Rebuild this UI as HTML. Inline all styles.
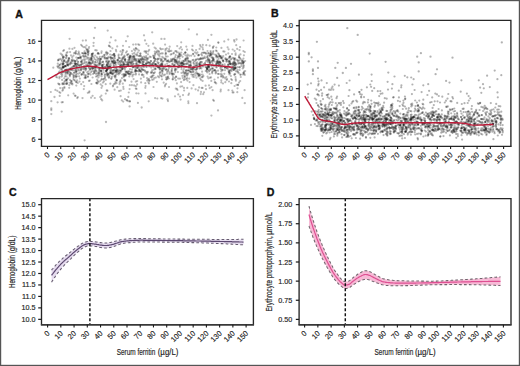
<!DOCTYPE html><html><head><meta charset="utf-8"><style>html,body{margin:0;padding:0;background:#fff}svg{display:block}text{stroke:#2a2a2a;stroke-width:0.16px}text.b{stroke:#111;stroke-width:0.35px}</style></head><body>
<svg width="520" height="366" viewBox="0 0 520 366" font-family='"Liberation Sans", sans-serif'>
<rect x="0" y="0" width="520" height="366" fill="#fff"/>
<g fill="#000" fill-opacity="0.27"><circle cx="201.4" cy="59.1" r="1.1"/><circle cx="108.3" cy="66.9" r="1.1"/><circle cx="205.6" cy="85.7" r="1.1"/><circle cx="108.8" cy="66.8" r="1.1"/><circle cx="99.4" cy="63.8" r="1.1"/><circle cx="148.3" cy="58.2" r="1.1"/><circle cx="91.7" cy="59.8" r="1.1"/><circle cx="169.5" cy="65.5" r="1.1"/><circle cx="172.7" cy="64.0" r="1.1"/><circle cx="146.8" cy="59.3" r="1.1"/><circle cx="185.0" cy="76.6" r="1.1"/><circle cx="121.9" cy="69.6" r="1.1"/><circle cx="212.1" cy="68.3" r="1.1"/><circle cx="101.9" cy="66.4" r="1.1"/><circle cx="174.8" cy="65.4" r="1.1"/><circle cx="67.4" cy="52.2" r="1.1"/><circle cx="120.2" cy="70.5" r="1.1"/><circle cx="61.1" cy="63.6" r="1.1"/><circle cx="112.8" cy="61.9" r="1.1"/><circle cx="209.4" cy="60.1" r="1.1"/><circle cx="241.2" cy="63.9" r="1.1"/><circle cx="168.0" cy="101.1" r="1.1"/><circle cx="182.0" cy="49.6" r="1.1"/><circle cx="135.7" cy="66.3" r="1.1"/><circle cx="128.3" cy="66.2" r="1.1"/><circle cx="239.0" cy="63.3" r="1.1"/><circle cx="181.1" cy="82.1" r="1.1"/><circle cx="220.7" cy="63.2" r="1.1"/><circle cx="75.3" cy="52.4" r="1.1"/><circle cx="161.1" cy="61.1" r="1.1"/><circle cx="87.2" cy="72.4" r="1.1"/><circle cx="157.7" cy="53.7" r="1.1"/><circle cx="222.6" cy="64.6" r="1.1"/><circle cx="161.1" cy="49.3" r="1.1"/><circle cx="130.0" cy="57.4" r="1.1"/><circle cx="112.6" cy="71.0" r="1.1"/><circle cx="238.9" cy="57.4" r="1.1"/><circle cx="133.4" cy="59.5" r="1.1"/><circle cx="220.4" cy="67.0" r="1.1"/><circle cx="165.1" cy="44.6" r="1.1"/><circle cx="119.1" cy="90.9" r="1.1"/><circle cx="79.1" cy="66.0" r="1.1"/><circle cx="208.2" cy="65.6" r="1.1"/><circle cx="131.5" cy="81.7" r="1.1"/><circle cx="204.8" cy="52.5" r="1.1"/><circle cx="191.6" cy="88.4" r="1.1"/><circle cx="88.4" cy="53.2" r="1.1"/><circle cx="84.6" cy="51.4" r="1.1"/><circle cx="235.2" cy="73.9" r="1.1"/><circle cx="116.1" cy="67.6" r="1.1"/><circle cx="235.9" cy="80.7" r="1.1"/><circle cx="241.5" cy="63.2" r="1.1"/><circle cx="195.0" cy="52.3" r="1.1"/><circle cx="62.9" cy="63.0" r="1.1"/><circle cx="98.6" cy="82.1" r="1.1"/><circle cx="182.0" cy="65.6" r="1.1"/><circle cx="114.6" cy="55.6" r="1.1"/><circle cx="89.2" cy="92.4" r="1.1"/><circle cx="91.2" cy="63.8" r="1.1"/><circle cx="214.0" cy="59.5" r="1.1"/><circle cx="167.7" cy="77.6" r="1.1"/><circle cx="166.0" cy="56.7" r="1.1"/><circle cx="140.7" cy="59.7" r="1.1"/><circle cx="173.9" cy="58.5" r="1.1"/><circle cx="61.6" cy="76.6" r="1.1"/><circle cx="192.5" cy="70.0" r="1.1"/><circle cx="221.4" cy="47.9" r="1.1"/><circle cx="228.8" cy="61.5" r="1.1"/><circle cx="55.4" cy="89.9" r="1.1"/><circle cx="99.0" cy="63.1" r="1.1"/><circle cx="86.2" cy="48.6" r="1.1"/><circle cx="82.0" cy="53.1" r="1.1"/><circle cx="233.3" cy="69.8" r="1.1"/><circle cx="208.4" cy="66.7" r="1.1"/><circle cx="169.1" cy="49.2" r="1.1"/><circle cx="162.0" cy="65.5" r="1.1"/><circle cx="216.7" cy="51.2" r="1.1"/><circle cx="115.8" cy="62.5" r="1.1"/><circle cx="71.6" cy="70.0" r="1.1"/><circle cx="74.8" cy="64.3" r="1.1"/><circle cx="222.3" cy="69.8" r="1.1"/><circle cx="161.8" cy="70.8" r="1.1"/><circle cx="168.8" cy="66.2" r="1.1"/><circle cx="179.0" cy="56.3" r="1.1"/><circle cx="113.6" cy="66.0" r="1.1"/><circle cx="81.1" cy="65.4" r="1.1"/><circle cx="176.9" cy="52.3" r="1.1"/><circle cx="123.8" cy="74.2" r="1.1"/><circle cx="138.9" cy="50.6" r="1.1"/><circle cx="69.3" cy="85.1" r="1.1"/><circle cx="75.7" cy="70.0" r="1.1"/><circle cx="212.2" cy="57.3" r="1.1"/><circle cx="122.3" cy="74.5" r="1.1"/><circle cx="91.6" cy="58.2" r="1.1"/><circle cx="114.1" cy="53.8" r="1.1"/><circle cx="65.5" cy="74.3" r="1.1"/><circle cx="162.9" cy="61.3" r="1.1"/><circle cx="64.7" cy="81.0" r="1.1"/><circle cx="75.2" cy="61.1" r="1.1"/><circle cx="75.1" cy="80.6" r="1.1"/><circle cx="227.0" cy="61.6" r="1.1"/><circle cx="109.5" cy="72.7" r="1.1"/><circle cx="170.9" cy="59.3" r="1.1"/><circle cx="123.0" cy="45.8" r="1.1"/><circle cx="68.4" cy="61.4" r="1.1"/><circle cx="181.5" cy="72.9" r="1.1"/><circle cx="62.1" cy="79.9" r="1.1"/><circle cx="197.8" cy="73.8" r="1.1"/><circle cx="101.6" cy="76.3" r="1.1"/><circle cx="74.1" cy="80.1" r="1.1"/><circle cx="206.1" cy="60.9" r="1.1"/><circle cx="201.7" cy="87.9" r="1.1"/><circle cx="175.1" cy="70.3" r="1.1"/><circle cx="198.2" cy="55.4" r="1.1"/><circle cx="190.8" cy="61.4" r="1.1"/><circle cx="123.6" cy="65.9" r="1.1"/><circle cx="155.7" cy="64.1" r="1.1"/><circle cx="156.8" cy="81.8" r="1.1"/><circle cx="124.2" cy="79.9" r="1.1"/><circle cx="229.6" cy="72.6" r="1.1"/><circle cx="76.5" cy="82.1" r="1.1"/><circle cx="244.0" cy="71.7" r="1.1"/><circle cx="229.8" cy="70.3" r="1.1"/><circle cx="72.4" cy="61.1" r="1.1"/><circle cx="162.1" cy="70.3" r="1.1"/><circle cx="196.5" cy="69.2" r="1.1"/><circle cx="228.6" cy="71.2" r="1.1"/><circle cx="200.1" cy="45.1" r="1.1"/><circle cx="142.2" cy="58.0" r="1.1"/><circle cx="110.9" cy="71.9" r="1.1"/><circle cx="190.5" cy="64.9" r="1.1"/><circle cx="97.8" cy="58.5" r="1.1"/><circle cx="94.0" cy="70.9" r="1.1"/><circle cx="73.6" cy="60.6" r="1.1"/><circle cx="218.0" cy="57.0" r="1.1"/><circle cx="85.5" cy="75.9" r="1.1"/><circle cx="101.6" cy="73.8" r="1.1"/><circle cx="104.9" cy="74.3" r="1.1"/><circle cx="172.6" cy="75.2" r="1.1"/><circle cx="127.0" cy="100.2" r="1.1"/><circle cx="220.6" cy="91.4" r="1.1"/><circle cx="76.2" cy="76.3" r="1.1"/><circle cx="90.2" cy="62.3" r="1.1"/><circle cx="57.4" cy="66.4" r="1.1"/><circle cx="167.0" cy="73.6" r="1.1"/><circle cx="95.8" cy="67.8" r="1.1"/><circle cx="183.0" cy="63.3" r="1.1"/><circle cx="108.6" cy="74.0" r="1.1"/><circle cx="229.6" cy="57.1" r="1.1"/><circle cx="79.9" cy="78.6" r="1.1"/><circle cx="67.4" cy="82.8" r="1.1"/><circle cx="162.2" cy="64.6" r="1.1"/><circle cx="104.7" cy="75.4" r="1.1"/><circle cx="187.1" cy="49.7" r="1.1"/><circle cx="235.7" cy="67.3" r="1.1"/><circle cx="130.8" cy="63.9" r="1.1"/><circle cx="213.0" cy="52.4" r="1.1"/><circle cx="180.6" cy="99.6" r="1.1"/><circle cx="157.5" cy="59.6" r="1.1"/><circle cx="62.3" cy="68.2" r="1.1"/><circle cx="141.3" cy="71.6" r="1.1"/><circle cx="190.6" cy="65.7" r="1.1"/><circle cx="192.6" cy="76.6" r="1.1"/><circle cx="159.7" cy="73.6" r="1.1"/><circle cx="232.0" cy="80.0" r="1.1"/><circle cx="138.2" cy="44.3" r="1.1"/><circle cx="157.4" cy="50.7" r="1.1"/><circle cx="165.7" cy="53.2" r="1.1"/><circle cx="87.8" cy="92.8" r="1.1"/><circle cx="88.2" cy="55.1" r="1.1"/><circle cx="196.4" cy="53.6" r="1.1"/><circle cx="157.9" cy="76.4" r="1.1"/><circle cx="140.7" cy="56.1" r="1.1"/><circle cx="209.9" cy="56.1" r="1.1"/><circle cx="175.2" cy="59.8" r="1.1"/><circle cx="158.8" cy="67.2" r="1.1"/><circle cx="195.3" cy="73.4" r="1.1"/><circle cx="140.9" cy="71.7" r="1.1"/><circle cx="148.1" cy="79.5" r="1.1"/><circle cx="211.4" cy="53.4" r="1.1"/><circle cx="137.1" cy="67.8" r="1.1"/><circle cx="218.0" cy="77.6" r="1.1"/><circle cx="158.7" cy="51.1" r="1.1"/><circle cx="182.2" cy="66.5" r="1.1"/><circle cx="131.9" cy="85.2" r="1.1"/><circle cx="106.8" cy="65.6" r="1.1"/><circle cx="118.5" cy="55.8" r="1.1"/><circle cx="122.3" cy="66.5" r="1.1"/><circle cx="123.3" cy="86.9" r="1.1"/><circle cx="222.7" cy="60.2" r="1.1"/><circle cx="183.8" cy="80.1" r="1.1"/><circle cx="219.2" cy="61.5" r="1.1"/><circle cx="146.3" cy="53.1" r="1.1"/><circle cx="131.8" cy="60.5" r="1.1"/><circle cx="199.9" cy="59.0" r="1.1"/><circle cx="122.6" cy="57.6" r="1.1"/><circle cx="88.9" cy="62.0" r="1.1"/><circle cx="187.9" cy="70.4" r="1.1"/><circle cx="209.6" cy="63.5" r="1.1"/><circle cx="61.7" cy="69.4" r="1.1"/><circle cx="97.7" cy="53.8" r="1.1"/><circle cx="123.2" cy="50.4" r="1.1"/><circle cx="100.0" cy="61.2" r="1.1"/><circle cx="152.2" cy="79.8" r="1.1"/><circle cx="106.1" cy="70.9" r="1.1"/><circle cx="99.7" cy="61.0" r="1.1"/><circle cx="132.3" cy="65.4" r="1.1"/><circle cx="188.5" cy="61.1" r="1.1"/><circle cx="76.3" cy="85.6" r="1.1"/><circle cx="230.3" cy="56.8" r="1.1"/><circle cx="171.1" cy="60.9" r="1.1"/><circle cx="196.4" cy="77.7" r="1.1"/><circle cx="99.8" cy="63.7" r="1.1"/><circle cx="145.3" cy="83.2" r="1.1"/><circle cx="135.9" cy="64.1" r="1.1"/><circle cx="76.1" cy="51.2" r="1.1"/><circle cx="83.5" cy="53.5" r="1.1"/><circle cx="237.8" cy="60.3" r="1.1"/><circle cx="85.5" cy="56.2" r="1.1"/><circle cx="142.4" cy="63.5" r="1.1"/><circle cx="139.2" cy="69.3" r="1.1"/><circle cx="102.3" cy="67.1" r="1.1"/><circle cx="85.5" cy="70.5" r="1.1"/><circle cx="129.1" cy="59.0" r="1.1"/><circle cx="209.5" cy="61.6" r="1.1"/><circle cx="180.4" cy="86.7" r="1.1"/><circle cx="179.4" cy="56.7" r="1.1"/><circle cx="200.7" cy="94.1" r="1.1"/><circle cx="71.9" cy="63.3" r="1.1"/><circle cx="169.3" cy="66.4" r="1.1"/><circle cx="182.4" cy="75.9" r="1.1"/><circle cx="236.0" cy="71.2" r="1.1"/><circle cx="115.2" cy="63.1" r="1.1"/><circle cx="185.4" cy="52.7" r="1.1"/><circle cx="115.4" cy="77.7" r="1.1"/><circle cx="75.4" cy="63.4" r="1.1"/><circle cx="109.0" cy="61.4" r="1.1"/><circle cx="231.2" cy="79.2" r="1.1"/><circle cx="225.5" cy="58.1" r="1.1"/><circle cx="216.6" cy="62.2" r="1.1"/><circle cx="97.6" cy="68.0" r="1.1"/><circle cx="206.1" cy="67.4" r="1.1"/><circle cx="91.1" cy="97.7" r="1.1"/><circle cx="233.4" cy="67.3" r="1.1"/><circle cx="187.1" cy="78.2" r="1.1"/><circle cx="209.1" cy="67.4" r="1.1"/><circle cx="150.6" cy="65.5" r="1.1"/><circle cx="66.0" cy="70.5" r="1.1"/><circle cx="199.3" cy="63.8" r="1.1"/><circle cx="110.7" cy="72.9" r="1.1"/><circle cx="138.5" cy="93.5" r="1.1"/><circle cx="106.9" cy="68.9" r="1.1"/><circle cx="174.0" cy="74.2" r="1.1"/><circle cx="123.6" cy="76.1" r="1.1"/><circle cx="186.3" cy="66.8" r="1.1"/><circle cx="189.2" cy="78.6" r="1.1"/><circle cx="192.6" cy="60.1" r="1.1"/><circle cx="137.2" cy="65.4" r="1.1"/><circle cx="109.3" cy="64.6" r="1.1"/><circle cx="92.5" cy="61.5" r="1.1"/><circle cx="83.4" cy="47.1" r="1.1"/><circle cx="140.7" cy="67.5" r="1.1"/><circle cx="102.9" cy="82.6" r="1.1"/><circle cx="148.7" cy="101.3" r="1.1"/><circle cx="73.9" cy="72.9" r="1.1"/><circle cx="142.3" cy="61.0" r="1.1"/><circle cx="62.5" cy="67.2" r="1.1"/><circle cx="121.8" cy="67.3" r="1.1"/><circle cx="63.8" cy="63.5" r="1.1"/><circle cx="208.6" cy="53.4" r="1.1"/><circle cx="112.1" cy="55.2" r="1.1"/><circle cx="126.3" cy="64.8" r="1.1"/><circle cx="65.5" cy="66.0" r="1.1"/><circle cx="236.2" cy="45.2" r="1.1"/><circle cx="176.2" cy="76.9" r="1.1"/><circle cx="161.3" cy="75.8" r="1.1"/><circle cx="164.9" cy="86.3" r="1.1"/><circle cx="157.3" cy="61.7" r="1.1"/><circle cx="163.6" cy="57.8" r="1.1"/><circle cx="82.0" cy="62.4" r="1.1"/><circle cx="209.5" cy="55.6" r="1.1"/><circle cx="156.2" cy="52.5" r="1.1"/><circle cx="128.4" cy="64.9" r="1.1"/><circle cx="122.4" cy="61.9" r="1.1"/><circle cx="184.0" cy="64.0" r="1.1"/><circle cx="70.4" cy="69.4" r="1.1"/><circle cx="230.4" cy="64.0" r="1.1"/><circle cx="98.4" cy="73.2" r="1.1"/><circle cx="58.2" cy="83.6" r="1.1"/><circle cx="87.2" cy="49.5" r="1.1"/><circle cx="230.0" cy="64.1" r="1.1"/><circle cx="83.0" cy="53.3" r="1.1"/><circle cx="152.1" cy="70.4" r="1.1"/><circle cx="135.2" cy="50.6" r="1.1"/><circle cx="196.5" cy="69.6" r="1.1"/><circle cx="207.8" cy="62.0" r="1.1"/><circle cx="202.5" cy="47.4" r="1.1"/><circle cx="220.1" cy="56.2" r="1.1"/><circle cx="138.7" cy="55.9" r="1.1"/><circle cx="149.0" cy="83.5" r="1.1"/><circle cx="76.7" cy="73.8" r="1.1"/><circle cx="59.7" cy="95.9" r="1.1"/><circle cx="75.0" cy="61.6" r="1.1"/><circle cx="104.5" cy="56.7" r="1.1"/><circle cx="114.3" cy="54.2" r="1.1"/><circle cx="99.6" cy="75.5" r="1.1"/><circle cx="197.3" cy="67.7" r="1.1"/><circle cx="110.3" cy="67.1" r="1.1"/><circle cx="99.1" cy="73.8" r="1.1"/><circle cx="135.2" cy="71.8" r="1.1"/><circle cx="232.7" cy="63.4" r="1.1"/><circle cx="189.0" cy="65.5" r="1.1"/><circle cx="185.8" cy="71.3" r="1.1"/><circle cx="226.9" cy="67.8" r="1.1"/><circle cx="67.6" cy="62.7" r="1.1"/><circle cx="233.2" cy="68.7" r="1.1"/><circle cx="229.3" cy="71.2" r="1.1"/><circle cx="62.6" cy="55.7" r="1.1"/><circle cx="139.3" cy="44.9" r="1.1"/><circle cx="193.9" cy="77.1" r="1.1"/><circle cx="244.8" cy="75.0" r="1.1"/><circle cx="208.7" cy="58.6" r="1.1"/><circle cx="243.8" cy="65.5" r="1.1"/><circle cx="234.7" cy="66.2" r="1.1"/><circle cx="233.6" cy="67.8" r="1.1"/><circle cx="122.9" cy="58.9" r="1.1"/><circle cx="141.8" cy="69.6" r="1.1"/><circle cx="125.1" cy="81.0" r="1.1"/><circle cx="76.9" cy="59.9" r="1.1"/><circle cx="197.2" cy="62.3" r="1.1"/><circle cx="94.6" cy="64.6" r="1.1"/><circle cx="103.9" cy="78.8" r="1.1"/><circle cx="198.5" cy="59.4" r="1.1"/><circle cx="112.8" cy="58.5" r="1.1"/><circle cx="86.0" cy="65.2" r="1.1"/><circle cx="107.5" cy="61.4" r="1.1"/><circle cx="162.7" cy="53.4" r="1.1"/><circle cx="117.7" cy="62.5" r="1.1"/><circle cx="165.0" cy="58.8" r="1.1"/><circle cx="187.9" cy="64.2" r="1.1"/><circle cx="239.4" cy="67.2" r="1.1"/><circle cx="99.1" cy="71.7" r="1.1"/><circle cx="243.7" cy="62.1" r="1.1"/><circle cx="235.6" cy="63.4" r="1.1"/><circle cx="151.6" cy="64.6" r="1.1"/><circle cx="187.1" cy="56.3" r="1.1"/><circle cx="113.7" cy="60.2" r="1.1"/><circle cx="64.3" cy="60.9" r="1.1"/><circle cx="114.8" cy="76.7" r="1.1"/><circle cx="134.7" cy="58.4" r="1.1"/><circle cx="188.2" cy="73.2" r="1.1"/><circle cx="225.3" cy="82.2" r="1.1"/><circle cx="67.7" cy="73.7" r="1.1"/><circle cx="173.5" cy="53.5" r="1.1"/><circle cx="80.0" cy="57.4" r="1.1"/><circle cx="115.2" cy="83.7" r="1.1"/><circle cx="66.4" cy="76.4" r="1.1"/><circle cx="182.0" cy="63.3" r="1.1"/><circle cx="170.5" cy="66.9" r="1.1"/><circle cx="100.5" cy="63.6" r="1.1"/><circle cx="175.0" cy="96.3" r="1.1"/><circle cx="62.6" cy="83.2" r="1.1"/><circle cx="203.5" cy="64.0" r="1.1"/><circle cx="84.2" cy="86.1" r="1.1"/><circle cx="97.3" cy="73.3" r="1.1"/><circle cx="128.3" cy="57.1" r="1.1"/><circle cx="148.4" cy="45.8" r="1.1"/><circle cx="136.2" cy="59.0" r="1.1"/><circle cx="189.0" cy="93.6" r="1.1"/><circle cx="111.5" cy="78.5" r="1.1"/><circle cx="233.4" cy="62.2" r="1.1"/><circle cx="68.4" cy="59.8" r="1.1"/><circle cx="243.5" cy="73.1" r="1.1"/><circle cx="60.2" cy="88.1" r="1.1"/><circle cx="148.2" cy="62.2" r="1.1"/><circle cx="74.0" cy="53.1" r="1.1"/><circle cx="129.3" cy="60.4" r="1.1"/><circle cx="171.6" cy="71.7" r="1.1"/><circle cx="162.3" cy="68.2" r="1.1"/><circle cx="209.6" cy="74.0" r="1.1"/><circle cx="186.3" cy="79.2" r="1.1"/><circle cx="155.1" cy="98.1" r="1.1"/><circle cx="133.5" cy="55.9" r="1.1"/><circle cx="60.6" cy="53.6" r="1.1"/><circle cx="124.2" cy="64.3" r="1.1"/><circle cx="107.4" cy="66.8" r="1.1"/><circle cx="83.4" cy="73.2" r="1.1"/><circle cx="237.5" cy="88.3" r="1.1"/><circle cx="106.3" cy="61.9" r="1.1"/><circle cx="105.8" cy="93.6" r="1.1"/><circle cx="114.9" cy="58.4" r="1.1"/><circle cx="230.8" cy="59.4" r="1.1"/><circle cx="207.6" cy="76.6" r="1.1"/><circle cx="123.7" cy="57.4" r="1.1"/><circle cx="63.1" cy="67.7" r="1.1"/><circle cx="171.5" cy="66.4" r="1.1"/><circle cx="207.5" cy="56.9" r="1.1"/><circle cx="239.5" cy="50.1" r="1.1"/><circle cx="171.3" cy="50.9" r="1.1"/><circle cx="88.7" cy="48.5" r="1.1"/><circle cx="106.4" cy="74.3" r="1.1"/><circle cx="74.6" cy="70.4" r="1.1"/><circle cx="230.1" cy="73.5" r="1.1"/><circle cx="75.8" cy="74.6" r="1.1"/><circle cx="163.7" cy="68.9" r="1.1"/><circle cx="133.6" cy="79.1" r="1.1"/><circle cx="179.6" cy="48.5" r="1.1"/><circle cx="127.7" cy="54.7" r="1.1"/><circle cx="226.6" cy="59.8" r="1.1"/><circle cx="190.2" cy="62.2" r="1.1"/><circle cx="224.7" cy="66.6" r="1.1"/><circle cx="181.2" cy="66.6" r="1.1"/><circle cx="237.3" cy="92.2" r="1.1"/><circle cx="81.1" cy="69.6" r="1.1"/><circle cx="66.4" cy="57.4" r="1.1"/><circle cx="165.5" cy="67.1" r="1.1"/><circle cx="70.8" cy="73.1" r="1.1"/><circle cx="207.0" cy="67.8" r="1.1"/><circle cx="76.5" cy="65.9" r="1.1"/><circle cx="172.8" cy="58.8" r="1.1"/><circle cx="218.7" cy="66.0" r="1.1"/><circle cx="149.5" cy="80.6" r="1.1"/><circle cx="159.9" cy="58.6" r="1.1"/><circle cx="192.7" cy="74.8" r="1.1"/><circle cx="132.5" cy="75.0" r="1.1"/><circle cx="202.1" cy="71.7" r="1.1"/><circle cx="174.8" cy="78.2" r="1.1"/><circle cx="141.3" cy="60.1" r="1.1"/><circle cx="111.4" cy="61.0" r="1.1"/><circle cx="235.1" cy="63.3" r="1.1"/><circle cx="244.3" cy="73.9" r="1.1"/><circle cx="63.9" cy="60.9" r="1.1"/><circle cx="85.8" cy="75.0" r="1.1"/><circle cx="109.2" cy="67.9" r="1.1"/><circle cx="113.9" cy="70.4" r="1.1"/><circle cx="237.6" cy="67.2" r="1.1"/><circle cx="219.8" cy="55.9" r="1.1"/><circle cx="107.0" cy="70.1" r="1.1"/><circle cx="106.1" cy="71.7" r="1.1"/><circle cx="65.7" cy="61.9" r="1.1"/><circle cx="196.4" cy="72.0" r="1.1"/><circle cx="78.4" cy="73.7" r="1.1"/><circle cx="107.6" cy="68.0" r="1.1"/><circle cx="61.0" cy="73.9" r="1.1"/><circle cx="242.1" cy="61.7" r="1.1"/><circle cx="200.2" cy="78.4" r="1.1"/><circle cx="220.6" cy="57.0" r="1.1"/><circle cx="219.7" cy="56.7" r="1.1"/><circle cx="189.6" cy="65.2" r="1.1"/><circle cx="101.5" cy="87.8" r="1.1"/><circle cx="165.3" cy="64.7" r="1.1"/><circle cx="231.9" cy="68.4" r="1.1"/><circle cx="87.4" cy="58.6" r="1.1"/><circle cx="209.7" cy="88.2" r="1.1"/><circle cx="149.8" cy="56.7" r="1.1"/><circle cx="177.8" cy="66.8" r="1.1"/><circle cx="66.5" cy="55.6" r="1.1"/><circle cx="221.9" cy="74.3" r="1.1"/><circle cx="59.9" cy="64.8" r="1.1"/><circle cx="124.8" cy="59.4" r="1.1"/><circle cx="115.7" cy="76.1" r="1.1"/><circle cx="187.8" cy="57.9" r="1.1"/><circle cx="209.0" cy="71.4" r="1.1"/><circle cx="238.2" cy="63.4" r="1.1"/><circle cx="74.4" cy="72.5" r="1.1"/><circle cx="107.7" cy="68.5" r="1.1"/><circle cx="168.8" cy="61.8" r="1.1"/><circle cx="66.5" cy="83.7" r="1.1"/><circle cx="221.2" cy="65.9" r="1.1"/><circle cx="74.5" cy="47.8" r="1.1"/><circle cx="143.5" cy="62.4" r="1.1"/><circle cx="147.1" cy="73.6" r="1.1"/><circle cx="129.4" cy="74.0" r="1.1"/><circle cx="81.0" cy="57.3" r="1.1"/><circle cx="66.5" cy="79.9" r="1.1"/><circle cx="228.6" cy="49.3" r="1.1"/><circle cx="100.7" cy="84.4" r="1.1"/><circle cx="66.1" cy="83.7" r="1.1"/><circle cx="65.9" cy="58.3" r="1.1"/><circle cx="106.9" cy="65.0" r="1.1"/><circle cx="99.6" cy="65.2" r="1.1"/><circle cx="199.1" cy="87.4" r="1.1"/><circle cx="119.7" cy="82.4" r="1.1"/><circle cx="192.0" cy="49.6" r="1.1"/><circle cx="159.1" cy="77.3" r="1.1"/><circle cx="235.1" cy="68.4" r="1.1"/><circle cx="120.8" cy="90.6" r="1.1"/><circle cx="74.3" cy="60.6" r="1.1"/><circle cx="85.9" cy="68.2" r="1.1"/><circle cx="223.8" cy="77.3" r="1.1"/><circle cx="181.1" cy="63.0" r="1.1"/><circle cx="57.8" cy="63.7" r="1.1"/><circle cx="147.4" cy="62.9" r="1.1"/><circle cx="148.3" cy="62.8" r="1.1"/><circle cx="178.2" cy="78.6" r="1.1"/><circle cx="58.6" cy="59.7" r="1.1"/><circle cx="225.3" cy="59.0" r="1.1"/><circle cx="153.9" cy="73.3" r="1.1"/><circle cx="233.4" cy="65.2" r="1.1"/><circle cx="129.8" cy="85.2" r="1.1"/><circle cx="193.7" cy="66.5" r="1.1"/><circle cx="64.2" cy="82.4" r="1.1"/><circle cx="240.0" cy="62.9" r="1.1"/><circle cx="201.2" cy="64.3" r="1.1"/><circle cx="139.6" cy="70.4" r="1.1"/><circle cx="184.1" cy="61.6" r="1.1"/><circle cx="189.5" cy="66.4" r="1.1"/><circle cx="130.4" cy="65.6" r="1.1"/><circle cx="146.1" cy="63.2" r="1.1"/><circle cx="96.9" cy="66.1" r="1.1"/><circle cx="135.7" cy="60.9" r="1.1"/><circle cx="116.8" cy="74.1" r="1.1"/><circle cx="226.2" cy="61.5" r="1.1"/><circle cx="158.1" cy="59.1" r="1.1"/><circle cx="179.9" cy="78.7" r="1.1"/><circle cx="113.4" cy="54.9" r="1.1"/><circle cx="101.2" cy="58.5" r="1.1"/><circle cx="183.0" cy="95.1" r="1.1"/><circle cx="207.9" cy="59.0" r="1.1"/><circle cx="112.4" cy="48.3" r="1.1"/><circle cx="65.9" cy="54.9" r="1.1"/><circle cx="162.3" cy="63.5" r="1.1"/><circle cx="137.0" cy="55.5" r="1.1"/><circle cx="191.7" cy="72.2" r="1.1"/><circle cx="195.5" cy="75.6" r="1.1"/><circle cx="66.7" cy="62.7" r="1.1"/><circle cx="223.4" cy="61.1" r="1.1"/><circle cx="200.7" cy="58.6" r="1.1"/><circle cx="186.0" cy="63.9" r="1.1"/><circle cx="112.6" cy="61.6" r="1.1"/><circle cx="153.4" cy="66.8" r="1.1"/><circle cx="174.4" cy="59.4" r="1.1"/><circle cx="124.7" cy="56.7" r="1.1"/><circle cx="117.1" cy="70.3" r="1.1"/><circle cx="139.5" cy="56.1" r="1.1"/><circle cx="92.6" cy="77.5" r="1.1"/><circle cx="63.9" cy="67.4" r="1.1"/><circle cx="224.5" cy="51.6" r="1.1"/><circle cx="70.1" cy="52.1" r="1.1"/><circle cx="74.4" cy="63.2" r="1.1"/><circle cx="73.5" cy="66.2" r="1.1"/><circle cx="146.4" cy="72.7" r="1.1"/><circle cx="111.9" cy="61.4" r="1.1"/><circle cx="120.5" cy="51.4" r="1.1"/><circle cx="77.0" cy="76.3" r="1.1"/><circle cx="134.2" cy="58.4" r="1.1"/><circle cx="210.4" cy="62.3" r="1.1"/><circle cx="75.7" cy="61.3" r="1.1"/><circle cx="175.8" cy="88.7" r="1.1"/><circle cx="122.0" cy="59.1" r="1.1"/><circle cx="230.9" cy="76.0" r="1.1"/><circle cx="126.9" cy="51.3" r="1.1"/><circle cx="185.9" cy="61.2" r="1.1"/><circle cx="205.7" cy="71.0" r="1.1"/><circle cx="178.7" cy="52.5" r="1.1"/><circle cx="140.4" cy="53.3" r="1.1"/><circle cx="128.4" cy="64.7" r="1.1"/><circle cx="86.5" cy="45.5" r="1.1"/><circle cx="140.1" cy="70.7" r="1.1"/><circle cx="176.3" cy="60.8" r="1.1"/><circle cx="210.7" cy="52.3" r="1.1"/><circle cx="195.8" cy="59.6" r="1.1"/><circle cx="212.0" cy="65.8" r="1.1"/><circle cx="181.2" cy="63.9" r="1.1"/><circle cx="115.7" cy="70.5" r="1.1"/><circle cx="79.9" cy="72.8" r="1.1"/><circle cx="121.7" cy="60.9" r="1.1"/><circle cx="216.3" cy="71.3" r="1.1"/><circle cx="92.1" cy="71.0" r="1.1"/><circle cx="67.6" cy="61.2" r="1.1"/><circle cx="235.6" cy="54.9" r="1.1"/><circle cx="149.2" cy="49.9" r="1.1"/><circle cx="135.9" cy="73.5" r="1.1"/><circle cx="148.5" cy="82.4" r="1.1"/><circle cx="109.7" cy="67.2" r="1.1"/><circle cx="243.1" cy="64.1" r="1.1"/><circle cx="216.6" cy="56.1" r="1.1"/><circle cx="133.3" cy="67.2" r="1.1"/><circle cx="70.3" cy="68.6" r="1.1"/><circle cx="117.9" cy="66.8" r="1.1"/><circle cx="230.4" cy="63.6" r="1.1"/><circle cx="78.1" cy="57.8" r="1.1"/><circle cx="80.7" cy="58.4" r="1.1"/><circle cx="234.3" cy="68.3" r="1.1"/><circle cx="86.6" cy="62.1" r="1.1"/><circle cx="177.2" cy="46.1" r="1.1"/><circle cx="99.8" cy="56.8" r="1.1"/><circle cx="145.2" cy="71.5" r="1.1"/><circle cx="139.0" cy="59.9" r="1.1"/><circle cx="63.0" cy="89.7" r="1.1"/><circle cx="95.4" cy="71.5" r="1.1"/><circle cx="87.7" cy="65.8" r="1.1"/><circle cx="216.5" cy="64.2" r="1.1"/><circle cx="111.3" cy="69.5" r="1.1"/><circle cx="135.8" cy="88.5" r="1.1"/><circle cx="132.0" cy="69.7" r="1.1"/><circle cx="64.3" cy="78.3" r="1.1"/><circle cx="143.3" cy="67.1" r="1.1"/><circle cx="176.0" cy="63.1" r="1.1"/><circle cx="70.1" cy="82.9" r="1.1"/><circle cx="110.0" cy="66.3" r="1.1"/><circle cx="183.3" cy="64.5" r="1.1"/><circle cx="107.8" cy="74.8" r="1.1"/><circle cx="230.5" cy="70.4" r="1.1"/><circle cx="117.8" cy="60.5" r="1.1"/><circle cx="116.2" cy="68.1" r="1.1"/><circle cx="216.2" cy="83.4" r="1.1"/><circle cx="243.5" cy="67.5" r="1.1"/><circle cx="121.2" cy="71.4" r="1.1"/><circle cx="179.0" cy="66.1" r="1.1"/><circle cx="128.1" cy="61.6" r="1.1"/><circle cx="184.2" cy="64.2" r="1.1"/><circle cx="140.9" cy="78.7" r="1.1"/><circle cx="154.2" cy="78.0" r="1.1"/><circle cx="95.8" cy="67.1" r="1.1"/><circle cx="86.8" cy="66.3" r="1.1"/><circle cx="130.7" cy="56.1" r="1.1"/><circle cx="120.5" cy="81.5" r="1.1"/><circle cx="207.7" cy="55.5" r="1.1"/><circle cx="135.4" cy="54.5" r="1.1"/><circle cx="155.7" cy="59.2" r="1.1"/><circle cx="112.5" cy="58.1" r="1.1"/><circle cx="223.3" cy="56.0" r="1.1"/><circle cx="145.3" cy="87.8" r="1.1"/><circle cx="139.8" cy="62.1" r="1.1"/><circle cx="143.7" cy="61.4" r="1.1"/><circle cx="77.1" cy="67.9" r="1.1"/><circle cx="182.1" cy="65.3" r="1.1"/><circle cx="122.5" cy="52.0" r="1.1"/><circle cx="212.6" cy="90.2" r="1.1"/><circle cx="65.0" cy="70.4" r="1.1"/><circle cx="112.8" cy="73.3" r="1.1"/><circle cx="172.7" cy="79.1" r="1.1"/><circle cx="93.1" cy="60.9" r="1.1"/><circle cx="198.5" cy="76.3" r="1.1"/><circle cx="81.0" cy="61.8" r="1.1"/><circle cx="123.8" cy="62.3" r="1.1"/><circle cx="61.4" cy="59.7" r="1.1"/><circle cx="137.4" cy="49.3" r="1.1"/><circle cx="124.8" cy="60.4" r="1.1"/><circle cx="123.3" cy="67.9" r="1.1"/><circle cx="146.9" cy="71.9" r="1.1"/><circle cx="205.2" cy="62.7" r="1.1"/><circle cx="139.3" cy="62.3" r="1.1"/><circle cx="208.4" cy="78.3" r="1.1"/><circle cx="190.7" cy="63.3" r="1.1"/><circle cx="186.4" cy="63.8" r="1.1"/><circle cx="100.0" cy="59.4" r="1.1"/><circle cx="178.2" cy="62.5" r="1.1"/><circle cx="201.4" cy="68.5" r="1.1"/><circle cx="56.5" cy="75.1" r="1.1"/><circle cx="101.9" cy="79.1" r="1.1"/><circle cx="83.2" cy="82.1" r="1.1"/><circle cx="116.8" cy="80.1" r="1.1"/><circle cx="153.5" cy="87.0" r="1.1"/><circle cx="97.7" cy="61.0" r="1.1"/><circle cx="193.4" cy="85.2" r="1.1"/><circle cx="62.9" cy="56.9" r="1.1"/><circle cx="162.5" cy="69.2" r="1.1"/><circle cx="134.5" cy="56.4" r="1.1"/><circle cx="150.9" cy="72.4" r="1.1"/><circle cx="101.4" cy="72.5" r="1.1"/><circle cx="202.4" cy="66.3" r="1.1"/><circle cx="88.9" cy="63.0" r="1.1"/><circle cx="240.8" cy="74.5" r="1.1"/><circle cx="154.8" cy="64.3" r="1.1"/><circle cx="232.7" cy="64.3" r="1.1"/><circle cx="131.4" cy="72.4" r="1.1"/><circle cx="82.2" cy="60.0" r="1.1"/><circle cx="202.6" cy="87.9" r="1.1"/><circle cx="181.7" cy="62.9" r="1.1"/><circle cx="94.5" cy="68.7" r="1.1"/><circle cx="187.1" cy="75.7" r="1.1"/><circle cx="137.5" cy="68.1" r="1.1"/><circle cx="94.0" cy="67.3" r="1.1"/><circle cx="131.1" cy="62.9" r="1.1"/><circle cx="79.5" cy="54.7" r="1.1"/><circle cx="88.0" cy="76.7" r="1.1"/><circle cx="81.2" cy="84.2" r="1.1"/><circle cx="88.9" cy="80.9" r="1.1"/><circle cx="213.7" cy="70.5" r="1.1"/><circle cx="67.7" cy="64.5" r="1.1"/><circle cx="147.2" cy="80.6" r="1.1"/><circle cx="202.5" cy="77.2" r="1.1"/><circle cx="146.8" cy="61.2" r="1.1"/><circle cx="138.5" cy="62.0" r="1.1"/><circle cx="81.0" cy="64.8" r="1.1"/><circle cx="101.4" cy="71.2" r="1.1"/><circle cx="202.8" cy="44.9" r="1.1"/><circle cx="89.7" cy="64.5" r="1.1"/><circle cx="110.7" cy="71.4" r="1.1"/><circle cx="122.6" cy="50.0" r="1.1"/><circle cx="216.5" cy="57.5" r="1.1"/><circle cx="137.9" cy="65.7" r="1.1"/><circle cx="62.9" cy="58.8" r="1.1"/><circle cx="179.1" cy="62.1" r="1.1"/><circle cx="129.7" cy="57.9" r="1.1"/><circle cx="67.3" cy="65.1" r="1.1"/><circle cx="69.7" cy="74.6" r="1.1"/><circle cx="95.2" cy="55.6" r="1.1"/><circle cx="138.0" cy="61.4" r="1.1"/><circle cx="237.6" cy="72.2" r="1.1"/><circle cx="113.2" cy="70.3" r="1.1"/><circle cx="64.4" cy="88.1" r="1.1"/><circle cx="184.2" cy="66.5" r="1.1"/><circle cx="113.4" cy="63.8" r="1.1"/><circle cx="231.5" cy="58.7" r="1.1"/><circle cx="234.1" cy="63.1" r="1.1"/><circle cx="66.4" cy="79.5" r="1.1"/><circle cx="179.7" cy="53.9" r="1.1"/><circle cx="160.5" cy="69.2" r="1.1"/><circle cx="229.5" cy="56.8" r="1.1"/><circle cx="87.9" cy="50.2" r="1.1"/><circle cx="92.2" cy="67.5" r="1.1"/><circle cx="239.9" cy="57.9" r="1.1"/><circle cx="107.3" cy="75.1" r="1.1"/><circle cx="68.2" cy="69.1" r="1.1"/><circle cx="212.9" cy="48.1" r="1.1"/><circle cx="165.5" cy="49.2" r="1.1"/><circle cx="185.3" cy="52.5" r="1.1"/><circle cx="106.7" cy="58.2" r="1.1"/><circle cx="120.0" cy="70.7" r="1.1"/><circle cx="145.5" cy="93.4" r="1.1"/><circle cx="116.4" cy="79.9" r="1.1"/><circle cx="234.6" cy="60.8" r="1.1"/><circle cx="207.9" cy="64.8" r="1.1"/><circle cx="104.0" cy="81.4" r="1.1"/><circle cx="91.4" cy="58.8" r="1.1"/><circle cx="135.5" cy="68.4" r="1.1"/><circle cx="201.9" cy="77.0" r="1.1"/><circle cx="234.0" cy="58.3" r="1.1"/><circle cx="106.7" cy="70.8" r="1.1"/><circle cx="114.7" cy="67.5" r="1.1"/><circle cx="212.9" cy="60.0" r="1.1"/><circle cx="124.8" cy="68.2" r="1.1"/><circle cx="174.8" cy="60.5" r="1.1"/><circle cx="153.6" cy="79.5" r="1.1"/><circle cx="154.6" cy="47.6" r="1.1"/><circle cx="153.6" cy="56.4" r="1.1"/><circle cx="210.2" cy="53.5" r="1.1"/><circle cx="154.9" cy="53.6" r="1.1"/><circle cx="210.6" cy="51.0" r="1.1"/><circle cx="227.7" cy="66.6" r="1.1"/><circle cx="119.0" cy="58.1" r="1.1"/><circle cx="114.9" cy="61.4" r="1.1"/><circle cx="94.8" cy="64.4" r="1.1"/><circle cx="70.7" cy="69.7" r="1.1"/><circle cx="133.1" cy="67.0" r="1.1"/><circle cx="105.2" cy="67.3" r="1.1"/><circle cx="197.0" cy="73.7" r="1.1"/><circle cx="166.3" cy="69.0" r="1.1"/><circle cx="101.9" cy="65.0" r="1.1"/><circle cx="184.1" cy="90.5" r="1.1"/><circle cx="237.9" cy="61.4" r="1.1"/><circle cx="97.5" cy="83.5" r="1.1"/><circle cx="209.2" cy="66.4" r="1.1"/><circle cx="228.9" cy="64.5" r="1.1"/><circle cx="152.8" cy="64.2" r="1.1"/><circle cx="229.0" cy="81.5" r="1.1"/><circle cx="167.4" cy="78.8" r="1.1"/><circle cx="161.4" cy="53.4" r="1.1"/><circle cx="140.3" cy="58.8" r="1.1"/><circle cx="107.5" cy="53.1" r="1.1"/><circle cx="211.0" cy="65.5" r="1.1"/><circle cx="106.5" cy="51.9" r="1.1"/><circle cx="216.3" cy="47.5" r="1.1"/><circle cx="210.7" cy="54.2" r="1.1"/><circle cx="108.9" cy="45.7" r="1.1"/><circle cx="221.7" cy="57.9" r="1.1"/><circle cx="195.5" cy="69.8" r="1.1"/><circle cx="125.1" cy="59.1" r="1.1"/><circle cx="225.3" cy="66.8" r="1.1"/><circle cx="228.9" cy="72.4" r="1.1"/><circle cx="82.0" cy="74.0" r="1.1"/><circle cx="109.3" cy="46.1" r="1.1"/><circle cx="146.8" cy="66.8" r="1.1"/><circle cx="197.2" cy="63.9" r="1.1"/><circle cx="77.9" cy="69.7" r="1.1"/><circle cx="219.9" cy="61.6" r="1.1"/><circle cx="121.4" cy="65.4" r="1.1"/><circle cx="84.0" cy="66.7" r="1.1"/><circle cx="94.7" cy="73.0" r="1.1"/><circle cx="124.0" cy="74.7" r="1.1"/><circle cx="141.6" cy="68.4" r="1.1"/><circle cx="223.0" cy="60.6" r="1.1"/><circle cx="225.3" cy="78.4" r="1.1"/><circle cx="205.9" cy="53.0" r="1.1"/><circle cx="166.8" cy="48.4" r="1.1"/><circle cx="203.7" cy="57.9" r="1.1"/><circle cx="212.2" cy="62.5" r="1.1"/><circle cx="96.1" cy="74.1" r="1.1"/><circle cx="162.0" cy="79.3" r="1.1"/><circle cx="201.0" cy="79.8" r="1.1"/><circle cx="92.6" cy="95.8" r="1.1"/><circle cx="73.4" cy="79.0" r="1.1"/><circle cx="94.8" cy="98.0" r="1.1"/><circle cx="159.9" cy="53.8" r="1.1"/><circle cx="185.3" cy="66.5" r="1.1"/><circle cx="115.4" cy="82.0" r="1.1"/><circle cx="88.8" cy="66.8" r="1.1"/><circle cx="173.7" cy="66.3" r="1.1"/><circle cx="165.9" cy="53.3" r="1.1"/><circle cx="209.7" cy="45.7" r="1.1"/><circle cx="181.6" cy="69.2" r="1.1"/><circle cx="167.9" cy="65.9" r="1.1"/><circle cx="64.3" cy="60.2" r="1.1"/><circle cx="143.5" cy="65.1" r="1.1"/><circle cx="199.4" cy="68.6" r="1.1"/><circle cx="110.8" cy="63.6" r="1.1"/><circle cx="90.6" cy="60.1" r="1.1"/><circle cx="128.3" cy="59.9" r="1.1"/><circle cx="243.4" cy="66.4" r="1.1"/><circle cx="120.0" cy="64.3" r="1.1"/><circle cx="85.3" cy="77.1" r="1.1"/><circle cx="216.3" cy="54.8" r="1.1"/><circle cx="203.4" cy="66.5" r="1.1"/><circle cx="193.4" cy="71.4" r="1.1"/><circle cx="110.9" cy="67.9" r="1.1"/><circle cx="90.6" cy="67.7" r="1.1"/><circle cx="72.0" cy="74.0" r="1.1"/><circle cx="66.5" cy="81.2" r="1.1"/><circle cx="199.6" cy="48.9" r="1.1"/><circle cx="179.1" cy="61.0" r="1.1"/><circle cx="168.3" cy="60.8" r="1.1"/><circle cx="186.3" cy="46.6" r="1.1"/><circle cx="102.3" cy="65.5" r="1.1"/><circle cx="71.9" cy="61.1" r="1.1"/><circle cx="177.2" cy="62.9" r="1.1"/><circle cx="122.1" cy="53.7" r="1.1"/><circle cx="90.1" cy="63.2" r="1.1"/><circle cx="243.5" cy="61.4" r="1.1"/><circle cx="177.0" cy="88.8" r="1.1"/><circle cx="70.5" cy="63.6" r="1.1"/><circle cx="202.0" cy="52.8" r="1.1"/><circle cx="195.6" cy="89.3" r="1.1"/><circle cx="74.2" cy="66.0" r="1.1"/><circle cx="184.5" cy="79.5" r="1.1"/><circle cx="174.0" cy="65.4" r="1.1"/><circle cx="62.4" cy="84.2" r="1.1"/><circle cx="216.1" cy="56.2" r="1.1"/><circle cx="213.0" cy="68.6" r="1.1"/><circle cx="162.3" cy="64.6" r="1.1"/><circle cx="193.5" cy="67.8" r="1.1"/><circle cx="146.8" cy="63.9" r="1.1"/><circle cx="179.1" cy="66.7" r="1.1"/><circle cx="84.6" cy="77.9" r="1.1"/><circle cx="189.9" cy="71.2" r="1.1"/><circle cx="136.5" cy="65.0" r="1.1"/><circle cx="149.2" cy="62.3" r="1.1"/><circle cx="122.8" cy="83.7" r="1.1"/><circle cx="172.2" cy="64.1" r="1.1"/><circle cx="117.2" cy="46.4" r="1.1"/><circle cx="185.8" cy="59.9" r="1.1"/><circle cx="162.3" cy="72.6" r="1.1"/><circle cx="197.0" cy="68.4" r="1.1"/><circle cx="190.2" cy="68.9" r="1.1"/><circle cx="115.9" cy="65.1" r="1.1"/><circle cx="224.9" cy="67.8" r="1.1"/><circle cx="212.3" cy="68.6" r="1.1"/><circle cx="193.1" cy="50.5" r="1.1"/><circle cx="77.4" cy="63.9" r="1.1"/><circle cx="162.1" cy="65.5" r="1.1"/><circle cx="196.9" cy="65.5" r="1.1"/><circle cx="120.5" cy="80.4" r="1.1"/><circle cx="66.7" cy="55.7" r="1.1"/><circle cx="229.4" cy="60.9" r="1.1"/><circle cx="218.1" cy="53.3" r="1.1"/><circle cx="154.6" cy="56.0" r="1.1"/><circle cx="121.4" cy="60.6" r="1.1"/><circle cx="226.0" cy="54.6" r="1.1"/><circle cx="200.7" cy="46.6" r="1.1"/><circle cx="85.5" cy="62.7" r="1.1"/><circle cx="161.8" cy="76.6" r="1.1"/><circle cx="96.9" cy="82.5" r="1.1"/><circle cx="113.1" cy="85.5" r="1.1"/><circle cx="167.5" cy="77.3" r="1.1"/><circle cx="107.1" cy="69.7" r="1.1"/><circle cx="82.7" cy="68.2" r="1.1"/><circle cx="137.8" cy="71.0" r="1.1"/><circle cx="221.3" cy="82.4" r="1.1"/><circle cx="242.7" cy="68.5" r="1.1"/><circle cx="93.6" cy="42.8" r="1.1"/><circle cx="185.9" cy="72.8" r="1.1"/><circle cx="118.5" cy="64.0" r="1.1"/><circle cx="107.6" cy="76.2" r="1.1"/><circle cx="204.0" cy="92.3" r="1.1"/><circle cx="166.1" cy="59.3" r="1.1"/><circle cx="180.3" cy="55.9" r="1.1"/><circle cx="193.4" cy="63.0" r="1.1"/><circle cx="161.6" cy="63.3" r="1.1"/><circle cx="70.1" cy="64.5" r="1.1"/><circle cx="71.1" cy="80.8" r="1.1"/><circle cx="199.1" cy="73.8" r="1.1"/><circle cx="124.4" cy="55.7" r="1.1"/><circle cx="216.0" cy="65.2" r="1.1"/><circle cx="115.4" cy="63.7" r="1.1"/><circle cx="184.0" cy="60.8" r="1.1"/><circle cx="243.6" cy="40.5" r="1.1"/><circle cx="179.7" cy="58.6" r="1.1"/><circle cx="196.0" cy="63.2" r="1.1"/><circle cx="63.6" cy="71.9" r="1.1"/><circle cx="200.8" cy="74.5" r="1.1"/><circle cx="154.0" cy="61.8" r="1.1"/><circle cx="196.1" cy="65.6" r="1.1"/><circle cx="207.6" cy="60.6" r="1.1"/><circle cx="146.2" cy="56.1" r="1.1"/><circle cx="202.3" cy="58.4" r="1.1"/><circle cx="183.1" cy="60.9" r="1.1"/><circle cx="217.0" cy="61.7" r="1.1"/><circle cx="234.1" cy="40.2" r="1.1"/><circle cx="242.3" cy="97.9" r="1.1"/><circle cx="193.4" cy="59.9" r="1.1"/><circle cx="132.5" cy="76.5" r="1.1"/><circle cx="58.5" cy="59.9" r="1.1"/><circle cx="69.9" cy="76.3" r="1.1"/><circle cx="92.8" cy="56.2" r="1.1"/><circle cx="113.8" cy="63.6" r="1.1"/><circle cx="232.6" cy="92.5" r="1.1"/><circle cx="176.9" cy="83.4" r="1.1"/><circle cx="210.3" cy="69.0" r="1.1"/><circle cx="64.9" cy="70.1" r="1.1"/><circle cx="82.8" cy="40.6" r="1.1"/><circle cx="229.6" cy="62.4" r="1.1"/><circle cx="130.6" cy="73.7" r="1.1"/><circle cx="198.6" cy="54.9" r="1.1"/><circle cx="211.4" cy="54.9" r="1.1"/><circle cx="108.3" cy="62.6" r="1.1"/><circle cx="79.1" cy="76.3" r="1.1"/><circle cx="62.4" cy="71.4" r="1.1"/><circle cx="189.6" cy="82.1" r="1.1"/><circle cx="213.1" cy="58.5" r="1.1"/><circle cx="215.3" cy="70.6" r="1.1"/><circle cx="58.0" cy="60.5" r="1.1"/><circle cx="125.6" cy="71.8" r="1.1"/><circle cx="84.1" cy="63.2" r="1.1"/><circle cx="198.4" cy="75.6" r="1.1"/><circle cx="198.9" cy="74.9" r="1.1"/><circle cx="76.2" cy="82.1" r="1.1"/><circle cx="63.2" cy="64.4" r="1.1"/><circle cx="123.1" cy="65.3" r="1.1"/><circle cx="107.3" cy="73.7" r="1.1"/><circle cx="183.3" cy="65.0" r="1.1"/><circle cx="87.6" cy="51.5" r="1.1"/><circle cx="136.3" cy="93.3" r="1.1"/><circle cx="107.4" cy="66.5" r="1.1"/><circle cx="125.9" cy="74.6" r="1.1"/><circle cx="140.0" cy="70.8" r="1.1"/><circle cx="79.5" cy="81.6" r="1.1"/><circle cx="141.9" cy="65.7" r="1.1"/><circle cx="129.9" cy="101.3" r="1.1"/><circle cx="216.2" cy="64.2" r="1.1"/><circle cx="121.4" cy="54.9" r="1.1"/><circle cx="124.2" cy="64.7" r="1.1"/><circle cx="160.4" cy="67.4" r="1.1"/><circle cx="101.9" cy="68.7" r="1.1"/><circle cx="100.4" cy="59.1" r="1.1"/><circle cx="69.2" cy="58.3" r="1.1"/><circle cx="83.7" cy="55.7" r="1.1"/><circle cx="175.2" cy="57.2" r="1.1"/><circle cx="129.6" cy="89.1" r="1.1"/><circle cx="203.2" cy="94.2" r="1.1"/><circle cx="212.7" cy="64.1" r="1.1"/><circle cx="182.3" cy="62.9" r="1.1"/><circle cx="141.9" cy="75.1" r="1.1"/><circle cx="92.0" cy="67.0" r="1.1"/><circle cx="160.8" cy="60.1" r="1.1"/><circle cx="216.3" cy="66.9" r="1.1"/><circle cx="207.7" cy="59.8" r="1.1"/><circle cx="152.9" cy="65.0" r="1.1"/><circle cx="81.0" cy="69.5" r="1.1"/><circle cx="185.4" cy="59.1" r="1.1"/><circle cx="229.1" cy="66.9" r="1.1"/><circle cx="102.2" cy="100.4" r="1.1"/><circle cx="202.6" cy="80.9" r="1.1"/><circle cx="150.1" cy="63.0" r="1.1"/><circle cx="168.4" cy="71.4" r="1.1"/><circle cx="207.5" cy="51.0" r="1.1"/><circle cx="190.8" cy="72.2" r="1.1"/><circle cx="232.7" cy="49.5" r="1.1"/><circle cx="230.0" cy="56.1" r="1.1"/><circle cx="168.1" cy="70.2" r="1.1"/><circle cx="119.1" cy="62.1" r="1.1"/><circle cx="93.1" cy="53.3" r="1.1"/><circle cx="148.9" cy="78.8" r="1.1"/><circle cx="169.8" cy="61.8" r="1.1"/><circle cx="169.7" cy="46.7" r="1.1"/><circle cx="123.2" cy="101.6" r="1.1"/><circle cx="234.8" cy="59.2" r="1.1"/><circle cx="217.8" cy="61.9" r="1.1"/><circle cx="209.5" cy="62.1" r="1.1"/><circle cx="226.7" cy="80.1" r="1.1"/><circle cx="136.5" cy="88.9" r="1.1"/><circle cx="91.7" cy="54.3" r="1.1"/><circle cx="100.9" cy="59.4" r="1.1"/><circle cx="207.0" cy="69.1" r="1.1"/><circle cx="243.4" cy="51.1" r="1.1"/><circle cx="197.7" cy="73.5" r="1.1"/><circle cx="71.6" cy="60.0" r="1.1"/><circle cx="234.2" cy="62.1" r="1.1"/><circle cx="228.3" cy="53.4" r="1.1"/><circle cx="172.7" cy="59.8" r="1.1"/><circle cx="187.6" cy="54.7" r="1.1"/><circle cx="180.2" cy="63.0" r="1.1"/><circle cx="155.2" cy="54.4" r="1.1"/><circle cx="212.8" cy="58.7" r="1.1"/><circle cx="64.0" cy="50.2" r="1.1"/><circle cx="151.2" cy="67.6" r="1.1"/><circle cx="137.7" cy="52.5" r="1.1"/><circle cx="236.7" cy="59.8" r="1.1"/><circle cx="171.3" cy="61.2" r="1.1"/><circle cx="209.5" cy="70.6" r="1.1"/><circle cx="131.9" cy="58.8" r="1.1"/><circle cx="218.0" cy="73.8" r="1.1"/><circle cx="173.0" cy="73.6" r="1.1"/><circle cx="84.1" cy="57.1" r="1.1"/><circle cx="199.2" cy="75.1" r="1.1"/><circle cx="244.8" cy="52.0" r="1.1"/><circle cx="84.5" cy="66.7" r="1.1"/><circle cx="105.8" cy="79.9" r="1.1"/><circle cx="139.4" cy="61.4" r="1.1"/><circle cx="130.8" cy="71.9" r="1.1"/><circle cx="145.8" cy="64.1" r="1.1"/><circle cx="102.8" cy="67.4" r="1.1"/><circle cx="123.7" cy="63.8" r="1.1"/><circle cx="128.3" cy="54.1" r="1.1"/><circle cx="67.8" cy="73.0" r="1.1"/><circle cx="181.2" cy="52.6" r="1.1"/><circle cx="172.2" cy="59.7" r="1.1"/><circle cx="62.6" cy="88.0" r="1.1"/><circle cx="235.5" cy="77.0" r="1.1"/><circle cx="235.1" cy="58.4" r="1.1"/><circle cx="130.0" cy="55.7" r="1.1"/><circle cx="232.9" cy="66.8" r="1.1"/><circle cx="239.1" cy="57.0" r="1.1"/><circle cx="97.9" cy="53.0" r="1.1"/><circle cx="151.0" cy="61.2" r="1.1"/><circle cx="223.0" cy="83.5" r="1.1"/><circle cx="58.1" cy="67.4" r="1.1"/><circle cx="168.1" cy="76.5" r="1.1"/><circle cx="143.5" cy="65.7" r="1.1"/><circle cx="175.3" cy="51.2" r="1.1"/><circle cx="145.9" cy="57.6" r="1.1"/><circle cx="112.5" cy="70.6" r="1.1"/><circle cx="137.1" cy="84.4" r="1.1"/><circle cx="142.3" cy="69.6" r="1.1"/><circle cx="142.8" cy="62.2" r="1.1"/><circle cx="114.6" cy="62.8" r="1.1"/><circle cx="113.8" cy="60.7" r="1.1"/><circle cx="110.9" cy="57.5" r="1.1"/><circle cx="166.9" cy="61.2" r="1.1"/><circle cx="128.9" cy="73.7" r="1.1"/><circle cx="139.4" cy="61.1" r="1.1"/><circle cx="209.3" cy="60.2" r="1.1"/><circle cx="86.8" cy="50.1" r="1.1"/><circle cx="116.5" cy="83.2" r="1.1"/><circle cx="73.7" cy="66.1" r="1.1"/><circle cx="63.3" cy="62.0" r="1.1"/><circle cx="73.4" cy="55.7" r="1.1"/><circle cx="110.1" cy="72.8" r="1.1"/><circle cx="64.4" cy="87.0" r="1.1"/><circle cx="178.0" cy="55.8" r="1.1"/><circle cx="188.6" cy="66.8" r="1.1"/><circle cx="179.3" cy="54.4" r="1.1"/><circle cx="194.7" cy="66.3" r="1.1"/><circle cx="91.0" cy="72.2" r="1.1"/><circle cx="87.2" cy="57.3" r="1.1"/><circle cx="100.5" cy="70.8" r="1.1"/><circle cx="212.9" cy="47.1" r="1.1"/><circle cx="136.7" cy="61.0" r="1.1"/><circle cx="207.2" cy="67.4" r="1.1"/><circle cx="157.3" cy="66.3" r="1.1"/><circle cx="214.5" cy="70.4" r="1.1"/><circle cx="142.4" cy="58.8" r="1.1"/><circle cx="122.3" cy="68.7" r="1.1"/><circle cx="228.1" cy="64.7" r="1.1"/><circle cx="212.9" cy="54.0" r="1.1"/><circle cx="115.6" cy="71.4" r="1.1"/><circle cx="91.3" cy="60.1" r="1.1"/><circle cx="81.1" cy="44.8" r="1.1"/><circle cx="240.3" cy="74.8" r="1.1"/><circle cx="60.2" cy="58.9" r="1.1"/><circle cx="232.0" cy="54.0" r="1.1"/><circle cx="182.7" cy="78.0" r="1.1"/><circle cx="88.3" cy="74.1" r="1.1"/><circle cx="184.6" cy="77.7" r="1.1"/><circle cx="218.9" cy="54.2" r="1.1"/><circle cx="95.6" cy="66.3" r="1.1"/><circle cx="177.7" cy="64.0" r="1.1"/><circle cx="111.8" cy="58.1" r="1.1"/><circle cx="175.0" cy="61.7" r="1.1"/><circle cx="145.4" cy="60.0" r="1.1"/><circle cx="145.8" cy="64.4" r="1.1"/><circle cx="85.1" cy="53.6" r="1.1"/><circle cx="220.5" cy="68.4" r="1.1"/><circle cx="162.8" cy="49.0" r="1.1"/><circle cx="197.7" cy="65.7" r="1.1"/><circle cx="106.4" cy="70.8" r="1.1"/><circle cx="144.0" cy="56.7" r="1.1"/><circle cx="62.8" cy="64.2" r="1.1"/><circle cx="168.9" cy="78.5" r="1.1"/><circle cx="68.9" cy="64.2" r="1.1"/><circle cx="171.4" cy="73.5" r="1.1"/><circle cx="136.0" cy="70.5" r="1.1"/><circle cx="202.1" cy="55.4" r="1.1"/><circle cx="79.0" cy="70.6" r="1.1"/><circle cx="236.6" cy="84.8" r="1.1"/><circle cx="150.3" cy="65.0" r="1.1"/><circle cx="129.2" cy="47.0" r="1.1"/><circle cx="102.5" cy="65.1" r="1.1"/><circle cx="69.7" cy="75.2" r="1.1"/><circle cx="136.8" cy="71.0" r="1.1"/><circle cx="116.0" cy="70.6" r="1.1"/><circle cx="124.8" cy="75.7" r="1.1"/><circle cx="207.1" cy="68.9" r="1.1"/><circle cx="136.9" cy="54.4" r="1.1"/><circle cx="71.2" cy="82.1" r="1.1"/><circle cx="68.1" cy="65.2" r="1.1"/><circle cx="245.2" cy="61.0" r="1.1"/><circle cx="78.1" cy="64.9" r="1.1"/><circle cx="135.9" cy="59.9" r="1.1"/><circle cx="200.0" cy="65.2" r="1.1"/><circle cx="159.5" cy="56.2" r="1.1"/><circle cx="163.4" cy="66.9" r="1.1"/><circle cx="70.0" cy="79.9" r="1.1"/><circle cx="202.6" cy="74.7" r="1.1"/><circle cx="168.3" cy="60.4" r="1.1"/><circle cx="89.4" cy="91.3" r="1.1"/><circle cx="63.2" cy="84.1" r="1.1"/><circle cx="94.6" cy="59.2" r="1.1"/><circle cx="111.9" cy="76.9" r="1.1"/><circle cx="206.6" cy="70.1" r="1.1"/><circle cx="59.3" cy="92.1" r="1.1"/><circle cx="169.1" cy="51.6" r="1.1"/><circle cx="98.1" cy="59.5" r="1.1"/><circle cx="146.4" cy="51.3" r="1.1"/><circle cx="159.0" cy="52.1" r="1.1"/><circle cx="57.2" cy="77.5" r="1.1"/><circle cx="109.8" cy="42.6" r="1.1"/><circle cx="59.5" cy="76.8" r="1.1"/><circle cx="87.6" cy="64.8" r="1.1"/><circle cx="208.4" cy="70.0" r="1.1"/><circle cx="218.6" cy="63.9" r="1.1"/><circle cx="92.0" cy="54.3" r="1.1"/><circle cx="106.9" cy="64.6" r="1.1"/><circle cx="64.2" cy="84.2" r="1.1"/><circle cx="213.3" cy="59.9" r="1.1"/><circle cx="59.6" cy="71.4" r="1.1"/><circle cx="182.8" cy="62.8" r="1.1"/><circle cx="120.9" cy="70.3" r="1.1"/><circle cx="68.2" cy="95.3" r="1.1"/><circle cx="180.9" cy="65.4" r="1.1"/><circle cx="188.6" cy="61.7" r="1.1"/><circle cx="77.5" cy="63.8" r="1.1"/><circle cx="59.5" cy="68.3" r="1.1"/><circle cx="135.5" cy="69.8" r="1.1"/><circle cx="89.4" cy="73.5" r="1.1"/><circle cx="226.1" cy="67.5" r="1.1"/><circle cx="164.9" cy="59.2" r="1.1"/><circle cx="167.2" cy="63.6" r="1.1"/><circle cx="120.1" cy="72.6" r="1.1"/><circle cx="62.3" cy="73.9" r="1.1"/><circle cx="200.3" cy="68.1" r="1.1"/><circle cx="81.6" cy="63.9" r="1.1"/><circle cx="177.1" cy="61.5" r="1.1"/><circle cx="130.3" cy="62.0" r="1.1"/><circle cx="50.8" cy="92.0" r="1.1"/><circle cx="151.4" cy="72.9" r="1.1"/><circle cx="128.1" cy="73.8" r="1.1"/><circle cx="182.2" cy="86.3" r="1.1"/><circle cx="194.1" cy="64.1" r="1.1"/><circle cx="184.0" cy="87.9" r="1.1"/><circle cx="243.6" cy="72.8" r="1.1"/><circle cx="244.6" cy="90.2" r="1.1"/><circle cx="88.8" cy="57.8" r="1.1"/><circle cx="152.2" cy="72.1" r="1.1"/><circle cx="189.5" cy="61.4" r="1.1"/><circle cx="209.0" cy="65.3" r="1.1"/><circle cx="73.3" cy="75.1" r="1.1"/><circle cx="67.0" cy="79.5" r="1.1"/><circle cx="85.5" cy="59.3" r="1.1"/><circle cx="177.5" cy="90.0" r="1.1"/><circle cx="91.5" cy="57.8" r="1.1"/><circle cx="57.3" cy="90.8" r="1.1"/><circle cx="113.5" cy="61.7" r="1.1"/><circle cx="121.8" cy="100.3" r="1.1"/><circle cx="161.2" cy="63.8" r="1.1"/><circle cx="187.5" cy="62.7" r="1.1"/><circle cx="109.6" cy="67.3" r="1.1"/><circle cx="153.8" cy="69.7" r="1.1"/><circle cx="89.1" cy="47.0" r="1.1"/><circle cx="230.6" cy="63.6" r="1.1"/><circle cx="230.0" cy="61.6" r="1.1"/><circle cx="166.1" cy="83.8" r="1.1"/><circle cx="63.4" cy="66.9" r="1.1"/><circle cx="96.7" cy="71.3" r="1.1"/><circle cx="174.4" cy="64.7" r="1.1"/><circle cx="83.3" cy="72.1" r="1.1"/><circle cx="221.3" cy="71.4" r="1.1"/><circle cx="236.2" cy="64.4" r="1.1"/><circle cx="125.9" cy="75.4" r="1.1"/><circle cx="136.3" cy="63.0" r="1.1"/><circle cx="132.5" cy="57.4" r="1.1"/><circle cx="103.6" cy="72.3" r="1.1"/><circle cx="134.6" cy="59.3" r="1.1"/><circle cx="137.1" cy="67.6" r="1.1"/><circle cx="203.1" cy="58.6" r="1.1"/><circle cx="127.2" cy="62.6" r="1.1"/><circle cx="115.7" cy="71.0" r="1.1"/><circle cx="190.2" cy="71.8" r="1.1"/><circle cx="124.9" cy="69.6" r="1.1"/><circle cx="152.6" cy="75.6" r="1.1"/><circle cx="243.4" cy="62.8" r="1.1"/><circle cx="133.7" cy="56.9" r="1.1"/><circle cx="102.9" cy="56.4" r="1.1"/><circle cx="235.2" cy="68.2" r="1.1"/><circle cx="127.9" cy="62.5" r="1.1"/><circle cx="157.8" cy="67.1" r="1.1"/><circle cx="71.3" cy="83.7" r="1.1"/><circle cx="76.3" cy="71.8" r="1.1"/><circle cx="205.6" cy="67.0" r="1.1"/><circle cx="143.4" cy="75.0" r="1.1"/><circle cx="111.2" cy="78.8" r="1.1"/><circle cx="213.4" cy="57.9" r="1.1"/><circle cx="145.6" cy="86.0" r="1.1"/><circle cx="226.3" cy="77.0" r="1.1"/><circle cx="118.5" cy="73.1" r="1.1"/><circle cx="95.3" cy="62.1" r="1.1"/><circle cx="144.4" cy="65.1" r="1.1"/><circle cx="110.2" cy="57.6" r="1.1"/><circle cx="85.7" cy="69.5" r="1.1"/><circle cx="68.7" cy="60.4" r="1.1"/><circle cx="124.6" cy="75.8" r="1.1"/><circle cx="187.7" cy="74.4" r="1.1"/><circle cx="192.9" cy="69.3" r="1.1"/><circle cx="155.6" cy="69.1" r="1.1"/><circle cx="101.5" cy="74.2" r="1.1"/><circle cx="221.6" cy="75.9" r="1.1"/><circle cx="69.5" cy="72.4" r="1.1"/><circle cx="154.9" cy="61.1" r="1.1"/><circle cx="117.8" cy="59.5" r="1.1"/><circle cx="206.0" cy="53.8" r="1.1"/><circle cx="228.8" cy="61.1" r="1.1"/><circle cx="93.5" cy="45.9" r="1.1"/><circle cx="149.1" cy="66.5" r="1.1"/><circle cx="161.1" cy="98.2" r="1.1"/><circle cx="167.7" cy="56.5" r="1.1"/><circle cx="175.3" cy="72.1" r="1.1"/><circle cx="66.2" cy="69.9" r="1.1"/><circle cx="121.7" cy="67.5" r="1.1"/><circle cx="168.8" cy="68.6" r="1.1"/><circle cx="132.5" cy="72.3" r="1.1"/><circle cx="97.2" cy="79.7" r="1.1"/><circle cx="220.8" cy="89.7" r="1.1"/><circle cx="125.1" cy="60.6" r="1.1"/><circle cx="114.1" cy="65.6" r="1.1"/><circle cx="227.6" cy="47.3" r="1.1"/><circle cx="96.7" cy="50.4" r="1.1"/><circle cx="103.4" cy="67.1" r="1.1"/><circle cx="222.2" cy="65.0" r="1.1"/><circle cx="215.3" cy="82.6" r="1.1"/><circle cx="92.0" cy="53.8" r="1.1"/><circle cx="211.4" cy="87.1" r="1.1"/><circle cx="89.8" cy="59.0" r="1.1"/><circle cx="76.4" cy="70.8" r="1.1"/><circle cx="148.0" cy="54.3" r="1.1"/><circle cx="60.3" cy="92.8" r="1.1"/><circle cx="72.4" cy="84.4" r="1.1"/><circle cx="85.9" cy="77.5" r="1.1"/><circle cx="122.6" cy="69.1" r="1.1"/><circle cx="205.1" cy="58.1" r="1.1"/><circle cx="123.5" cy="88.9" r="1.1"/><circle cx="108.7" cy="68.8" r="1.1"/><circle cx="206.8" cy="71.3" r="1.1"/><circle cx="218.3" cy="42.3" r="1.1"/><circle cx="183.8" cy="54.0" r="1.1"/><circle cx="96.8" cy="83.4" r="1.1"/><circle cx="207.1" cy="57.4" r="1.1"/><circle cx="199.4" cy="59.5" r="1.1"/><circle cx="177.9" cy="72.1" r="1.1"/><circle cx="81.8" cy="74.6" r="1.1"/><circle cx="210.8" cy="55.2" r="1.1"/><circle cx="160.4" cy="72.0" r="1.1"/><circle cx="191.1" cy="69.5" r="1.1"/><circle cx="158.1" cy="58.6" r="1.1"/><circle cx="119.9" cy="66.7" r="1.1"/><circle cx="96.0" cy="60.1" r="1.1"/><circle cx="237.8" cy="71.5" r="1.1"/><circle cx="176.0" cy="61.3" r="1.1"/><circle cx="181.3" cy="55.2" r="1.1"/><circle cx="81.1" cy="61.7" r="1.1"/><circle cx="149.3" cy="80.5" r="1.1"/><circle cx="197.5" cy="58.9" r="1.1"/><circle cx="234.6" cy="86.0" r="1.1"/><circle cx="214.8" cy="69.9" r="1.1"/><circle cx="63.4" cy="57.5" r="1.1"/><circle cx="174.9" cy="60.1" r="1.1"/><circle cx="135.8" cy="48.2" r="1.1"/><circle cx="84.4" cy="68.9" r="1.1"/><circle cx="99.4" cy="68.4" r="1.1"/><circle cx="218.0" cy="63.3" r="1.1"/><circle cx="200.9" cy="62.1" r="1.1"/><circle cx="140.7" cy="62.3" r="1.1"/><circle cx="212.2" cy="73.3" r="1.1"/><circle cx="226.9" cy="59.6" r="1.1"/><circle cx="108.5" cy="56.8" r="1.1"/><circle cx="143.3" cy="70.1" r="1.1"/><circle cx="117.3" cy="60.3" r="1.1"/><circle cx="177.6" cy="57.8" r="1.1"/><circle cx="127.9" cy="65.8" r="1.1"/><circle cx="193.2" cy="72.0" r="1.1"/><circle cx="98.0" cy="64.9" r="1.1"/><circle cx="107.4" cy="59.4" r="1.1"/><circle cx="165.2" cy="85.0" r="1.1"/><circle cx="207.7" cy="68.7" r="1.1"/><circle cx="75.3" cy="76.1" r="1.1"/><circle cx="112.3" cy="73.1" r="1.1"/><circle cx="240.8" cy="77.0" r="1.1"/><circle cx="211.5" cy="61.0" r="1.1"/><circle cx="126.6" cy="100.3" r="1.1"/><circle cx="222.6" cy="77.5" r="1.1"/><circle cx="92.3" cy="62.7" r="1.1"/><circle cx="131.9" cy="65.0" r="1.1"/><circle cx="144.5" cy="51.4" r="1.1"/><circle cx="110.3" cy="46.8" r="1.1"/><circle cx="120.3" cy="65.6" r="1.1"/><circle cx="214.8" cy="54.5" r="1.1"/><circle cx="194.6" cy="56.1" r="1.1"/><circle cx="192.1" cy="68.6" r="1.1"/><circle cx="75.9" cy="53.3" r="1.1"/><circle cx="234.7" cy="74.6" r="1.1"/><circle cx="175.8" cy="80.2" r="1.1"/><circle cx="83.7" cy="66.7" r="1.1"/><circle cx="210.2" cy="54.7" r="1.1"/><circle cx="71.7" cy="67.3" r="1.1"/><circle cx="172.1" cy="68.5" r="1.1"/><circle cx="228.9" cy="58.2" r="1.1"/><circle cx="86.1" cy="53.6" r="1.1"/><circle cx="95.0" cy="66.8" r="1.1"/><circle cx="114.6" cy="89.7" r="1.1"/><circle cx="220.3" cy="62.8" r="1.1"/><circle cx="184.4" cy="75.9" r="1.1"/><circle cx="68.7" cy="58.4" r="1.1"/><circle cx="150.7" cy="76.9" r="1.1"/><circle cx="192.5" cy="45.9" r="1.1"/><circle cx="120.6" cy="96.2" r="1.1"/><circle cx="243.4" cy="58.6" r="1.1"/><circle cx="123.4" cy="57.6" r="1.1"/><circle cx="239.1" cy="82.5" r="1.1"/><circle cx="140.4" cy="55.4" r="1.1"/><circle cx="223.3" cy="51.4" r="1.1"/><circle cx="150.8" cy="57.1" r="1.1"/><circle cx="68.0" cy="78.3" r="1.1"/><circle cx="152.0" cy="76.4" r="1.1"/><circle cx="218.6" cy="58.8" r="1.1"/><circle cx="216.5" cy="63.2" r="1.1"/><circle cx="155.1" cy="68.0" r="1.1"/><circle cx="77.9" cy="61.6" r="1.1"/><circle cx="88.9" cy="68.2" r="1.1"/><circle cx="208.0" cy="66.3" r="1.1"/><circle cx="62.4" cy="90.7" r="1.1"/><circle cx="175.8" cy="68.9" r="1.1"/><circle cx="200.0" cy="63.0" r="1.1"/><circle cx="98.1" cy="75.2" r="1.1"/><circle cx="131.8" cy="61.5" r="1.1"/><circle cx="186.3" cy="70.6" r="1.1"/><circle cx="185.3" cy="52.5" r="1.1"/><circle cx="149.1" cy="65.1" r="1.1"/><circle cx="127.0" cy="55.0" r="1.1"/><circle cx="190.1" cy="67.5" r="1.1"/><circle cx="234.2" cy="69.8" r="1.1"/><circle cx="172.8" cy="79.4" r="1.1"/><circle cx="126.6" cy="72.5" r="1.1"/><circle cx="120.2" cy="58.3" r="1.1"/><circle cx="228.3" cy="39.6" r="1.1"/><circle cx="184.3" cy="74.0" r="1.1"/><circle cx="83.6" cy="72.2" r="1.1"/><circle cx="199.4" cy="64.7" r="1.1"/><circle cx="158.5" cy="54.9" r="1.1"/><circle cx="118.6" cy="69.6" r="1.1"/><circle cx="158.6" cy="62.8" r="1.1"/><circle cx="98.4" cy="77.4" r="1.1"/><circle cx="91.4" cy="84.0" r="1.1"/><circle cx="106.9" cy="58.2" r="1.1"/><circle cx="78.7" cy="51.7" r="1.1"/><circle cx="200.4" cy="61.9" r="1.1"/><circle cx="154.3" cy="58.0" r="1.1"/><circle cx="70.4" cy="63.0" r="1.1"/><circle cx="102.7" cy="65.0" r="1.1"/><circle cx="242.5" cy="60.7" r="1.1"/><circle cx="116.7" cy="70.3" r="1.1"/><circle cx="128.8" cy="92.5" r="1.1"/><circle cx="219.1" cy="55.4" r="1.1"/><circle cx="130.0" cy="69.2" r="1.1"/><circle cx="215.7" cy="73.4" r="1.1"/><circle cx="239.4" cy="60.5" r="1.1"/><circle cx="178.3" cy="94.4" r="1.1"/><circle cx="91.6" cy="55.9" r="1.1"/><circle cx="234.0" cy="63.9" r="1.1"/><circle cx="228.2" cy="69.2" r="1.1"/><circle cx="114.0" cy="84.1" r="1.1"/><circle cx="243.0" cy="74.5" r="1.1"/><circle cx="218.1" cy="70.6" r="1.1"/><circle cx="101.2" cy="70.6" r="1.1"/><circle cx="81.0" cy="68.2" r="1.1"/><circle cx="165.7" cy="69.8" r="1.1"/><circle cx="73.9" cy="75.5" r="1.1"/><circle cx="128.2" cy="64.0" r="1.1"/><circle cx="112.9" cy="86.3" r="1.1"/><circle cx="203.4" cy="76.1" r="1.1"/><circle cx="114.5" cy="76.1" r="1.1"/><circle cx="103.1" cy="68.4" r="1.1"/><circle cx="65.9" cy="80.1" r="1.1"/><circle cx="131.9" cy="62.9" r="1.1"/><circle cx="214.0" cy="66.3" r="1.1"/><circle cx="131.9" cy="51.1" r="1.1"/><circle cx="212.1" cy="72.2" r="1.1"/><circle cx="101.6" cy="51.4" r="1.1"/><circle cx="204.0" cy="53.0" r="1.1"/><circle cx="94.0" cy="57.5" r="1.1"/><circle cx="222.1" cy="67.2" r="1.1"/><circle cx="184.3" cy="72.6" r="1.1"/><circle cx="186.8" cy="58.4" r="1.1"/><circle cx="99.0" cy="69.6" r="1.1"/><circle cx="168.0" cy="51.2" r="1.1"/><circle cx="73.8" cy="77.3" r="1.1"/><circle cx="126.0" cy="71.5" r="1.1"/><circle cx="67.0" cy="83.9" r="1.1"/><circle cx="204.7" cy="56.5" r="1.1"/><circle cx="110.1" cy="54.6" r="1.1"/><circle cx="155.7" cy="64.5" r="1.1"/><circle cx="129.9" cy="59.8" r="1.1"/><circle cx="126.0" cy="52.6" r="1.1"/><circle cx="221.3" cy="80.3" r="1.1"/><circle cx="88.1" cy="66.2" r="1.1"/><circle cx="239.0" cy="55.5" r="1.1"/><circle cx="171.6" cy="54.1" r="1.1"/><circle cx="243.5" cy="62.4" r="1.1"/><circle cx="159.0" cy="67.0" r="1.1"/><circle cx="125.2" cy="74.9" r="1.1"/><circle cx="241.4" cy="65.9" r="1.1"/><circle cx="104.7" cy="57.5" r="1.1"/><circle cx="161.1" cy="65.7" r="1.1"/><circle cx="162.8" cy="71.1" r="1.1"/><circle cx="144.8" cy="57.7" r="1.1"/><circle cx="238.1" cy="84.7" r="1.1"/><circle cx="211.5" cy="57.4" r="1.1"/><circle cx="169.7" cy="72.5" r="1.1"/><circle cx="245.2" cy="71.1" r="1.1"/><circle cx="65.5" cy="65.9" r="1.1"/><circle cx="108.4" cy="65.9" r="1.1"/><circle cx="75.1" cy="67.2" r="1.1"/><circle cx="75.6" cy="63.6" r="1.1"/><circle cx="162.8" cy="61.6" r="1.1"/><circle cx="162.4" cy="74.2" r="1.1"/><circle cx="237.5" cy="69.8" r="1.1"/><circle cx="117.3" cy="87.2" r="1.1"/><circle cx="170.7" cy="54.6" r="1.1"/><circle cx="135.8" cy="81.7" r="1.1"/><circle cx="139.0" cy="69.7" r="1.1"/><circle cx="129.9" cy="101.3" r="1.1"/><circle cx="106.7" cy="90.4" r="1.1"/><circle cx="149.8" cy="63.1" r="1.1"/><circle cx="176.6" cy="59.7" r="1.1"/><circle cx="232.9" cy="57.8" r="1.1"/><circle cx="207.3" cy="72.4" r="1.1"/><circle cx="127.2" cy="71.9" r="1.1"/><circle cx="221.4" cy="58.4" r="1.1"/><circle cx="148.0" cy="71.9" r="1.1"/><circle cx="65.7" cy="72.1" r="1.1"/><circle cx="243.9" cy="55.3" r="1.1"/><circle cx="72.4" cy="59.4" r="1.1"/><circle cx="116.9" cy="72.2" r="1.1"/><circle cx="134.1" cy="85.4" r="1.1"/><circle cx="150.8" cy="61.0" r="1.1"/><circle cx="70.8" cy="62.2" r="1.1"/><circle cx="235.7" cy="79.2" r="1.1"/><circle cx="235.0" cy="65.0" r="1.1"/><circle cx="174.7" cy="62.2" r="1.1"/><circle cx="67.1" cy="64.7" r="1.1"/><circle cx="136.0" cy="48.7" r="1.1"/><circle cx="107.4" cy="90.7" r="1.1"/><circle cx="110.8" cy="67.6" r="1.1"/><circle cx="110.5" cy="51.0" r="1.1"/><circle cx="144.7" cy="66.7" r="1.1"/><circle cx="68.9" cy="71.0" r="1.1"/><circle cx="130.2" cy="74.4" r="1.1"/><circle cx="185.5" cy="55.3" r="1.1"/><circle cx="120.3" cy="61.7" r="1.1"/><circle cx="138.2" cy="59.2" r="1.1"/><circle cx="65.9" cy="66.4" r="1.1"/><circle cx="142.8" cy="63.8" r="1.1"/><circle cx="186.1" cy="70.2" r="1.1"/><circle cx="189.0" cy="70.3" r="1.1"/><circle cx="143.1" cy="59.3" r="1.1"/><circle cx="89.3" cy="62.4" r="1.1"/><circle cx="162.4" cy="98.6" r="1.1"/><circle cx="101.1" cy="71.0" r="1.1"/><circle cx="146.4" cy="66.6" r="1.1"/><circle cx="135.0" cy="71.2" r="1.1"/><circle cx="235.6" cy="53.4" r="1.1"/><circle cx="96.0" cy="76.6" r="1.1"/><circle cx="129.8" cy="57.2" r="1.1"/><circle cx="148.3" cy="51.3" r="1.1"/><circle cx="210.0" cy="63.1" r="1.1"/><circle cx="222.6" cy="57.5" r="1.1"/><circle cx="97.9" cy="81.1" r="1.1"/><circle cx="61.2" cy="72.3" r="1.1"/><circle cx="87.8" cy="76.6" r="1.1"/><circle cx="132.5" cy="61.8" r="1.1"/><circle cx="89.0" cy="63.3" r="1.1"/><circle cx="128.3" cy="96.9" r="1.1"/><circle cx="198.1" cy="90.4" r="1.1"/><circle cx="119.6" cy="61.0" r="1.1"/><circle cx="106.7" cy="69.4" r="1.1"/><circle cx="120.2" cy="67.9" r="1.1"/><circle cx="142.2" cy="74.4" r="1.1"/><circle cx="219.6" cy="64.4" r="1.1"/><circle cx="68.1" cy="65.6" r="1.1"/><circle cx="99.5" cy="70.3" r="1.1"/><circle cx="143.6" cy="59.4" r="1.1"/><circle cx="79.2" cy="68.6" r="1.1"/><circle cx="133.6" cy="56.7" r="1.1"/><circle cx="141.5" cy="59.3" r="1.1"/><circle cx="110.3" cy="83.7" r="1.1"/><circle cx="143.7" cy="76.9" r="1.1"/><circle cx="211.3" cy="80.9" r="1.1"/><circle cx="92.7" cy="53.9" r="1.1"/><circle cx="160.1" cy="65.2" r="1.1"/><circle cx="97.1" cy="76.1" r="1.1"/><circle cx="188.5" cy="67.8" r="1.1"/><circle cx="77.8" cy="97.1" r="1.1"/><circle cx="90.6" cy="68.6" r="1.1"/><circle cx="78.2" cy="62.1" r="1.1"/><circle cx="72.8" cy="70.3" r="1.1"/><circle cx="120.2" cy="66.8" r="1.1"/><circle cx="100.1" cy="62.5" r="1.1"/><circle cx="85.1" cy="68.2" r="1.1"/><circle cx="81.8" cy="61.2" r="1.1"/><circle cx="156.1" cy="64.6" r="1.1"/><circle cx="211.1" cy="77.4" r="1.1"/><circle cx="155.1" cy="64.1" r="1.1"/><circle cx="216.6" cy="67.4" r="1.1"/><circle cx="62.2" cy="75.5" r="1.1"/><circle cx="78.8" cy="53.2" r="1.1"/><circle cx="68.0" cy="70.9" r="1.1"/><circle cx="187.3" cy="87.9" r="1.1"/><circle cx="165.6" cy="54.6" r="1.1"/><circle cx="100.2" cy="97.1" r="1.1"/><circle cx="63.6" cy="67.2" r="1.1"/><circle cx="66.5" cy="73.2" r="1.1"/><circle cx="153.2" cy="55.6" r="1.1"/><circle cx="163.7" cy="82.7" r="1.1"/><circle cx="171.7" cy="69.8" r="1.1"/><circle cx="110.8" cy="65.4" r="1.1"/><circle cx="242.8" cy="63.0" r="1.1"/><circle cx="60.2" cy="67.6" r="1.1"/><circle cx="59.5" cy="64.8" r="1.1"/><circle cx="76.5" cy="71.4" r="1.1"/><circle cx="179.5" cy="65.7" r="1.1"/><circle cx="219.9" cy="64.9" r="1.1"/><circle cx="158.0" cy="63.3" r="1.1"/><circle cx="116.7" cy="80.7" r="1.1"/><circle cx="101.4" cy="95.6" r="1.1"/><circle cx="81.4" cy="74.7" r="1.1"/><circle cx="88.1" cy="52.3" r="1.1"/><circle cx="169.9" cy="51.0" r="1.1"/><circle cx="95.3" cy="50.2" r="1.1"/><circle cx="177.9" cy="57.0" r="1.1"/><circle cx="224.8" cy="67.3" r="1.1"/><circle cx="110.6" cy="57.1" r="1.1"/><circle cx="89.6" cy="65.5" r="1.1"/><circle cx="234.0" cy="59.4" r="1.1"/><circle cx="125.2" cy="80.0" r="1.1"/><circle cx="65.2" cy="72.5" r="1.1"/><circle cx="242.0" cy="60.6" r="1.1"/><circle cx="196.1" cy="50.0" r="1.1"/><circle cx="87.5" cy="63.5" r="1.1"/><circle cx="69.4" cy="48.7" r="1.1"/><circle cx="207.9" cy="39.9" r="1.1"/><circle cx="153.5" cy="73.0" r="1.1"/><circle cx="199.4" cy="63.5" r="1.1"/><circle cx="69.2" cy="87.8" r="1.1"/><circle cx="122.1" cy="64.7" r="1.1"/><circle cx="105.0" cy="78.2" r="1.1"/><circle cx="79.7" cy="64.8" r="1.1"/><circle cx="98.3" cy="53.2" r="1.1"/><circle cx="80.7" cy="56.6" r="1.1"/><circle cx="181.5" cy="61.5" r="1.1"/><circle cx="153.6" cy="62.8" r="1.1"/><circle cx="120.8" cy="62.8" r="1.1"/><circle cx="209.1" cy="67.1" r="1.1"/><circle cx="155.3" cy="69.1" r="1.1"/><circle cx="114.5" cy="56.0" r="1.1"/><circle cx="185.1" cy="59.7" r="1.1"/><circle cx="191.4" cy="74.5" r="1.1"/><circle cx="78.5" cy="58.2" r="1.1"/><circle cx="125.6" cy="64.6" r="1.1"/><circle cx="95.2" cy="62.1" r="1.1"/><circle cx="218.6" cy="74.0" r="1.1"/><circle cx="71.0" cy="55.4" r="1.1"/><circle cx="200.2" cy="65.6" r="1.1"/><circle cx="169.0" cy="87.0" r="1.1"/><circle cx="221.1" cy="58.2" r="1.1"/><circle cx="88.9" cy="60.2" r="1.1"/><circle cx="113.7" cy="54.4" r="1.1"/><circle cx="200.6" cy="58.0" r="1.1"/><circle cx="166.2" cy="79.3" r="1.1"/><circle cx="77.1" cy="80.4" r="1.1"/><circle cx="229.1" cy="72.7" r="1.1"/><circle cx="139.4" cy="61.3" r="1.1"/><circle cx="157.3" cy="98.5" r="1.1"/><circle cx="88.5" cy="71.4" r="1.1"/><circle cx="164.1" cy="68.1" r="1.1"/><circle cx="226.0" cy="59.7" r="1.1"/><circle cx="71.8" cy="81.1" r="1.1"/><circle cx="147.0" cy="78.1" r="1.1"/><circle cx="138.7" cy="64.6" r="1.1"/><circle cx="112.4" cy="62.4" r="1.1"/><circle cx="95.6" cy="67.4" r="1.1"/><circle cx="137.2" cy="81.1" r="1.1"/><circle cx="210.0" cy="77.7" r="1.1"/><circle cx="93.1" cy="73.9" r="1.1"/><circle cx="91.0" cy="58.1" r="1.1"/><circle cx="76.4" cy="65.6" r="1.1"/><circle cx="167.2" cy="61.2" r="1.1"/><circle cx="193.4" cy="67.7" r="1.1"/><circle cx="132.6" cy="67.3" r="1.1"/><circle cx="105.6" cy="58.6" r="1.1"/><circle cx="193.2" cy="54.2" r="1.1"/><circle cx="147.6" cy="59.4" r="1.1"/><circle cx="98.9" cy="53.8" r="1.1"/><circle cx="226.9" cy="68.5" r="1.1"/><circle cx="76.3" cy="57.6" r="1.1"/><circle cx="139.1" cy="60.6" r="1.1"/><circle cx="107.2" cy="72.9" r="1.1"/><circle cx="206.0" cy="89.2" r="1.1"/><circle cx="107.4" cy="69.3" r="1.1"/><circle cx="83.8" cy="89.1" r="1.1"/><circle cx="154.9" cy="72.3" r="1.1"/><circle cx="201.2" cy="54.3" r="1.1"/><circle cx="156.4" cy="65.5" r="1.1"/><circle cx="59.4" cy="84.6" r="1.1"/><circle cx="135.8" cy="74.6" r="1.1"/><circle cx="154.8" cy="51.6" r="1.1"/><circle cx="179.7" cy="54.3" r="1.1"/><circle cx="78.3" cy="58.0" r="1.1"/><circle cx="102.0" cy="56.8" r="1.1"/><circle cx="183.3" cy="70.8" r="1.1"/><circle cx="140.3" cy="53.8" r="1.1"/><circle cx="229.4" cy="74.5" r="1.1"/><circle cx="112.3" cy="74.2" r="1.1"/><circle cx="84.9" cy="53.2" r="1.1"/><circle cx="143.6" cy="69.9" r="1.1"/><circle cx="61.8" cy="54.6" r="1.1"/><circle cx="165.0" cy="74.6" r="1.1"/><circle cx="109.0" cy="61.4" r="1.1"/><circle cx="185.0" cy="73.0" r="1.1"/><circle cx="114.0" cy="62.8" r="1.1"/><circle cx="100.2" cy="81.0" r="1.1"/><circle cx="89.8" cy="80.6" r="1.1"/><circle cx="96.3" cy="64.9" r="1.1"/><circle cx="181.2" cy="67.1" r="1.1"/><circle cx="58.6" cy="66.2" r="1.1"/><circle cx="88.8" cy="51.2" r="1.1"/><circle cx="92.9" cy="68.1" r="1.1"/><circle cx="84.0" cy="74.7" r="1.1"/><circle cx="219.3" cy="62.1" r="1.1"/><circle cx="152.7" cy="63.0" r="1.1"/><circle cx="63.2" cy="50.9" r="1.1"/><circle cx="214.5" cy="79.6" r="1.1"/><circle cx="183.9" cy="69.0" r="1.1"/><circle cx="213.7" cy="46.3" r="1.1"/><circle cx="144.2" cy="65.1" r="1.1"/><circle cx="204.9" cy="63.6" r="1.1"/><circle cx="164.8" cy="60.5" r="1.1"/><circle cx="155.9" cy="48.6" r="1.1"/><circle cx="193.1" cy="53.8" r="1.1"/><circle cx="135.8" cy="86.2" r="1.1"/><circle cx="125.4" cy="59.6" r="1.1"/><circle cx="234.6" cy="50.9" r="1.1"/><circle cx="235.1" cy="62.8" r="1.1"/><circle cx="64.7" cy="66.2" r="1.1"/><circle cx="105.7" cy="84.2" r="1.1"/><circle cx="125.8" cy="61.9" r="1.1"/><circle cx="70.5" cy="72.7" r="1.1"/><circle cx="220.9" cy="76.5" r="1.1"/><circle cx="147.0" cy="58.2" r="1.1"/><circle cx="135.5" cy="70.2" r="1.1"/><circle cx="120.1" cy="66.3" r="1.1"/><circle cx="224.7" cy="64.3" r="1.1"/><circle cx="234.5" cy="65.4" r="1.1"/><circle cx="142.2" cy="57.1" r="1.1"/><circle cx="123.2" cy="62.7" r="1.1"/><circle cx="74.9" cy="95.7" r="1.1"/><circle cx="105.0" cy="76.8" r="1.1"/><circle cx="214.8" cy="82.2" r="1.1"/><circle cx="146.4" cy="43.8" r="1.1"/><circle cx="153.5" cy="75.5" r="1.1"/><circle cx="108.0" cy="62.8" r="1.1"/><circle cx="119.6" cy="84.2" r="1.1"/><circle cx="95.6" cy="70.0" r="1.1"/><circle cx="73.6" cy="93.6" r="1.1"/><circle cx="122.3" cy="69.0" r="1.1"/><circle cx="225.0" cy="70.2" r="1.1"/><circle cx="208.0" cy="67.1" r="1.1"/><circle cx="129.1" cy="62.8" r="1.1"/><circle cx="224.3" cy="41.4" r="1.1"/><circle cx="186.8" cy="73.5" r="1.1"/><circle cx="186.0" cy="58.3" r="1.1"/><circle cx="137.9" cy="102.9" r="1.1"/><circle cx="82.9" cy="56.1" r="1.1"/><circle cx="213.2" cy="99.9" r="1.1"/><circle cx="141.1" cy="82.4" r="1.1"/><circle cx="77.6" cy="54.1" r="1.1"/><circle cx="138.9" cy="71.5" r="1.1"/><circle cx="217.5" cy="56.6" r="1.1"/><circle cx="115.4" cy="75.0" r="1.1"/><circle cx="183.2" cy="72.4" r="1.1"/><circle cx="75.6" cy="95.8" r="1.1"/><circle cx="104.6" cy="58.4" r="1.1"/><circle cx="222.7" cy="70.2" r="1.1"/><circle cx="228.5" cy="90.2" r="1.1"/><circle cx="66.6" cy="53.0" r="1.1"/><circle cx="205.3" cy="64.8" r="1.1"/><circle cx="214.5" cy="61.5" r="1.1"/><circle cx="209.1" cy="60.6" r="1.1"/><circle cx="105.0" cy="66.8" r="1.1"/><circle cx="194.3" cy="69.1" r="1.1"/><circle cx="177.9" cy="64.6" r="1.1"/><circle cx="65.0" cy="66.2" r="1.1"/><circle cx="220.3" cy="62.3" r="1.1"/><circle cx="159.8" cy="69.6" r="1.1"/><circle cx="133.9" cy="49.4" r="1.1"/><circle cx="100.1" cy="68.5" r="1.1"/><circle cx="121.2" cy="65.2" r="1.1"/><circle cx="62.9" cy="67.0" r="1.1"/><circle cx="203.4" cy="52.5" r="1.1"/><circle cx="72.2" cy="83.3" r="1.1"/><circle cx="85.0" cy="47.2" r="1.1"/><circle cx="199.7" cy="65.0" r="1.1"/><circle cx="112.9" cy="74.3" r="1.1"/><circle cx="76.0" cy="64.0" r="1.1"/><circle cx="212.5" cy="71.1" r="1.1"/><circle cx="133.6" cy="64.0" r="1.1"/><circle cx="224.3" cy="73.8" r="1.1"/><circle cx="177.9" cy="67.6" r="1.1"/><circle cx="106.8" cy="54.6" r="1.1"/><circle cx="73.5" cy="76.8" r="1.1"/><circle cx="72.9" cy="67.2" r="1.1"/><circle cx="58.8" cy="72.7" r="1.1"/><circle cx="240.1" cy="47.1" r="1.1"/><circle cx="105.6" cy="67.7" r="1.1"/><circle cx="166.6" cy="79.3" r="1.1"/><circle cx="159.6" cy="68.6" r="1.1"/><circle cx="166.4" cy="69.8" r="1.1"/><circle cx="61.9" cy="61.0" r="1.1"/><circle cx="156.8" cy="51.8" r="1.1"/><circle cx="84.5" cy="61.1" r="1.1"/><circle cx="129.7" cy="58.2" r="1.1"/><circle cx="96.1" cy="82.8" r="1.1"/><circle cx="56.1" cy="76.8" r="1.1"/><circle cx="176.6" cy="61.8" r="1.1"/><circle cx="102.2" cy="85.9" r="1.1"/><circle cx="235.9" cy="68.3" r="1.1"/><circle cx="159.2" cy="67.9" r="1.1"/><circle cx="110.3" cy="70.2" r="1.1"/><circle cx="66.4" cy="69.7" r="1.1"/><circle cx="88.2" cy="74.0" r="1.1"/><circle cx="231.3" cy="64.6" r="1.1"/><circle cx="163.8" cy="75.3" r="1.1"/><circle cx="93.0" cy="62.9" r="1.1"/><circle cx="123.7" cy="64.3" r="1.1"/><circle cx="127.4" cy="71.7" r="1.1"/><circle cx="221.4" cy="56.3" r="1.1"/><circle cx="237.2" cy="48.9" r="1.1"/><circle cx="104.6" cy="54.8" r="1.1"/><circle cx="109.4" cy="75.9" r="1.1"/><circle cx="85.5" cy="53.4" r="1.1"/><circle cx="107.1" cy="63.5" r="1.1"/><circle cx="136.9" cy="63.4" r="1.1"/><circle cx="59.2" cy="84.0" r="1.1"/><circle cx="236.1" cy="64.5" r="1.1"/><circle cx="63.1" cy="57.5" r="1.1"/><circle cx="106.2" cy="61.0" r="1.1"/><circle cx="168.7" cy="66.7" r="1.1"/><circle cx="86.3" cy="68.8" r="1.1"/><circle cx="138.6" cy="66.3" r="1.1"/><circle cx="62.9" cy="64.0" r="1.1"/><circle cx="160.2" cy="48.4" r="1.1"/><circle cx="113.8" cy="72.8" r="1.1"/><circle cx="90.9" cy="63.5" r="1.1"/><circle cx="62.9" cy="71.8" r="1.1"/><circle cx="173.1" cy="77.2" r="1.1"/><circle cx="172.1" cy="73.5" r="1.1"/><circle cx="223.0" cy="76.0" r="1.1"/><circle cx="133.8" cy="74.5" r="1.1"/><circle cx="77.8" cy="83.0" r="1.1"/><circle cx="118.7" cy="54.5" r="1.1"/><circle cx="230.6" cy="67.1" r="1.1"/><circle cx="155.3" cy="58.9" r="1.1"/><circle cx="157.6" cy="67.2" r="1.1"/><circle cx="81.4" cy="67.1" r="1.1"/><circle cx="193.7" cy="74.7" r="1.1"/><circle cx="221.2" cy="69.6" r="1.1"/><circle cx="111.0" cy="73.6" r="1.1"/><circle cx="105.9" cy="70.9" r="1.1"/><circle cx="130.0" cy="56.2" r="1.1"/><circle cx="94.0" cy="71.8" r="1.1"/><circle cx="189.2" cy="55.7" r="1.1"/><circle cx="111.0" cy="59.2" r="1.1"/><circle cx="231.6" cy="71.1" r="1.1"/><circle cx="106.7" cy="65.2" r="1.1"/><circle cx="69.6" cy="68.8" r="1.1"/><circle cx="124.2" cy="67.0" r="1.1"/><circle cx="153.9" cy="57.7" r="1.1"/><circle cx="118.5" cy="74.4" r="1.1"/><circle cx="186.2" cy="74.7" r="1.1"/><circle cx="145.6" cy="51.7" r="1.1"/><circle cx="231.5" cy="69.2" r="1.1"/><circle cx="62.6" cy="65.4" r="1.1"/><circle cx="198.9" cy="55.1" r="1.1"/><circle cx="216.0" cy="50.5" r="1.1"/><circle cx="127.5" cy="73.1" r="1.1"/><circle cx="174.9" cy="70.1" r="1.1"/><circle cx="188.0" cy="70.6" r="1.1"/><circle cx="53.3" cy="67.7" r="1.1"/><circle cx="173.8" cy="52.8" r="1.1"/><circle cx="220.5" cy="74.1" r="1.1"/><circle cx="195.2" cy="61.1" r="1.1"/><circle cx="218.3" cy="65.1" r="1.1"/><circle cx="143.8" cy="65.1" r="1.1"/><circle cx="117.0" cy="69.4" r="1.1"/><circle cx="111.1" cy="73.1" r="1.1"/><circle cx="235.2" cy="67.8" r="1.1"/><circle cx="223.2" cy="61.4" r="1.1"/><circle cx="96.8" cy="57.2" r="1.1"/><circle cx="67.1" cy="71.8" r="1.1"/><circle cx="188.3" cy="101.3" r="1.1"/><circle cx="217.3" cy="60.4" r="1.1"/><circle cx="72.2" cy="57.2" r="1.1"/><circle cx="95.9" cy="65.6" r="1.1"/><circle cx="136.1" cy="71.2" r="1.1"/><circle cx="103.6" cy="70.0" r="1.1"/><circle cx="172.6" cy="61.6" r="1.1"/><circle cx="109.2" cy="77.5" r="1.1"/><circle cx="103.7" cy="64.3" r="1.1"/><circle cx="103.1" cy="62.2" r="1.1"/><circle cx="59.4" cy="78.3" r="1.1"/><circle cx="118.0" cy="71.2" r="1.1"/><circle cx="89.9" cy="69.7" r="1.1"/><circle cx="128.8" cy="71.3" r="1.1"/><circle cx="102.2" cy="67.3" r="1.1"/><circle cx="129.3" cy="76.4" r="1.1"/><circle cx="193.8" cy="61.8" r="1.1"/><circle cx="217.8" cy="61.0" r="1.1"/><circle cx="107.6" cy="53.4" r="1.1"/><circle cx="151.5" cy="64.4" r="1.1"/><circle cx="99.2" cy="72.7" r="1.1"/><circle cx="140.3" cy="63.0" r="1.1"/><circle cx="87.6" cy="51.8" r="1.1"/><circle cx="234.6" cy="68.8" r="1.1"/><circle cx="188.4" cy="95.0" r="1.1"/><circle cx="128.9" cy="71.6" r="1.1"/><circle cx="85.6" cy="78.1" r="1.1"/><circle cx="133.6" cy="61.2" r="1.1"/><circle cx="101.3" cy="79.7" r="1.1"/><circle cx="160.5" cy="65.1" r="1.1"/><circle cx="133.2" cy="44.6" r="1.1"/><circle cx="208.2" cy="53.2" r="1.1"/><circle cx="114.3" cy="57.5" r="1.1"/><circle cx="62.7" cy="71.4" r="1.1"/><circle cx="126.0" cy="41.2" r="1.1"/><circle cx="92.2" cy="56.2" r="1.1"/><circle cx="101.9" cy="74.4" r="1.1"/><circle cx="133.3" cy="63.7" r="1.1"/><circle cx="151.7" cy="77.6" r="1.1"/><circle cx="62.8" cy="102.2" r="1.1"/><circle cx="239.6" cy="70.0" r="1.1"/><circle cx="119.4" cy="73.4" r="1.1"/><circle cx="128.4" cy="73.5" r="1.1"/><circle cx="117.9" cy="60.0" r="1.1"/><circle cx="67.1" cy="70.2" r="1.1"/><circle cx="77.1" cy="66.9" r="1.1"/><circle cx="90.1" cy="69.3" r="1.1"/><circle cx="213.4" cy="51.1" r="1.1"/><circle cx="76.0" cy="69.0" r="1.1"/><circle cx="97.2" cy="62.5" r="1.1"/><circle cx="234.2" cy="74.7" r="1.1"/><circle cx="212.4" cy="61.2" r="1.1"/><circle cx="160.3" cy="65.8" r="1.1"/><circle cx="227.3" cy="59.4" r="1.1"/><circle cx="191.4" cy="68.8" r="1.1"/><circle cx="108.1" cy="64.0" r="1.1"/><circle cx="176.4" cy="51.2" r="1.1"/><circle cx="195.7" cy="65.3" r="1.1"/><circle cx="126.8" cy="64.6" r="1.1"/><circle cx="232.3" cy="90.6" r="1.1"/><circle cx="218.4" cy="42.8" r="1.1"/><circle cx="165.5" cy="50.7" r="1.1"/><circle cx="196.1" cy="59.8" r="1.1"/><circle cx="187.8" cy="58.5" r="1.1"/><circle cx="233.7" cy="70.0" r="1.1"/><circle cx="79.3" cy="65.7" r="1.1"/><circle cx="175.7" cy="55.2" r="1.1"/><circle cx="99.2" cy="67.8" r="1.1"/><circle cx="95.5" cy="70.4" r="1.1"/><circle cx="176.4" cy="69.7" r="1.1"/><circle cx="187.7" cy="60.0" r="1.1"/><circle cx="115.3" cy="61.7" r="1.1"/><circle cx="240.2" cy="81.0" r="1.1"/><circle cx="130.3" cy="62.6" r="1.1"/><circle cx="240.4" cy="54.4" r="1.1"/><circle cx="114.5" cy="69.4" r="1.1"/><circle cx="121.9" cy="78.2" r="1.1"/><circle cx="139.1" cy="74.4" r="1.1"/><circle cx="162.3" cy="56.8" r="1.1"/><circle cx="238.8" cy="73.2" r="1.1"/><circle cx="215.8" cy="72.5" r="1.1"/><circle cx="134.3" cy="52.9" r="1.1"/><circle cx="135.8" cy="44.4" r="1.1"/><circle cx="67.6" cy="72.0" r="1.1"/><circle cx="70.5" cy="74.3" r="1.1"/><circle cx="65.0" cy="76.3" r="1.1"/><circle cx="213.3" cy="60.5" r="1.1"/><circle cx="92.6" cy="68.9" r="1.1"/><circle cx="103.3" cy="79.4" r="1.1"/><circle cx="108.8" cy="77.6" r="1.1"/><circle cx="173.4" cy="66.0" r="1.1"/><circle cx="180.9" cy="47.2" r="1.1"/><circle cx="101.9" cy="62.3" r="1.1"/><circle cx="191.2" cy="55.7" r="1.1"/><circle cx="159.8" cy="72.5" r="1.1"/><circle cx="231.3" cy="83.2" r="1.1"/><circle cx="228.1" cy="64.9" r="1.1"/><circle cx="79.7" cy="57.8" r="1.1"/><circle cx="103.0" cy="61.5" r="1.1"/><circle cx="133.9" cy="66.5" r="1.1"/><circle cx="116.4" cy="72.2" r="1.1"/><circle cx="108.2" cy="58.1" r="1.1"/><circle cx="90.6" cy="74.6" r="1.1"/><circle cx="181.2" cy="42.3" r="1.1"/><circle cx="191.0" cy="65.6" r="1.1"/><circle cx="116.2" cy="51.3" r="1.1"/><circle cx="94.2" cy="73.1" r="1.1"/><circle cx="138.6" cy="67.2" r="1.1"/><circle cx="92.2" cy="68.8" r="1.1"/><circle cx="187.4" cy="80.6" r="1.1"/><circle cx="207.1" cy="68.7" r="1.1"/><circle cx="192.7" cy="68.5" r="1.1"/><circle cx="179.7" cy="64.0" r="1.1"/><circle cx="179.1" cy="67.1" r="1.1"/><circle cx="118.7" cy="71.5" r="1.1"/><circle cx="233.5" cy="92.4" r="1.1"/><circle cx="82.6" cy="63.9" r="1.1"/><circle cx="75.4" cy="53.6" r="1.1"/><circle cx="201.0" cy="91.9" r="1.1"/><circle cx="129.4" cy="62.1" r="1.1"/><circle cx="61.2" cy="69.4" r="1.1"/><circle cx="202.0" cy="62.1" r="1.1"/><circle cx="161.5" cy="58.8" r="1.1"/><circle cx="80.8" cy="70.5" r="1.1"/><circle cx="174.9" cy="68.6" r="1.1"/><circle cx="105.9" cy="52.9" r="1.1"/><circle cx="87.9" cy="54.3" r="1.1"/><circle cx="135.0" cy="67.0" r="1.1"/><circle cx="199.9" cy="75.8" r="1.1"/><circle cx="125.9" cy="67.0" r="1.1"/><circle cx="229.3" cy="62.8" r="1.1"/><circle cx="131.7" cy="56.7" r="1.1"/><circle cx="142.9" cy="65.1" r="1.1"/><circle cx="101.4" cy="53.0" r="1.1"/><circle cx="145.0" cy="70.6" r="1.1"/><circle cx="69.0" cy="58.4" r="1.1"/><circle cx="85.6" cy="56.4" r="1.1"/><circle cx="169.5" cy="73.9" r="1.1"/><circle cx="203.0" cy="49.4" r="1.1"/><circle cx="93.6" cy="67.9" r="1.1"/><circle cx="188.4" cy="103.2" r="1.1"/><circle cx="155.8" cy="77.6" r="1.1"/><circle cx="75.9" cy="77.4" r="1.1"/><circle cx="134.6" cy="59.8" r="1.1"/><circle cx="239.8" cy="67.4" r="1.1"/><circle cx="123.7" cy="77.1" r="1.1"/><circle cx="167.0" cy="71.8" r="1.1"/><circle cx="179.3" cy="66.1" r="1.1"/><circle cx="158.2" cy="65.3" r="1.1"/><circle cx="159.9" cy="75.4" r="1.1"/><circle cx="175.9" cy="76.6" r="1.1"/><circle cx="161.7" cy="59.8" r="1.1"/><circle cx="75.6" cy="64.0" r="1.1"/><circle cx="171.7" cy="70.8" r="1.1"/><circle cx="127.7" cy="64.2" r="1.1"/><circle cx="240.7" cy="59.2" r="1.1"/><circle cx="209.0" cy="85.4" r="1.1"/><circle cx="75.7" cy="72.1" r="1.1"/><circle cx="153.9" cy="58.1" r="1.1"/><circle cx="206.3" cy="45.2" r="1.1"/><circle cx="115.9" cy="49.8" r="1.1"/><circle cx="197.4" cy="52.4" r="1.1"/><circle cx="172.2" cy="74.1" r="1.1"/><circle cx="64.2" cy="56.8" r="1.1"/><circle cx="217.8" cy="62.9" r="1.1"/><circle cx="104.2" cy="55.0" r="1.1"/><circle cx="99.3" cy="58.5" r="1.1"/><circle cx="114.6" cy="56.0" r="1.1"/><circle cx="238.0" cy="85.1" r="1.1"/><circle cx="132.6" cy="53.8" r="1.1"/><circle cx="75.2" cy="65.4" r="1.1"/><circle cx="83.3" cy="69.3" r="1.1"/><circle cx="166.1" cy="77.3" r="1.1"/><circle cx="144.6" cy="59.5" r="1.1"/><circle cx="227.1" cy="79.1" r="1.1"/><circle cx="218.8" cy="62.5" r="1.1"/><circle cx="182.6" cy="56.8" r="1.1"/><circle cx="154.6" cy="60.4" r="1.1"/><circle cx="82.1" cy="45.9" r="1.1"/><circle cx="72.4" cy="48.9" r="1.1"/><circle cx="108.5" cy="74.1" r="1.1"/><circle cx="200.5" cy="67.5" r="1.1"/><circle cx="125.5" cy="73.9" r="1.1"/><circle cx="232.8" cy="63.6" r="1.1"/><circle cx="84.0" cy="59.4" r="1.1"/><circle cx="210.7" cy="69.8" r="1.1"/><circle cx="115.2" cy="72.4" r="1.1"/><circle cx="71.3" cy="68.3" r="1.1"/><circle cx="118.8" cy="57.6" r="1.1"/><circle cx="167.6" cy="66.2" r="1.1"/><circle cx="84.6" cy="140.3" r="1.15"/><circle cx="106" cy="122" r="1.15"/><circle cx="51.3" cy="108.5" r="1.15"/><circle cx="51.3" cy="110" r="1.15"/><circle cx="51.3" cy="114.1" r="1.15"/><circle cx="61.7" cy="111.6" r="1.15"/><circle cx="211.4" cy="115.6" r="1.15"/><circle cx="218" cy="110.4" r="1.15"/><circle cx="51.3" cy="101.2" r="1.15"/><circle cx="57.6" cy="102.3" r="1.15"/><circle cx="61.7" cy="102.3" r="1.15"/><circle cx="141.7" cy="107.5" r="1.15"/><circle cx="129.6" cy="106.4" r="1.15"/><circle cx="197" cy="103.2" r="1.15"/><circle cx="244.8" cy="103.2" r="1.15"/><circle cx="54.5" cy="97" r="1.15"/><circle cx="77.3" cy="98.1" r="1.15"/><circle cx="82.5" cy="98.1" r="1.15"/><circle cx="101.2" cy="99.2" r="1.15"/><circle cx="125" cy="99.2" r="1.15"/><circle cx="128.2" cy="101.2" r="1.15"/><circle cx="167.6" cy="99.5" r="1.15"/><circle cx="180" cy="96.6" r="1.15"/><circle cx="213.9" cy="100.8" r="1.15"/><circle cx="95" cy="27.8" r="1.15"/><circle cx="107.7" cy="30.6" r="1.15"/><circle cx="69.6" cy="38.8" r="1.15"/><circle cx="85.9" cy="40.4" r="1.15"/><circle cx="94" cy="38" r="1.15"/><circle cx="111" cy="37.3" r="1.15"/><circle cx="115.5" cy="40.4" r="1.15"/><circle cx="127.7" cy="36.3" r="1.15"/><circle cx="144" cy="35.3" r="1.15"/><circle cx="145" cy="40.4" r="1.15"/><circle cx="152.2" cy="32.3" r="1.15"/><circle cx="188.8" cy="29.3" r="1.15"/><circle cx="197" cy="34.4" r="1.15"/><circle cx="211.4" cy="34.8" r="1.15"/><circle cx="161.4" cy="38.9" r="1.15"/><circle cx="164.5" cy="38.9" r="1.15"/><circle cx="236.5" cy="39.5" r="1.15"/><circle cx="234.5" cy="41.6" r="1.15"/><circle cx="153.2" cy="43.7" r="1.15"/></g>
<g fill="#000" fill-opacity="0.3"><circle cx="332.0" cy="123.7" r="1.1"/><circle cx="326.4" cy="118.0" r="1.1"/><circle cx="334.5" cy="121.2" r="1.1"/><circle cx="444.2" cy="125.2" r="1.1"/><circle cx="424.3" cy="123.1" r="1.1"/><circle cx="365.7" cy="119.9" r="1.1"/><circle cx="482.7" cy="122.9" r="1.1"/><circle cx="335.2" cy="134.0" r="1.1"/><circle cx="338.1" cy="117.0" r="1.1"/><circle cx="445.8" cy="126.7" r="1.1"/><circle cx="487.0" cy="124.1" r="1.1"/><circle cx="398.0" cy="124.4" r="1.1"/><circle cx="488.0" cy="131.4" r="1.1"/><circle cx="412.6" cy="118.4" r="1.1"/><circle cx="455.7" cy="117.5" r="1.1"/><circle cx="467.0" cy="114.0" r="1.1"/><circle cx="322.6" cy="128.7" r="1.1"/><circle cx="390.0" cy="124.1" r="1.1"/><circle cx="341.2" cy="114.3" r="1.1"/><circle cx="353.6" cy="113.4" r="1.1"/><circle cx="410.2" cy="119.9" r="1.1"/><circle cx="427.4" cy="113.9" r="1.1"/><circle cx="467.0" cy="115.9" r="1.1"/><circle cx="337.1" cy="122.8" r="1.1"/><circle cx="487.7" cy="120.8" r="1.1"/><circle cx="453.4" cy="130.3" r="1.1"/><circle cx="339.4" cy="122.8" r="1.1"/><circle cx="371.6" cy="74.6" r="1.1"/><circle cx="480.1" cy="87.6" r="1.1"/><circle cx="406.0" cy="130.6" r="1.1"/><circle cx="403.6" cy="118.5" r="1.1"/><circle cx="485.1" cy="128.0" r="1.1"/><circle cx="491.8" cy="120.0" r="1.1"/><circle cx="361.0" cy="130.9" r="1.1"/><circle cx="450.9" cy="127.7" r="1.1"/><circle cx="329.6" cy="127.6" r="1.1"/><circle cx="493.1" cy="123.9" r="1.1"/><circle cx="425.1" cy="121.2" r="1.1"/><circle cx="427.4" cy="95.0" r="1.1"/><circle cx="483.0" cy="84.2" r="1.1"/><circle cx="432.6" cy="114.8" r="1.1"/><circle cx="475.6" cy="125.6" r="1.1"/><circle cx="417.0" cy="118.6" r="1.1"/><circle cx="399.1" cy="117.1" r="1.1"/><circle cx="452.1" cy="109.6" r="1.1"/><circle cx="425.7" cy="126.2" r="1.1"/><circle cx="346.2" cy="132.5" r="1.1"/><circle cx="497.8" cy="97.3" r="1.1"/><circle cx="460.7" cy="91.7" r="1.1"/><circle cx="365.0" cy="126.7" r="1.1"/><circle cx="391.9" cy="126.1" r="1.1"/><circle cx="500.4" cy="115.7" r="1.1"/><circle cx="385.8" cy="124.9" r="1.1"/><circle cx="414.5" cy="122.0" r="1.1"/><circle cx="394.7" cy="130.6" r="1.1"/><circle cx="336.4" cy="113.5" r="1.1"/><circle cx="446.0" cy="100.7" r="1.1"/><circle cx="375.2" cy="120.3" r="1.1"/><circle cx="382.2" cy="107.7" r="1.1"/><circle cx="340.9" cy="119.9" r="1.1"/><circle cx="322.2" cy="93.4" r="1.1"/><circle cx="407.8" cy="133.2" r="1.1"/><circle cx="471.6" cy="133.3" r="1.1"/><circle cx="358.4" cy="127.0" r="1.1"/><circle cx="393.2" cy="115.4" r="1.1"/><circle cx="461.4" cy="128.2" r="1.1"/><circle cx="500.7" cy="118.7" r="1.1"/><circle cx="498.5" cy="130.2" r="1.1"/><circle cx="438.6" cy="109.0" r="1.1"/><circle cx="403.8" cy="123.7" r="1.1"/><circle cx="418.1" cy="105.9" r="1.1"/><circle cx="465.8" cy="112.1" r="1.1"/><circle cx="478.8" cy="120.9" r="1.1"/><circle cx="322.7" cy="115.4" r="1.1"/><circle cx="490.8" cy="103.1" r="1.1"/><circle cx="424.9" cy="123.3" r="1.1"/><circle cx="333.1" cy="126.5" r="1.1"/><circle cx="449.6" cy="129.6" r="1.1"/><circle cx="327.3" cy="108.8" r="1.1"/><circle cx="437.1" cy="120.1" r="1.1"/><circle cx="493.4" cy="139.2" r="1.1"/><circle cx="334.0" cy="126.0" r="1.1"/><circle cx="325.0" cy="131.4" r="1.1"/><circle cx="405.4" cy="126.5" r="1.1"/><circle cx="382.4" cy="125.6" r="1.1"/><circle cx="356.6" cy="132.5" r="1.1"/><circle cx="368.7" cy="110.3" r="1.1"/><circle cx="330.8" cy="114.9" r="1.1"/><circle cx="321.0" cy="126.3" r="1.1"/><circle cx="496.1" cy="127.2" r="1.1"/><circle cx="466.4" cy="128.2" r="1.1"/><circle cx="323.5" cy="117.4" r="1.1"/><circle cx="328.5" cy="114.9" r="1.1"/><circle cx="374.8" cy="116.3" r="1.1"/><circle cx="455.5" cy="122.0" r="1.1"/><circle cx="365.5" cy="121.7" r="1.1"/><circle cx="386.8" cy="131.8" r="1.1"/><circle cx="444.9" cy="116.2" r="1.1"/><circle cx="435.0" cy="128.8" r="1.1"/><circle cx="374.2" cy="130.3" r="1.1"/><circle cx="351.9" cy="115.7" r="1.1"/><circle cx="332.9" cy="129.4" r="1.1"/><circle cx="386.4" cy="122.8" r="1.1"/><circle cx="455.6" cy="117.9" r="1.1"/><circle cx="368.2" cy="116.2" r="1.1"/><circle cx="370.6" cy="126.0" r="1.1"/><circle cx="334.7" cy="128.7" r="1.1"/><circle cx="491.7" cy="109.9" r="1.1"/><circle cx="402.2" cy="131.8" r="1.1"/><circle cx="374.3" cy="129.5" r="1.1"/><circle cx="353.3" cy="118.4" r="1.1"/><circle cx="453.6" cy="129.9" r="1.1"/><circle cx="480.9" cy="130.0" r="1.1"/><circle cx="474.3" cy="123.8" r="1.1"/><circle cx="363.9" cy="123.8" r="1.1"/><circle cx="384.8" cy="120.3" r="1.1"/><circle cx="371.9" cy="130.2" r="1.1"/><circle cx="389.9" cy="131.2" r="1.1"/><circle cx="376.2" cy="115.9" r="1.1"/><circle cx="333.2" cy="128.8" r="1.1"/><circle cx="421.9" cy="108.9" r="1.1"/><circle cx="426.7" cy="124.2" r="1.1"/><circle cx="360.7" cy="134.7" r="1.1"/><circle cx="429.5" cy="126.7" r="1.1"/><circle cx="366.1" cy="129.1" r="1.1"/><circle cx="380.0" cy="104.5" r="1.1"/><circle cx="384.9" cy="118.6" r="1.1"/><circle cx="475.7" cy="122.8" r="1.1"/><circle cx="311.0" cy="83.3" r="1.1"/><circle cx="461.6" cy="128.2" r="1.1"/><circle cx="492.4" cy="116.4" r="1.1"/><circle cx="387.0" cy="128.9" r="1.1"/><circle cx="380.5" cy="125.5" r="1.1"/><circle cx="318.8" cy="95.4" r="1.1"/><circle cx="433.5" cy="130.4" r="1.1"/><circle cx="435.5" cy="129.1" r="1.1"/><circle cx="457.2" cy="114.2" r="1.1"/><circle cx="308.2" cy="93.9" r="1.1"/><circle cx="397.8" cy="120.7" r="1.1"/><circle cx="389.0" cy="123.3" r="1.1"/><circle cx="354.9" cy="117.0" r="1.1"/><circle cx="379.4" cy="128.3" r="1.1"/><circle cx="317.8" cy="126.1" r="1.1"/><circle cx="375.4" cy="111.2" r="1.1"/><circle cx="402.9" cy="114.5" r="1.1"/><circle cx="347.4" cy="112.2" r="1.1"/><circle cx="485.0" cy="132.6" r="1.1"/><circle cx="382.4" cy="126.8" r="1.1"/><circle cx="400.2" cy="125.5" r="1.1"/><circle cx="378.3" cy="126.4" r="1.1"/><circle cx="322.2" cy="129.8" r="1.1"/><circle cx="474.9" cy="119.2" r="1.1"/><circle cx="327.4" cy="112.2" r="1.1"/><circle cx="379.4" cy="117.8" r="1.1"/><circle cx="484.1" cy="129.9" r="1.1"/><circle cx="413.6" cy="125.6" r="1.1"/><circle cx="365.8" cy="131.9" r="1.1"/><circle cx="361.9" cy="127.5" r="1.1"/><circle cx="377.7" cy="120.2" r="1.1"/><circle cx="355.8" cy="113.4" r="1.1"/><circle cx="349.8" cy="120.5" r="1.1"/><circle cx="445.7" cy="116.3" r="1.1"/><circle cx="502.7" cy="132.5" r="1.1"/><circle cx="462.1" cy="139.6" r="1.1"/><circle cx="320.7" cy="103.7" r="1.1"/><circle cx="417.6" cy="105.7" r="1.1"/><circle cx="445.4" cy="126.1" r="1.1"/><circle cx="353.3" cy="101.0" r="1.1"/><circle cx="330.4" cy="129.9" r="1.1"/><circle cx="385.0" cy="130.7" r="1.1"/><circle cx="390.3" cy="117.1" r="1.1"/><circle cx="471.9" cy="106.0" r="1.1"/><circle cx="433.8" cy="119.0" r="1.1"/><circle cx="428.2" cy="134.5" r="1.1"/><circle cx="478.6" cy="116.1" r="1.1"/><circle cx="398.5" cy="125.4" r="1.1"/><circle cx="330.1" cy="110.0" r="1.1"/><circle cx="375.8" cy="129.8" r="1.1"/><circle cx="386.4" cy="119.6" r="1.1"/><circle cx="502.7" cy="119.7" r="1.1"/><circle cx="447.7" cy="131.0" r="1.1"/><circle cx="345.1" cy="122.6" r="1.1"/><circle cx="354.1" cy="94.4" r="1.1"/><circle cx="348.0" cy="114.1" r="1.1"/><circle cx="384.0" cy="130.0" r="1.1"/><circle cx="342.5" cy="117.6" r="1.1"/><circle cx="364.7" cy="131.7" r="1.1"/><circle cx="368.8" cy="109.3" r="1.1"/><circle cx="425.0" cy="118.7" r="1.1"/><circle cx="474.3" cy="124.1" r="1.1"/><circle cx="374.8" cy="133.5" r="1.1"/><circle cx="463.7" cy="108.7" r="1.1"/><circle cx="446.9" cy="118.4" r="1.1"/><circle cx="478.8" cy="135.3" r="1.1"/><circle cx="440.0" cy="102.5" r="1.1"/><circle cx="499.6" cy="115.4" r="1.1"/><circle cx="401.3" cy="126.6" r="1.1"/><circle cx="323.5" cy="120.6" r="1.1"/><circle cx="351.4" cy="116.3" r="1.1"/><circle cx="481.0" cy="122.5" r="1.1"/><circle cx="363.8" cy="117.0" r="1.1"/><circle cx="456.8" cy="121.6" r="1.1"/><circle cx="498.2" cy="131.3" r="1.1"/><circle cx="422.0" cy="130.8" r="1.1"/><circle cx="379.4" cy="112.6" r="1.1"/><circle cx="493.3" cy="123.6" r="1.1"/><circle cx="467.7" cy="103.0" r="1.1"/><circle cx="326.3" cy="125.3" r="1.1"/><circle cx="329.1" cy="129.9" r="1.1"/><circle cx="334.6" cy="84.6" r="1.1"/><circle cx="461.3" cy="128.4" r="1.1"/><circle cx="344.2" cy="120.9" r="1.1"/><circle cx="370.1" cy="110.1" r="1.1"/><circle cx="408.5" cy="110.4" r="1.1"/><circle cx="439.6" cy="123.2" r="1.1"/><circle cx="359.3" cy="129.3" r="1.1"/><circle cx="352.5" cy="124.3" r="1.1"/><circle cx="378.6" cy="125.7" r="1.1"/><circle cx="414.5" cy="111.3" r="1.1"/><circle cx="428.2" cy="84.2" r="1.1"/><circle cx="458.1" cy="123.3" r="1.1"/><circle cx="413.9" cy="116.4" r="1.1"/><circle cx="324.7" cy="115.5" r="1.1"/><circle cx="326.3" cy="115.9" r="1.1"/><circle cx="427.9" cy="126.3" r="1.1"/><circle cx="390.0" cy="134.2" r="1.1"/><circle cx="411.3" cy="111.3" r="1.1"/><circle cx="362.7" cy="135.7" r="1.1"/><circle cx="322.0" cy="95.7" r="1.1"/><circle cx="389.1" cy="127.5" r="1.1"/><circle cx="374.8" cy="133.5" r="1.1"/><circle cx="357.8" cy="110.3" r="1.1"/><circle cx="383.2" cy="105.8" r="1.1"/><circle cx="364.4" cy="124.9" r="1.1"/><circle cx="444.8" cy="102.5" r="1.1"/><circle cx="497.5" cy="117.9" r="1.1"/><circle cx="403.2" cy="124.8" r="1.1"/><circle cx="362.4" cy="126.3" r="1.1"/><circle cx="393.6" cy="97.2" r="1.1"/><circle cx="321.6" cy="108.5" r="1.1"/><circle cx="471.6" cy="128.9" r="1.1"/><circle cx="454.8" cy="128.1" r="1.1"/><circle cx="332.1" cy="112.6" r="1.1"/><circle cx="325.3" cy="121.5" r="1.1"/><circle cx="401.8" cy="127.6" r="1.1"/><circle cx="461.9" cy="128.0" r="1.1"/><circle cx="362.0" cy="133.3" r="1.1"/><circle cx="418.9" cy="110.1" r="1.1"/><circle cx="454.3" cy="132.1" r="1.1"/><circle cx="486.1" cy="115.1" r="1.1"/><circle cx="368.8" cy="119.7" r="1.1"/><circle cx="325.5" cy="104.8" r="1.1"/><circle cx="412.5" cy="123.7" r="1.1"/><circle cx="464.9" cy="122.8" r="1.1"/><circle cx="412.0" cy="123.5" r="1.1"/><circle cx="433.2" cy="111.7" r="1.1"/><circle cx="421.6" cy="119.6" r="1.1"/><circle cx="320.4" cy="111.7" r="1.1"/><circle cx="476.0" cy="132.6" r="1.1"/><circle cx="323.0" cy="99.1" r="1.1"/><circle cx="429.3" cy="113.0" r="1.1"/><circle cx="325.1" cy="112.4" r="1.1"/><circle cx="371.8" cy="117.4" r="1.1"/><circle cx="452.4" cy="123.3" r="1.1"/><circle cx="468.4" cy="121.3" r="1.1"/><circle cx="373.3" cy="123.5" r="1.1"/><circle cx="440.5" cy="136.3" r="1.1"/><circle cx="406.0" cy="119.2" r="1.1"/><circle cx="430.6" cy="133.8" r="1.1"/><circle cx="361.5" cy="89.8" r="1.1"/><circle cx="363.3" cy="115.8" r="1.1"/><circle cx="341.6" cy="127.1" r="1.1"/><circle cx="329.1" cy="119.3" r="1.1"/><circle cx="328.5" cy="106.8" r="1.1"/><circle cx="379.3" cy="128.3" r="1.1"/><circle cx="368.8" cy="125.7" r="1.1"/><circle cx="311.0" cy="124.9" r="1.1"/><circle cx="464.5" cy="118.2" r="1.1"/><circle cx="446.8" cy="117.6" r="1.1"/><circle cx="365.7" cy="112.3" r="1.1"/><circle cx="328.9" cy="115.6" r="1.1"/><circle cx="328.5" cy="114.6" r="1.1"/><circle cx="420.5" cy="108.0" r="1.1"/><circle cx="392.3" cy="108.2" r="1.1"/><circle cx="470.9" cy="118.1" r="1.1"/><circle cx="410.4" cy="124.8" r="1.1"/><circle cx="331.3" cy="118.2" r="1.1"/><circle cx="382.2" cy="109.2" r="1.1"/><circle cx="405.8" cy="127.3" r="1.1"/><circle cx="397.3" cy="133.0" r="1.1"/><circle cx="354.2" cy="107.7" r="1.1"/><circle cx="396.0" cy="116.6" r="1.1"/><circle cx="438.7" cy="114.4" r="1.1"/><circle cx="469.3" cy="120.7" r="1.1"/><circle cx="454.3" cy="123.6" r="1.1"/><circle cx="467.9" cy="130.0" r="1.1"/><circle cx="471.9" cy="119.4" r="1.1"/><circle cx="492.6" cy="116.3" r="1.1"/><circle cx="487.4" cy="120.2" r="1.1"/><circle cx="380.0" cy="122.9" r="1.1"/><circle cx="421.8" cy="131.4" r="1.1"/><circle cx="439.1" cy="128.3" r="1.1"/><circle cx="457.3" cy="128.9" r="1.1"/><circle cx="390.7" cy="107.2" r="1.1"/><circle cx="402.2" cy="138.4" r="1.1"/><circle cx="361.2" cy="123.6" r="1.1"/><circle cx="340.5" cy="114.5" r="1.1"/><circle cx="370.5" cy="128.3" r="1.1"/><circle cx="458.9" cy="125.1" r="1.1"/><circle cx="393.1" cy="123.2" r="1.1"/><circle cx="376.3" cy="130.7" r="1.1"/><circle cx="431.4" cy="122.3" r="1.1"/><circle cx="466.5" cy="130.6" r="1.1"/><circle cx="380.0" cy="127.7" r="1.1"/><circle cx="371.1" cy="86.8" r="1.1"/><circle cx="438.2" cy="125.5" r="1.1"/><circle cx="412.1" cy="124.5" r="1.1"/><circle cx="478.0" cy="132.1" r="1.1"/><circle cx="380.8" cy="119.9" r="1.1"/><circle cx="461.5" cy="131.5" r="1.1"/><circle cx="493.2" cy="121.1" r="1.1"/><circle cx="328.1" cy="113.8" r="1.1"/><circle cx="411.9" cy="131.8" r="1.1"/><circle cx="382.6" cy="110.1" r="1.1"/><circle cx="376.0" cy="131.0" r="1.1"/><circle cx="468.6" cy="96.1" r="1.1"/><circle cx="365.1" cy="126.0" r="1.1"/><circle cx="352.4" cy="115.1" r="1.1"/><circle cx="449.1" cy="119.5" r="1.1"/><circle cx="417.8" cy="121.9" r="1.1"/><circle cx="447.6" cy="126.9" r="1.1"/><circle cx="341.6" cy="134.2" r="1.1"/><circle cx="486.4" cy="128.2" r="1.1"/><circle cx="464.6" cy="127.7" r="1.1"/><circle cx="371.7" cy="81.0" r="1.1"/><circle cx="335.4" cy="108.5" r="1.1"/><circle cx="348.4" cy="129.3" r="1.1"/><circle cx="492.2" cy="121.4" r="1.1"/><circle cx="357.5" cy="132.6" r="1.1"/><circle cx="329.5" cy="112.3" r="1.1"/><circle cx="341.5" cy="117.3" r="1.1"/><circle cx="405.5" cy="119.0" r="1.1"/><circle cx="470.2" cy="114.3" r="1.1"/><circle cx="341.2" cy="127.7" r="1.1"/><circle cx="450.8" cy="127.3" r="1.1"/><circle cx="340.1" cy="124.4" r="1.1"/><circle cx="386.3" cy="114.6" r="1.1"/><circle cx="334.5" cy="125.6" r="1.1"/><circle cx="436.5" cy="121.3" r="1.1"/><circle cx="331.3" cy="96.7" r="1.1"/><circle cx="393.0" cy="128.1" r="1.1"/><circle cx="388.2" cy="123.1" r="1.1"/><circle cx="378.3" cy="129.0" r="1.1"/><circle cx="453.5" cy="116.2" r="1.1"/><circle cx="398.8" cy="90.7" r="1.1"/><circle cx="328.9" cy="124.8" r="1.1"/><circle cx="325.7" cy="129.7" r="1.1"/><circle cx="377.7" cy="111.1" r="1.1"/><circle cx="386.8" cy="130.8" r="1.1"/><circle cx="362.6" cy="128.1" r="1.1"/><circle cx="368.3" cy="134.4" r="1.1"/><circle cx="450.9" cy="125.3" r="1.1"/><circle cx="469.4" cy="117.4" r="1.1"/><circle cx="316.6" cy="120.5" r="1.1"/><circle cx="373.7" cy="110.9" r="1.1"/><circle cx="447.1" cy="126.0" r="1.1"/><circle cx="361.1" cy="118.7" r="1.1"/><circle cx="406.9" cy="119.6" r="1.1"/><circle cx="334.1" cy="116.5" r="1.1"/><circle cx="325.1" cy="129.9" r="1.1"/><circle cx="481.3" cy="92.8" r="1.1"/><circle cx="371.8" cy="119.4" r="1.1"/><circle cx="405.1" cy="99.2" r="1.1"/><circle cx="333.9" cy="136.4" r="1.1"/><circle cx="346.1" cy="127.1" r="1.1"/><circle cx="399.9" cy="129.7" r="1.1"/><circle cx="337.5" cy="110.6" r="1.1"/><circle cx="435.3" cy="130.5" r="1.1"/><circle cx="460.7" cy="111.2" r="1.1"/><circle cx="392.3" cy="114.2" r="1.1"/><circle cx="354.2" cy="116.3" r="1.1"/><circle cx="493.6" cy="116.0" r="1.1"/><circle cx="466.9" cy="93.6" r="1.1"/><circle cx="394.7" cy="128.0" r="1.1"/><circle cx="367.6" cy="116.7" r="1.1"/><circle cx="438.1" cy="130.1" r="1.1"/><circle cx="348.6" cy="96.0" r="1.1"/><circle cx="471.2" cy="127.2" r="1.1"/><circle cx="360.8" cy="129.8" r="1.1"/><circle cx="461.0" cy="117.1" r="1.1"/><circle cx="416.8" cy="128.8" r="1.1"/><circle cx="486.7" cy="108.5" r="1.1"/><circle cx="441.9" cy="110.4" r="1.1"/><circle cx="359.6" cy="92.0" r="1.1"/><circle cx="341.1" cy="115.8" r="1.1"/><circle cx="468.3" cy="115.5" r="1.1"/><circle cx="373.6" cy="130.7" r="1.1"/><circle cx="403.9" cy="134.2" r="1.1"/><circle cx="371.9" cy="114.9" r="1.1"/><circle cx="411.9" cy="94.1" r="1.1"/><circle cx="430.0" cy="128.0" r="1.1"/><circle cx="378.7" cy="125.6" r="1.1"/><circle cx="440.1" cy="116.9" r="1.1"/><circle cx="417.6" cy="138.2" r="1.1"/><circle cx="377.3" cy="115.2" r="1.1"/><circle cx="411.2" cy="77.5" r="1.1"/><circle cx="450.5" cy="101.2" r="1.1"/><circle cx="317.3" cy="114.8" r="1.1"/><circle cx="451.2" cy="113.3" r="1.1"/><circle cx="337.3" cy="105.1" r="1.1"/><circle cx="456.3" cy="137.8" r="1.1"/><circle cx="388.2" cy="124.9" r="1.1"/><circle cx="415.3" cy="119.5" r="1.1"/><circle cx="398.3" cy="133.6" r="1.1"/><circle cx="402.0" cy="135.7" r="1.1"/><circle cx="474.5" cy="122.1" r="1.1"/><circle cx="457.8" cy="117.7" r="1.1"/><circle cx="367.8" cy="116.0" r="1.1"/><circle cx="387.2" cy="111.0" r="1.1"/><circle cx="355.2" cy="123.1" r="1.1"/><circle cx="482.3" cy="134.5" r="1.1"/><circle cx="397.1" cy="110.8" r="1.1"/><circle cx="485.0" cy="130.3" r="1.1"/><circle cx="432.8" cy="115.4" r="1.1"/><circle cx="406.0" cy="126.9" r="1.1"/><circle cx="357.6" cy="127.4" r="1.1"/><circle cx="344.9" cy="114.5" r="1.1"/><circle cx="432.4" cy="130.4" r="1.1"/><circle cx="349.4" cy="90.2" r="1.1"/><circle cx="456.3" cy="127.5" r="1.1"/><circle cx="424.7" cy="130.5" r="1.1"/><circle cx="429.1" cy="90.8" r="1.1"/><circle cx="461.7" cy="126.1" r="1.1"/><circle cx="352.5" cy="127.9" r="1.1"/><circle cx="361.0" cy="133.5" r="1.1"/><circle cx="482.7" cy="119.0" r="1.1"/><circle cx="411.0" cy="117.4" r="1.1"/><circle cx="501.3" cy="75.2" r="1.1"/><circle cx="439.5" cy="119.7" r="1.1"/><circle cx="329.9" cy="139.3" r="1.1"/><circle cx="366.3" cy="128.4" r="1.1"/><circle cx="354.9" cy="124.4" r="1.1"/><circle cx="451.0" cy="124.6" r="1.1"/><circle cx="357.1" cy="128.9" r="1.1"/><circle cx="341.4" cy="120.5" r="1.1"/><circle cx="431.6" cy="129.7" r="1.1"/><circle cx="331.1" cy="128.3" r="1.1"/><circle cx="409.1" cy="132.3" r="1.1"/><circle cx="361.8" cy="94.6" r="1.1"/><circle cx="346.7" cy="113.5" r="1.1"/><circle cx="482.0" cy="115.2" r="1.1"/><circle cx="318.1" cy="122.0" r="1.1"/><circle cx="328.0" cy="124.1" r="1.1"/><circle cx="356.8" cy="125.7" r="1.1"/><circle cx="502.0" cy="134.8" r="1.1"/><circle cx="337.5" cy="128.8" r="1.1"/><circle cx="398.0" cy="117.9" r="1.1"/><circle cx="469.9" cy="123.4" r="1.1"/><circle cx="409.5" cy="124.9" r="1.1"/><circle cx="374.4" cy="126.3" r="1.1"/><circle cx="430.9" cy="112.4" r="1.1"/><circle cx="342.6" cy="124.1" r="1.1"/><circle cx="317.6" cy="114.0" r="1.1"/><circle cx="374.6" cy="137.4" r="1.1"/><circle cx="483.9" cy="119.4" r="1.1"/><circle cx="409.3" cy="119.4" r="1.1"/><circle cx="451.5" cy="101.4" r="1.1"/><circle cx="336.5" cy="98.2" r="1.1"/><circle cx="375.6" cy="103.2" r="1.1"/><circle cx="400.0" cy="101.5" r="1.1"/><circle cx="378.0" cy="118.6" r="1.1"/><circle cx="371.6" cy="103.8" r="1.1"/><circle cx="422.5" cy="124.3" r="1.1"/><circle cx="364.5" cy="121.0" r="1.1"/><circle cx="454.8" cy="117.4" r="1.1"/><circle cx="416.4" cy="121.7" r="1.1"/><circle cx="407.3" cy="77.3" r="1.1"/><circle cx="340.2" cy="129.7" r="1.1"/><circle cx="343.9" cy="113.5" r="1.1"/><circle cx="452.6" cy="109.0" r="1.1"/><circle cx="419.3" cy="100.6" r="1.1"/><circle cx="432.4" cy="127.4" r="1.1"/><circle cx="400.2" cy="132.1" r="1.1"/><circle cx="443.5" cy="129.8" r="1.1"/><circle cx="371.8" cy="133.5" r="1.1"/><circle cx="446.3" cy="106.7" r="1.1"/><circle cx="356.7" cy="126.0" r="1.1"/><circle cx="477.7" cy="113.1" r="1.1"/><circle cx="345.7" cy="112.6" r="1.1"/><circle cx="316.5" cy="103.0" r="1.1"/><circle cx="379.7" cy="129.1" r="1.1"/><circle cx="340.7" cy="119.2" r="1.1"/><circle cx="316.5" cy="89.7" r="1.1"/><circle cx="418.8" cy="133.6" r="1.1"/><circle cx="400.6" cy="118.4" r="1.1"/><circle cx="349.6" cy="80.5" r="1.1"/><circle cx="390.9" cy="133.8" r="1.1"/><circle cx="337.2" cy="115.2" r="1.1"/><circle cx="413.6" cy="79.2" r="1.1"/><circle cx="381.1" cy="111.9" r="1.1"/><circle cx="489.4" cy="121.7" r="1.1"/><circle cx="421.1" cy="130.4" r="1.1"/><circle cx="360.5" cy="127.0" r="1.1"/><circle cx="350.0" cy="120.6" r="1.1"/><circle cx="386.4" cy="110.9" r="1.1"/><circle cx="385.2" cy="129.4" r="1.1"/><circle cx="429.2" cy="123.4" r="1.1"/><circle cx="468.8" cy="100.6" r="1.1"/><circle cx="381.8" cy="113.5" r="1.1"/><circle cx="470.2" cy="124.4" r="1.1"/><circle cx="485.9" cy="129.3" r="1.1"/><circle cx="428.3" cy="123.8" r="1.1"/><circle cx="380.6" cy="93.8" r="1.1"/><circle cx="400.2" cy="117.8" r="1.1"/><circle cx="386.5" cy="129.0" r="1.1"/><circle cx="442.8" cy="128.5" r="1.1"/><circle cx="415.5" cy="127.9" r="1.1"/><circle cx="316.5" cy="126.0" r="1.1"/><circle cx="370.4" cy="107.4" r="1.1"/><circle cx="431.9" cy="134.9" r="1.1"/><circle cx="492.6" cy="123.8" r="1.1"/><circle cx="481.1" cy="119.0" r="1.1"/><circle cx="364.1" cy="124.7" r="1.1"/><circle cx="406.0" cy="131.8" r="1.1"/><circle cx="471.6" cy="118.0" r="1.1"/><circle cx="418.3" cy="116.3" r="1.1"/><circle cx="468.7" cy="121.4" r="1.1"/><circle cx="321.2" cy="108.0" r="1.1"/><circle cx="417.8" cy="124.1" r="1.1"/><circle cx="314.9" cy="111.2" r="1.1"/><circle cx="330.8" cy="90.0" r="1.1"/><circle cx="410.4" cy="129.2" r="1.1"/><circle cx="461.4" cy="80.3" r="1.1"/><circle cx="390.8" cy="109.5" r="1.1"/><circle cx="354.0" cy="128.9" r="1.1"/><circle cx="352.5" cy="124.1" r="1.1"/><circle cx="406.9" cy="129.7" r="1.1"/><circle cx="371.1" cy="118.2" r="1.1"/><circle cx="336.0" cy="131.1" r="1.1"/><circle cx="376.4" cy="120.0" r="1.1"/><circle cx="329.5" cy="103.3" r="1.1"/><circle cx="343.8" cy="129.1" r="1.1"/><circle cx="485.7" cy="128.8" r="1.1"/><circle cx="404.8" cy="75.8" r="1.1"/><circle cx="435.4" cy="111.7" r="1.1"/><circle cx="473.4" cy="131.9" r="1.1"/><circle cx="454.9" cy="116.3" r="1.1"/><circle cx="403.4" cy="117.7" r="1.1"/><circle cx="458.4" cy="127.5" r="1.1"/><circle cx="359.9" cy="112.3" r="1.1"/><circle cx="479.6" cy="110.0" r="1.1"/><circle cx="422.9" cy="123.7" r="1.1"/><circle cx="458.4" cy="124.5" r="1.1"/><circle cx="384.2" cy="125.1" r="1.1"/><circle cx="339.8" cy="120.3" r="1.1"/><circle cx="448.6" cy="114.2" r="1.1"/><circle cx="330.5" cy="125.4" r="1.1"/><circle cx="451.8" cy="116.6" r="1.1"/><circle cx="338.7" cy="103.0" r="1.1"/><circle cx="489.1" cy="132.6" r="1.1"/><circle cx="351.5" cy="103.5" r="1.1"/><circle cx="422.6" cy="103.8" r="1.1"/><circle cx="355.1" cy="121.7" r="1.1"/><circle cx="337.5" cy="130.2" r="1.1"/><circle cx="373.8" cy="126.8" r="1.1"/><circle cx="360.9" cy="116.7" r="1.1"/><circle cx="363.7" cy="117.7" r="1.1"/><circle cx="362.2" cy="115.2" r="1.1"/><circle cx="374.8" cy="111.0" r="1.1"/><circle cx="351.4" cy="121.2" r="1.1"/><circle cx="337.2" cy="77.9" r="1.1"/><circle cx="480.0" cy="103.2" r="1.1"/><circle cx="399.7" cy="106.1" r="1.1"/><circle cx="395.6" cy="131.2" r="1.1"/><circle cx="318.6" cy="83.9" r="1.1"/><circle cx="442.7" cy="132.1" r="1.1"/><circle cx="470.4" cy="118.9" r="1.1"/><circle cx="473.7" cy="119.5" r="1.1"/><circle cx="485.9" cy="107.7" r="1.1"/><circle cx="372.5" cy="117.7" r="1.1"/><circle cx="473.9" cy="114.5" r="1.1"/><circle cx="332.0" cy="114.1" r="1.1"/><circle cx="438.9" cy="124.1" r="1.1"/><circle cx="349.3" cy="127.7" r="1.1"/><circle cx="470.6" cy="121.7" r="1.1"/><circle cx="453.3" cy="129.5" r="1.1"/><circle cx="383.5" cy="135.1" r="1.1"/><circle cx="349.4" cy="127.4" r="1.1"/><circle cx="500.3" cy="106.3" r="1.1"/><circle cx="496.3" cy="121.9" r="1.1"/><circle cx="327.5" cy="113.6" r="1.1"/><circle cx="458.9" cy="123.8" r="1.1"/><circle cx="473.7" cy="128.7" r="1.1"/><circle cx="394.1" cy="120.0" r="1.1"/><circle cx="429.1" cy="126.0" r="1.1"/><circle cx="406.6" cy="128.2" r="1.1"/><circle cx="406.1" cy="128.2" r="1.1"/><circle cx="404.9" cy="96.5" r="1.1"/><circle cx="346.7" cy="115.5" r="1.1"/><circle cx="365.7" cy="114.9" r="1.1"/><circle cx="428.4" cy="134.0" r="1.1"/><circle cx="327.2" cy="110.5" r="1.1"/><circle cx="416.9" cy="102.5" r="1.1"/><circle cx="314.3" cy="119.1" r="1.1"/><circle cx="420.5" cy="117.3" r="1.1"/><circle cx="483.0" cy="107.4" r="1.1"/><circle cx="452.4" cy="132.3" r="1.1"/><circle cx="370.7" cy="111.3" r="1.1"/><circle cx="329.3" cy="98.3" r="1.1"/><circle cx="333.5" cy="114.1" r="1.1"/><circle cx="383.1" cy="124.3" r="1.1"/><circle cx="466.4" cy="125.3" r="1.1"/><circle cx="322.2" cy="120.6" r="1.1"/><circle cx="392.3" cy="113.8" r="1.1"/><circle cx="431.7" cy="113.5" r="1.1"/><circle cx="347.9" cy="135.2" r="1.1"/><circle cx="364.0" cy="114.8" r="1.1"/><circle cx="359.8" cy="124.4" r="1.1"/><circle cx="437.8" cy="114.7" r="1.1"/><circle cx="355.9" cy="138.0" r="1.1"/><circle cx="392.1" cy="121.3" r="1.1"/><circle cx="332.3" cy="118.3" r="1.1"/><circle cx="433.8" cy="127.0" r="1.1"/><circle cx="337.5" cy="115.6" r="1.1"/><circle cx="358.5" cy="107.3" r="1.1"/><circle cx="429.9" cy="118.9" r="1.1"/><circle cx="444.9" cy="119.5" r="1.1"/><circle cx="329.1" cy="89.7" r="1.1"/><circle cx="437.0" cy="94.4" r="1.1"/><circle cx="426.0" cy="115.9" r="1.1"/><circle cx="420.6" cy="129.5" r="1.1"/><circle cx="405.0" cy="131.4" r="1.1"/><circle cx="495.0" cy="118.5" r="1.1"/><circle cx="382.4" cy="93.4" r="1.1"/><circle cx="349.7" cy="130.1" r="1.1"/><circle cx="403.7" cy="125.1" r="1.1"/><circle cx="341.6" cy="115.5" r="1.1"/><circle cx="415.2" cy="134.5" r="1.1"/><circle cx="495.3" cy="107.5" r="1.1"/><circle cx="471.1" cy="121.0" r="1.1"/><circle cx="438.1" cy="119.3" r="1.1"/><circle cx="494.6" cy="133.2" r="1.1"/><circle cx="333.5" cy="130.6" r="1.1"/><circle cx="418.2" cy="124.2" r="1.1"/><circle cx="417.5" cy="118.4" r="1.1"/><circle cx="332.3" cy="124.4" r="1.1"/><circle cx="390.3" cy="112.7" r="1.1"/><circle cx="390.8" cy="117.5" r="1.1"/><circle cx="441.1" cy="125.5" r="1.1"/><circle cx="387.4" cy="128.1" r="1.1"/><circle cx="400.3" cy="113.6" r="1.1"/><circle cx="397.5" cy="116.1" r="1.1"/><circle cx="389.9" cy="123.4" r="1.1"/><circle cx="376.0" cy="122.3" r="1.1"/><circle cx="439.7" cy="122.9" r="1.1"/><circle cx="385.9" cy="122.2" r="1.1"/><circle cx="444.2" cy="119.2" r="1.1"/><circle cx="488.4" cy="116.4" r="1.1"/><circle cx="402.3" cy="131.4" r="1.1"/><circle cx="443.1" cy="125.8" r="1.1"/><circle cx="400.8" cy="128.1" r="1.1"/><circle cx="395.7" cy="111.4" r="1.1"/><circle cx="435.3" cy="93.6" r="1.1"/><circle cx="381.9" cy="119.1" r="1.1"/><circle cx="330.0" cy="124.2" r="1.1"/><circle cx="343.0" cy="131.0" r="1.1"/><circle cx="390.5" cy="128.0" r="1.1"/><circle cx="441.2" cy="132.7" r="1.1"/><circle cx="449.9" cy="135.4" r="1.1"/><circle cx="449.9" cy="119.0" r="1.1"/><circle cx="346.6" cy="127.5" r="1.1"/><circle cx="469.4" cy="132.1" r="1.1"/><circle cx="491.3" cy="120.6" r="1.1"/><circle cx="417.8" cy="110.8" r="1.1"/><circle cx="324.8" cy="109.2" r="1.1"/><circle cx="464.5" cy="128.6" r="1.1"/><circle cx="373.7" cy="113.4" r="1.1"/><circle cx="494.3" cy="131.6" r="1.1"/><circle cx="414.7" cy="132.3" r="1.1"/><circle cx="476.2" cy="109.8" r="1.1"/><circle cx="325.6" cy="108.9" r="1.1"/><circle cx="374.2" cy="88.2" r="1.1"/><circle cx="336.2" cy="125.2" r="1.1"/><circle cx="478.8" cy="131.2" r="1.1"/><circle cx="354.5" cy="113.9" r="1.1"/><circle cx="348.9" cy="136.7" r="1.1"/><circle cx="389.5" cy="114.9" r="1.1"/><circle cx="384.8" cy="118.3" r="1.1"/><circle cx="428.6" cy="127.2" r="1.1"/><circle cx="349.2" cy="124.6" r="1.1"/><circle cx="321.1" cy="89.9" r="1.1"/><circle cx="355.1" cy="123.2" r="1.1"/><circle cx="359.3" cy="129.5" r="1.1"/><circle cx="420.9" cy="134.3" r="1.1"/><circle cx="335.7" cy="126.4" r="1.1"/><circle cx="498.8" cy="109.5" r="1.1"/><circle cx="400.0" cy="125.3" r="1.1"/><circle cx="474.1" cy="126.0" r="1.1"/><circle cx="405.0" cy="118.2" r="1.1"/><circle cx="407.3" cy="112.3" r="1.1"/><circle cx="406.3" cy="118.6" r="1.1"/><circle cx="314.0" cy="119.0" r="1.1"/><circle cx="336.5" cy="108.8" r="1.1"/><circle cx="320.5" cy="117.6" r="1.1"/><circle cx="391.0" cy="124.0" r="1.1"/><circle cx="497.4" cy="79.2" r="1.1"/><circle cx="383.8" cy="124.1" r="1.1"/><circle cx="417.0" cy="122.7" r="1.1"/><circle cx="372.8" cy="121.0" r="1.1"/><circle cx="482.2" cy="119.3" r="1.1"/><circle cx="373.3" cy="125.3" r="1.1"/><circle cx="470.1" cy="127.2" r="1.1"/><circle cx="349.4" cy="105.3" r="1.1"/><circle cx="322.5" cy="117.1" r="1.1"/><circle cx="409.9" cy="127.6" r="1.1"/><circle cx="471.4" cy="122.2" r="1.1"/><circle cx="413.7" cy="117.0" r="1.1"/><circle cx="322.2" cy="131.0" r="1.1"/><circle cx="370.8" cy="115.6" r="1.1"/><circle cx="401.3" cy="132.1" r="1.1"/><circle cx="432.2" cy="111.7" r="1.1"/><circle cx="393.1" cy="129.3" r="1.1"/><circle cx="346.1" cy="118.9" r="1.1"/><circle cx="356.3" cy="107.0" r="1.1"/><circle cx="430.7" cy="120.3" r="1.1"/><circle cx="317.3" cy="120.3" r="1.1"/><circle cx="386.5" cy="124.3" r="1.1"/><circle cx="385.2" cy="125.1" r="1.1"/><circle cx="347.1" cy="108.7" r="1.1"/><circle cx="348.7" cy="120.9" r="1.1"/><circle cx="419.4" cy="128.1" r="1.1"/><circle cx="343.8" cy="103.1" r="1.1"/><circle cx="446.1" cy="132.7" r="1.1"/><circle cx="386.4" cy="126.1" r="1.1"/><circle cx="349.5" cy="129.2" r="1.1"/><circle cx="380.9" cy="118.7" r="1.1"/><circle cx="491.3" cy="113.5" r="1.1"/><circle cx="463.8" cy="130.1" r="1.1"/><circle cx="378.4" cy="122.1" r="1.1"/><circle cx="359.8" cy="115.1" r="1.1"/><circle cx="362.1" cy="126.6" r="1.1"/><circle cx="393.7" cy="132.0" r="1.1"/><circle cx="384.1" cy="102.7" r="1.1"/><circle cx="454.5" cy="121.5" r="1.1"/><circle cx="347.5" cy="121.8" r="1.1"/><circle cx="430.1" cy="102.5" r="1.1"/><circle cx="367.8" cy="130.0" r="1.1"/><circle cx="440.5" cy="123.3" r="1.1"/><circle cx="478.7" cy="104.0" r="1.1"/><circle cx="477.1" cy="124.3" r="1.1"/><circle cx="484.6" cy="124.6" r="1.1"/><circle cx="454.4" cy="130.0" r="1.1"/><circle cx="486.3" cy="131.8" r="1.1"/><circle cx="366.4" cy="126.3" r="1.1"/><circle cx="326.6" cy="114.5" r="1.1"/><circle cx="379.6" cy="109.6" r="1.1"/><circle cx="352.4" cy="118.0" r="1.1"/><circle cx="319.3" cy="115.1" r="1.1"/><circle cx="350.9" cy="127.1" r="1.1"/><circle cx="390.5" cy="110.9" r="1.1"/><circle cx="412.2" cy="118.0" r="1.1"/><circle cx="427.8" cy="113.8" r="1.1"/><circle cx="418.0" cy="124.5" r="1.1"/><circle cx="423.4" cy="136.5" r="1.1"/><circle cx="405.4" cy="131.8" r="1.1"/><circle cx="347.2" cy="125.0" r="1.1"/><circle cx="457.9" cy="136.1" r="1.1"/><circle cx="456.1" cy="133.9" r="1.1"/><circle cx="323.3" cy="114.1" r="1.1"/><circle cx="452.6" cy="132.8" r="1.1"/><circle cx="357.4" cy="125.5" r="1.1"/><circle cx="421.9" cy="123.3" r="1.1"/><circle cx="409.9" cy="131.5" r="1.1"/><circle cx="497.8" cy="135.5" r="1.1"/><circle cx="333.1" cy="112.1" r="1.1"/><circle cx="411.1" cy="128.8" r="1.1"/><circle cx="474.9" cy="124.1" r="1.1"/><circle cx="468.5" cy="131.0" r="1.1"/><circle cx="408.3" cy="122.8" r="1.1"/><circle cx="462.6" cy="133.0" r="1.1"/><circle cx="373.3" cy="132.9" r="1.1"/><circle cx="436.0" cy="114.3" r="1.1"/><circle cx="482.3" cy="122.2" r="1.1"/><circle cx="486.8" cy="130.6" r="1.1"/><circle cx="363.5" cy="127.3" r="1.1"/><circle cx="321.4" cy="111.6" r="1.1"/><circle cx="439.9" cy="120.1" r="1.1"/><circle cx="391.4" cy="118.3" r="1.1"/><circle cx="461.5" cy="113.6" r="1.1"/><circle cx="421.2" cy="120.6" r="1.1"/><circle cx="410.7" cy="115.1" r="1.1"/><circle cx="410.3" cy="111.0" r="1.1"/><circle cx="425.7" cy="135.7" r="1.1"/><circle cx="436.3" cy="111.2" r="1.1"/><circle cx="403.9" cy="114.1" r="1.1"/><circle cx="400.2" cy="125.4" r="1.1"/><circle cx="490.0" cy="124.7" r="1.1"/><circle cx="429.8" cy="130.9" r="1.1"/><circle cx="319.9" cy="114.4" r="1.1"/><circle cx="405.6" cy="120.4" r="1.1"/><circle cx="395.1" cy="112.5" r="1.1"/><circle cx="486.6" cy="118.9" r="1.1"/><circle cx="356.9" cy="119.2" r="1.1"/><circle cx="353.9" cy="118.0" r="1.1"/><circle cx="379.1" cy="119.6" r="1.1"/><circle cx="332.8" cy="127.0" r="1.1"/><circle cx="418.7" cy="110.6" r="1.1"/><circle cx="337.4" cy="120.4" r="1.1"/><circle cx="496.4" cy="121.2" r="1.1"/><circle cx="432.2" cy="116.8" r="1.1"/><circle cx="399.4" cy="124.3" r="1.1"/><circle cx="412.2" cy="103.7" r="1.1"/><circle cx="495.8" cy="125.1" r="1.1"/><circle cx="356.3" cy="115.3" r="1.1"/><circle cx="346.7" cy="129.8" r="1.1"/><circle cx="321.7" cy="104.6" r="1.1"/><circle cx="468.7" cy="119.6" r="1.1"/><circle cx="447.5" cy="98.6" r="1.1"/><circle cx="329.6" cy="112.6" r="1.1"/><circle cx="367.8" cy="119.4" r="1.1"/><circle cx="325.1" cy="113.0" r="1.1"/><circle cx="464.0" cy="124.1" r="1.1"/><circle cx="486.6" cy="133.9" r="1.1"/><circle cx="467.8" cy="133.2" r="1.1"/><circle cx="481.3" cy="128.3" r="1.1"/><circle cx="361.9" cy="123.2" r="1.1"/><circle cx="486.4" cy="135.1" r="1.1"/><circle cx="470.6" cy="134.9" r="1.1"/><circle cx="484.5" cy="126.5" r="1.1"/><circle cx="485.4" cy="121.9" r="1.1"/><circle cx="365.4" cy="132.7" r="1.1"/><circle cx="428.2" cy="130.1" r="1.1"/><circle cx="372.3" cy="119.4" r="1.1"/><circle cx="418.0" cy="128.1" r="1.1"/><circle cx="361.2" cy="97.5" r="1.1"/><circle cx="371.2" cy="100.6" r="1.1"/><circle cx="329.7" cy="121.6" r="1.1"/><circle cx="371.3" cy="124.3" r="1.1"/><circle cx="380.3" cy="91.1" r="1.1"/><circle cx="434.0" cy="116.0" r="1.1"/><circle cx="417.8" cy="118.0" r="1.1"/><circle cx="390.8" cy="131.6" r="1.1"/><circle cx="358.9" cy="111.3" r="1.1"/><circle cx="362.9" cy="119.6" r="1.1"/><circle cx="408.6" cy="118.0" r="1.1"/><circle cx="330.6" cy="128.1" r="1.1"/><circle cx="490.6" cy="123.4" r="1.1"/><circle cx="418.7" cy="111.5" r="1.1"/><circle cx="392.8" cy="126.9" r="1.1"/><circle cx="350.2" cy="126.0" r="1.1"/><circle cx="337.3" cy="135.7" r="1.1"/><circle cx="403.4" cy="100.6" r="1.1"/><circle cx="403.2" cy="105.8" r="1.1"/><circle cx="340.5" cy="120.6" r="1.1"/><circle cx="433.8" cy="105.1" r="1.1"/><circle cx="474.2" cy="133.0" r="1.1"/><circle cx="436.2" cy="119.5" r="1.1"/><circle cx="393.2" cy="97.5" r="1.1"/><circle cx="396.4" cy="119.8" r="1.1"/><circle cx="397.9" cy="100.8" r="1.1"/><circle cx="337.4" cy="133.1" r="1.1"/><circle cx="429.5" cy="131.6" r="1.1"/><circle cx="344.8" cy="128.5" r="1.1"/><circle cx="401.2" cy="87.3" r="1.1"/><circle cx="325.8" cy="107.3" r="1.1"/><circle cx="461.7" cy="122.0" r="1.1"/><circle cx="437.5" cy="101.3" r="1.1"/><circle cx="429.7" cy="124.7" r="1.1"/><circle cx="381.7" cy="122.4" r="1.1"/><circle cx="495.0" cy="121.7" r="1.1"/><circle cx="499.2" cy="130.7" r="1.1"/><circle cx="324.4" cy="127.7" r="1.1"/><circle cx="388.4" cy="116.1" r="1.1"/><circle cx="391.8" cy="119.3" r="1.1"/><circle cx="488.1" cy="131.6" r="1.1"/><circle cx="335.3" cy="119.6" r="1.1"/><circle cx="412.7" cy="127.6" r="1.1"/><circle cx="369.5" cy="124.4" r="1.1"/><circle cx="428.5" cy="125.8" r="1.1"/><circle cx="423.3" cy="104.5" r="1.1"/><circle cx="320.0" cy="114.6" r="1.1"/><circle cx="421.9" cy="130.3" r="1.1"/><circle cx="387.9" cy="132.2" r="1.1"/><circle cx="425.9" cy="112.5" r="1.1"/><circle cx="354.1" cy="134.0" r="1.1"/><circle cx="347.3" cy="136.1" r="1.1"/><circle cx="326.7" cy="124.0" r="1.1"/><circle cx="372.5" cy="118.4" r="1.1"/><circle cx="461.5" cy="135.2" r="1.1"/><circle cx="326.2" cy="129.6" r="1.1"/><circle cx="323.9" cy="129.9" r="1.1"/><circle cx="378.9" cy="119.4" r="1.1"/><circle cx="319.3" cy="115.2" r="1.1"/><circle cx="342.4" cy="118.7" r="1.1"/><circle cx="487.4" cy="109.2" r="1.1"/><circle cx="364.8" cy="126.4" r="1.1"/><circle cx="500.6" cy="122.6" r="1.1"/><circle cx="340.6" cy="116.2" r="1.1"/><circle cx="500.5" cy="119.5" r="1.1"/><circle cx="452.6" cy="124.9" r="1.1"/><circle cx="390.8" cy="120.3" r="1.1"/><circle cx="450.9" cy="119.0" r="1.1"/><circle cx="389.6" cy="128.8" r="1.1"/><circle cx="388.1" cy="114.8" r="1.1"/><circle cx="368.8" cy="122.7" r="1.1"/><circle cx="480.3" cy="121.9" r="1.1"/><circle cx="380.9" cy="131.4" r="1.1"/><circle cx="339.3" cy="132.2" r="1.1"/><circle cx="338.3" cy="111.3" r="1.1"/><circle cx="408.2" cy="121.0" r="1.1"/><circle cx="455.3" cy="122.6" r="1.1"/><circle cx="407.6" cy="116.0" r="1.1"/><circle cx="406.6" cy="121.2" r="1.1"/><circle cx="369.7" cy="111.9" r="1.1"/><circle cx="483.8" cy="88.3" r="1.1"/><circle cx="311.7" cy="111.6" r="1.1"/><circle cx="502.8" cy="131.1" r="1.1"/><circle cx="500.7" cy="117.1" r="1.1"/><circle cx="357.5" cy="125.6" r="1.1"/><circle cx="499.3" cy="112.4" r="1.1"/><circle cx="384.8" cy="98.2" r="1.1"/><circle cx="465.2" cy="123.2" r="1.1"/><circle cx="379.1" cy="113.7" r="1.1"/><circle cx="483.1" cy="111.0" r="1.1"/><circle cx="414.5" cy="116.6" r="1.1"/><circle cx="358.4" cy="128.6" r="1.1"/><circle cx="391.4" cy="127.9" r="1.1"/><circle cx="375.3" cy="114.7" r="1.1"/><circle cx="368.7" cy="122.1" r="1.1"/><circle cx="448.6" cy="122.3" r="1.1"/><circle cx="334.4" cy="119.6" r="1.1"/><circle cx="349.1" cy="113.0" r="1.1"/><circle cx="482.8" cy="128.4" r="1.1"/><circle cx="437.5" cy="129.4" r="1.1"/><circle cx="468.6" cy="118.5" r="1.1"/><circle cx="358.9" cy="74.7" r="1.1"/><circle cx="443.8" cy="120.0" r="1.1"/><circle cx="403.5" cy="102.8" r="1.1"/><circle cx="336.0" cy="131.5" r="1.1"/><circle cx="437.5" cy="117.9" r="1.1"/><circle cx="494.6" cy="119.5" r="1.1"/><circle cx="412.3" cy="105.3" r="1.1"/><circle cx="438.8" cy="129.2" r="1.1"/><circle cx="454.8" cy="126.0" r="1.1"/><circle cx="488.8" cy="119.9" r="1.1"/><circle cx="317.8" cy="94.3" r="1.1"/><circle cx="368.0" cy="130.4" r="1.1"/><circle cx="440.8" cy="116.9" r="1.1"/><circle cx="466.2" cy="132.8" r="1.1"/><circle cx="342.2" cy="120.2" r="1.1"/><circle cx="339.6" cy="126.5" r="1.1"/><circle cx="477.0" cy="113.1" r="1.1"/><circle cx="410.9" cy="118.6" r="1.1"/><circle cx="468.4" cy="133.4" r="1.1"/><circle cx="484.4" cy="127.1" r="1.1"/><circle cx="404.9" cy="106.5" r="1.1"/><circle cx="474.0" cy="119.8" r="1.1"/><circle cx="350.3" cy="114.3" r="1.1"/><circle cx="339.2" cy="127.3" r="1.1"/><circle cx="378.7" cy="126.6" r="1.1"/><circle cx="407.8" cy="121.8" r="1.1"/><circle cx="351.7" cy="138.3" r="1.1"/><circle cx="461.8" cy="132.6" r="1.1"/><circle cx="394.5" cy="76.5" r="1.1"/><circle cx="393.7" cy="127.0" r="1.1"/><circle cx="341.1" cy="115.5" r="1.1"/><circle cx="335.8" cy="103.2" r="1.1"/><circle cx="391.7" cy="109.5" r="1.1"/><circle cx="498.4" cy="124.4" r="1.1"/><circle cx="402.3" cy="120.5" r="1.1"/><circle cx="447.9" cy="113.4" r="1.1"/><circle cx="489.7" cy="132.3" r="1.1"/><circle cx="373.2" cy="128.3" r="1.1"/><circle cx="454.3" cy="108.5" r="1.1"/><circle cx="373.6" cy="123.2" r="1.1"/><circle cx="454.7" cy="114.1" r="1.1"/><circle cx="406.1" cy="122.4" r="1.1"/><circle cx="353.2" cy="134.2" r="1.1"/><circle cx="389.9" cy="119.7" r="1.1"/><circle cx="457.1" cy="112.9" r="1.1"/><circle cx="358.4" cy="110.1" r="1.1"/><circle cx="498.7" cy="106.1" r="1.1"/><circle cx="336.7" cy="129.3" r="1.1"/><circle cx="378.9" cy="119.1" r="1.1"/><circle cx="362.9" cy="103.4" r="1.1"/><circle cx="456.9" cy="122.0" r="1.1"/><circle cx="497.6" cy="112.2" r="1.1"/><circle cx="398.9" cy="133.3" r="1.1"/><circle cx="313.1" cy="115.1" r="1.1"/><circle cx="320.7" cy="129.0" r="1.1"/><circle cx="330.1" cy="115.2" r="1.1"/><circle cx="415.9" cy="123.4" r="1.1"/><circle cx="431.6" cy="102.0" r="1.1"/><circle cx="363.6" cy="113.1" r="1.1"/><circle cx="484.4" cy="109.3" r="1.1"/><circle cx="430.7" cy="125.2" r="1.1"/><circle cx="321.4" cy="128.2" r="1.1"/><circle cx="406.2" cy="129.1" r="1.1"/><circle cx="454.0" cy="119.7" r="1.1"/><circle cx="382.9" cy="131.9" r="1.1"/><circle cx="479.0" cy="115.1" r="1.1"/><circle cx="386.4" cy="124.5" r="1.1"/><circle cx="353.3" cy="129.0" r="1.1"/><circle cx="355.6" cy="118.4" r="1.1"/><circle cx="364.4" cy="111.9" r="1.1"/><circle cx="395.3" cy="113.5" r="1.1"/><circle cx="344.9" cy="126.4" r="1.1"/><circle cx="487.1" cy="75.7" r="1.1"/><circle cx="415.5" cy="106.1" r="1.1"/><circle cx="385.0" cy="116.3" r="1.1"/><circle cx="385.6" cy="118.9" r="1.1"/><circle cx="355.2" cy="117.9" r="1.1"/><circle cx="317.4" cy="94.5" r="1.1"/><circle cx="324.4" cy="130.0" r="1.1"/><circle cx="424.5" cy="123.3" r="1.1"/><circle cx="437.5" cy="129.3" r="1.1"/><circle cx="348.1" cy="119.0" r="1.1"/><circle cx="366.0" cy="137.7" r="1.1"/><circle cx="326.0" cy="120.6" r="1.1"/><circle cx="424.3" cy="125.1" r="1.1"/><circle cx="379.0" cy="125.3" r="1.1"/><circle cx="413.1" cy="129.2" r="1.1"/><circle cx="485.9" cy="113.8" r="1.1"/><circle cx="403.1" cy="127.9" r="1.1"/><circle cx="322.3" cy="119.8" r="1.1"/><circle cx="319.2" cy="107.0" r="1.1"/><circle cx="352.3" cy="128.1" r="1.1"/><circle cx="425.2" cy="120.6" r="1.1"/><circle cx="316.2" cy="99.7" r="1.1"/><circle cx="347.0" cy="129.5" r="1.1"/><circle cx="364.6" cy="118.9" r="1.1"/><circle cx="395.9" cy="122.6" r="1.1"/><circle cx="331.6" cy="115.8" r="1.1"/><circle cx="475.1" cy="131.6" r="1.1"/><circle cx="355.5" cy="121.0" r="1.1"/><circle cx="404.1" cy="125.5" r="1.1"/><circle cx="372.5" cy="116.3" r="1.1"/><circle cx="331.3" cy="125.3" r="1.1"/><circle cx="358.7" cy="122.7" r="1.1"/><circle cx="411.6" cy="119.4" r="1.1"/><circle cx="430.2" cy="131.8" r="1.1"/><circle cx="369.9" cy="117.6" r="1.1"/><circle cx="375.1" cy="127.4" r="1.1"/><circle cx="369.2" cy="126.8" r="1.1"/><circle cx="377.9" cy="123.4" r="1.1"/><circle cx="351.2" cy="129.3" r="1.1"/><circle cx="394.8" cy="131.4" r="1.1"/><circle cx="339.5" cy="117.5" r="1.1"/><circle cx="366.4" cy="109.9" r="1.1"/><circle cx="330.8" cy="108.8" r="1.1"/><circle cx="328.4" cy="114.8" r="1.1"/><circle cx="484.5" cy="117.4" r="1.1"/><circle cx="367.6" cy="129.2" r="1.1"/><circle cx="465.0" cy="130.9" r="1.1"/><circle cx="348.5" cy="110.3" r="1.1"/><circle cx="497.8" cy="129.5" r="1.1"/><circle cx="389.2" cy="127.4" r="1.1"/><circle cx="421.8" cy="120.1" r="1.1"/><circle cx="348.4" cy="132.7" r="1.1"/><circle cx="458.0" cy="119.2" r="1.1"/><circle cx="412.3" cy="131.9" r="1.1"/><circle cx="454.1" cy="131.6" r="1.1"/><circle cx="330.1" cy="117.0" r="1.1"/><circle cx="364.2" cy="119.8" r="1.1"/><circle cx="339.9" cy="115.2" r="1.1"/><circle cx="374.7" cy="116.2" r="1.1"/><circle cx="342.1" cy="130.4" r="1.1"/><circle cx="412.6" cy="116.9" r="1.1"/><circle cx="344.8" cy="127.5" r="1.1"/><circle cx="326.7" cy="124.6" r="1.1"/><circle cx="347.3" cy="131.5" r="1.1"/><circle cx="437.6" cy="122.7" r="1.1"/><circle cx="322.3" cy="135.8" r="1.1"/><circle cx="478.7" cy="124.1" r="1.1"/><circle cx="441.6" cy="117.5" r="1.1"/><circle cx="445.6" cy="119.1" r="1.1"/><circle cx="417.1" cy="133.9" r="1.1"/><circle cx="466.3" cy="121.6" r="1.1"/><circle cx="434.9" cy="119.1" r="1.1"/><circle cx="451.4" cy="127.2" r="1.1"/><circle cx="463.5" cy="132.4" r="1.1"/><circle cx="402.8" cy="109.0" r="1.1"/><circle cx="471.2" cy="129.9" r="1.1"/><circle cx="455.4" cy="131.8" r="1.1"/><circle cx="380.1" cy="115.6" r="1.1"/><circle cx="360.1" cy="138.7" r="1.1"/><circle cx="387.6" cy="133.5" r="1.1"/><circle cx="320.9" cy="130.7" r="1.1"/><circle cx="456.4" cy="129.6" r="1.1"/><circle cx="427.9" cy="135.8" r="1.1"/><circle cx="321.5" cy="116.2" r="1.1"/><circle cx="437.5" cy="125.8" r="1.1"/><circle cx="340.9" cy="129.0" r="1.1"/><circle cx="337.5" cy="134.1" r="1.1"/><circle cx="445.3" cy="122.2" r="1.1"/><circle cx="378.6" cy="129.5" r="1.1"/><circle cx="389.0" cy="121.0" r="1.1"/><circle cx="346.7" cy="114.5" r="1.1"/><circle cx="428.1" cy="118.1" r="1.1"/><circle cx="346.1" cy="115.6" r="1.1"/><circle cx="363.7" cy="119.5" r="1.1"/><circle cx="415.0" cy="114.8" r="1.1"/><circle cx="392.5" cy="123.5" r="1.1"/><circle cx="387.8" cy="114.1" r="1.1"/><circle cx="342.1" cy="137.4" r="1.1"/><circle cx="410.3" cy="126.1" r="1.1"/><circle cx="365.5" cy="126.4" r="1.1"/><circle cx="373.3" cy="134.1" r="1.1"/><circle cx="320.1" cy="126.6" r="1.1"/><circle cx="448.8" cy="121.7" r="1.1"/><circle cx="456.9" cy="128.7" r="1.1"/><circle cx="327.5" cy="121.5" r="1.1"/><circle cx="377.2" cy="116.1" r="1.1"/><circle cx="425.9" cy="131.6" r="1.1"/><circle cx="423.0" cy="107.4" r="1.1"/><circle cx="437.5" cy="117.6" r="1.1"/><circle cx="394.0" cy="129.5" r="1.1"/><circle cx="366.6" cy="115.1" r="1.1"/><circle cx="382.7" cy="125.9" r="1.1"/><circle cx="366.1" cy="116.8" r="1.1"/><circle cx="498.0" cy="114.2" r="1.1"/><circle cx="372.1" cy="123.4" r="1.1"/><circle cx="454.0" cy="117.3" r="1.1"/><circle cx="368.7" cy="129.2" r="1.1"/><circle cx="391.2" cy="124.2" r="1.1"/><circle cx="387.8" cy="123.9" r="1.1"/><circle cx="477.2" cy="117.3" r="1.1"/><circle cx="403.3" cy="125.9" r="1.1"/><circle cx="447.9" cy="111.7" r="1.1"/><circle cx="441.5" cy="123.2" r="1.1"/><circle cx="401.8" cy="122.2" r="1.1"/><circle cx="374.9" cy="111.9" r="1.1"/><circle cx="493.1" cy="126.4" r="1.1"/><circle cx="326.8" cy="120.8" r="1.1"/><circle cx="337.0" cy="120.3" r="1.1"/><circle cx="343.8" cy="121.3" r="1.1"/><circle cx="386.6" cy="133.4" r="1.1"/><circle cx="318.0" cy="78.6" r="1.1"/><circle cx="325.4" cy="114.5" r="1.1"/><circle cx="391.0" cy="117.9" r="1.1"/><circle cx="490.8" cy="114.6" r="1.1"/><circle cx="451.5" cy="118.8" r="1.1"/><circle cx="317.0" cy="119.4" r="1.1"/><circle cx="398.9" cy="97.4" r="1.1"/><circle cx="371.9" cy="113.6" r="1.1"/><circle cx="326.8" cy="83.1" r="1.1"/><circle cx="375.9" cy="115.5" r="1.1"/><circle cx="357.5" cy="116.9" r="1.1"/><circle cx="487.9" cy="122.0" r="1.1"/><circle cx="324.8" cy="119.1" r="1.1"/><circle cx="376.7" cy="119.5" r="1.1"/><circle cx="326.2" cy="133.5" r="1.1"/><circle cx="372.7" cy="119.3" r="1.1"/><circle cx="389.5" cy="115.6" r="1.1"/><circle cx="419.6" cy="119.3" r="1.1"/><circle cx="353.7" cy="108.0" r="1.1"/><circle cx="328.1" cy="130.6" r="1.1"/><circle cx="472.2" cy="121.4" r="1.1"/><circle cx="422.5" cy="124.8" r="1.1"/><circle cx="434.1" cy="115.7" r="1.1"/><circle cx="358.8" cy="113.9" r="1.1"/><circle cx="453.0" cy="98.5" r="1.1"/><circle cx="413.2" cy="117.4" r="1.1"/><circle cx="347.9" cy="135.5" r="1.1"/><circle cx="456.5" cy="131.2" r="1.1"/><circle cx="359.1" cy="116.2" r="1.1"/><circle cx="413.8" cy="117.3" r="1.1"/><circle cx="470.2" cy="98.3" r="1.1"/><circle cx="468.5" cy="111.4" r="1.1"/><circle cx="331.7" cy="129.0" r="1.1"/><circle cx="457.2" cy="102.9" r="1.1"/><circle cx="433.2" cy="124.5" r="1.1"/><circle cx="475.0" cy="129.6" r="1.1"/><circle cx="331.6" cy="88.3" r="1.1"/><circle cx="470.6" cy="133.4" r="1.1"/><circle cx="467.0" cy="134.7" r="1.1"/><circle cx="475.2" cy="128.7" r="1.1"/><circle cx="469.7" cy="125.9" r="1.1"/><circle cx="410.1" cy="121.0" r="1.1"/><circle cx="339.5" cy="103.4" r="1.1"/><circle cx="383.1" cy="119.0" r="1.1"/><circle cx="351.5" cy="116.5" r="1.1"/><circle cx="329.8" cy="121.1" r="1.1"/><circle cx="428.7" cy="116.2" r="1.1"/><circle cx="481.2" cy="130.6" r="1.1"/><circle cx="374.9" cy="105.3" r="1.1"/><circle cx="326.6" cy="114.0" r="1.1"/><circle cx="365.4" cy="117.9" r="1.1"/><circle cx="382.2" cy="131.8" r="1.1"/><circle cx="407.8" cy="134.6" r="1.1"/><circle cx="479.4" cy="121.7" r="1.1"/><circle cx="359.0" cy="115.8" r="1.1"/><circle cx="492.3" cy="126.9" r="1.1"/><circle cx="390.4" cy="123.7" r="1.1"/><circle cx="448.6" cy="124.7" r="1.1"/><circle cx="319.0" cy="91.1" r="1.1"/><circle cx="322.4" cy="109.1" r="1.1"/><circle cx="407.5" cy="114.6" r="1.1"/><circle cx="374.5" cy="106.8" r="1.1"/><circle cx="486.0" cy="128.1" r="1.1"/><circle cx="318.2" cy="111.4" r="1.1"/><circle cx="377.9" cy="133.8" r="1.1"/><circle cx="392.7" cy="121.5" r="1.1"/><circle cx="338.4" cy="132.5" r="1.1"/><circle cx="368.5" cy="115.9" r="1.1"/><circle cx="484.8" cy="108.2" r="1.1"/><circle cx="338.4" cy="118.6" r="1.1"/><circle cx="406.3" cy="114.7" r="1.1"/><circle cx="321.6" cy="113.9" r="1.1"/><circle cx="425.4" cy="127.2" r="1.1"/><circle cx="326.6" cy="117.7" r="1.1"/><circle cx="465.2" cy="129.6" r="1.1"/><circle cx="486.3" cy="130.2" r="1.1"/><circle cx="332.7" cy="122.9" r="1.1"/><circle cx="343.3" cy="107.3" r="1.1"/><circle cx="358.6" cy="119.3" r="1.1"/><circle cx="428.3" cy="135.0" r="1.1"/><circle cx="328.3" cy="94.3" r="1.1"/><circle cx="452.4" cy="97.0" r="1.1"/><circle cx="470.0" cy="116.5" r="1.1"/><circle cx="464.0" cy="117.5" r="1.1"/><circle cx="475.0" cy="133.5" r="1.1"/><circle cx="412.4" cy="84.5" r="1.1"/><circle cx="340.0" cy="121.7" r="1.1"/><circle cx="415.2" cy="100.5" r="1.1"/><circle cx="354.5" cy="130.0" r="1.1"/><circle cx="496.5" cy="128.8" r="1.1"/><circle cx="440.8" cy="116.4" r="1.1"/><circle cx="337.5" cy="119.2" r="1.1"/><circle cx="501.7" cy="129.5" r="1.1"/><circle cx="352.4" cy="101.9" r="1.1"/><circle cx="472.3" cy="116.8" r="1.1"/><circle cx="495.9" cy="120.7" r="1.1"/><circle cx="405.8" cy="115.9" r="1.1"/><circle cx="326.0" cy="128.9" r="1.1"/><circle cx="424.8" cy="123.5" r="1.1"/><circle cx="340.1" cy="120.6" r="1.1"/><circle cx="379.2" cy="122.3" r="1.1"/><circle cx="321.2" cy="125.3" r="1.1"/><circle cx="340.9" cy="104.9" r="1.1"/><circle cx="320.5" cy="116.0" r="1.1"/><circle cx="437.5" cy="117.1" r="1.1"/><circle cx="485.4" cy="112.7" r="1.1"/><circle cx="461.8" cy="104.0" r="1.1"/><circle cx="402.8" cy="127.4" r="1.1"/><circle cx="443.9" cy="129.3" r="1.1"/><circle cx="450.4" cy="110.2" r="1.1"/><circle cx="447.4" cy="116.0" r="1.1"/><circle cx="447.5" cy="128.4" r="1.1"/><circle cx="408.8" cy="108.2" r="1.1"/><circle cx="476.1" cy="111.2" r="1.1"/><circle cx="457.4" cy="124.5" r="1.1"/><circle cx="499.6" cy="133.0" r="1.1"/><circle cx="420.8" cy="133.6" r="1.1"/><circle cx="444.6" cy="122.6" r="1.1"/><circle cx="418.9" cy="114.6" r="1.1"/><circle cx="404.3" cy="124.4" r="1.1"/><circle cx="381.0" cy="119.2" r="1.1"/><circle cx="439.8" cy="118.8" r="1.1"/><circle cx="411.5" cy="120.7" r="1.1"/><circle cx="372.5" cy="114.5" r="1.1"/><circle cx="338.5" cy="127.6" r="1.1"/><circle cx="405.0" cy="120.8" r="1.1"/><circle cx="350.5" cy="136.0" r="1.1"/><circle cx="398.4" cy="116.8" r="1.1"/><circle cx="434.7" cy="101.3" r="1.1"/><circle cx="341.6" cy="130.9" r="1.1"/><circle cx="422.7" cy="112.0" r="1.1"/><circle cx="384.6" cy="115.8" r="1.1"/><circle cx="442.3" cy="96.7" r="1.1"/><circle cx="410.9" cy="134.7" r="1.1"/><circle cx="321.6" cy="129.2" r="1.1"/><circle cx="337.6" cy="124.5" r="1.1"/><circle cx="477.7" cy="113.9" r="1.1"/><circle cx="370.7" cy="114.1" r="1.1"/><circle cx="421.0" cy="119.4" r="1.1"/><circle cx="390.7" cy="121.1" r="1.1"/><circle cx="368.3" cy="125.0" r="1.1"/><circle cx="458.1" cy="127.3" r="1.1"/><circle cx="369.5" cy="119.0" r="1.1"/><circle cx="399.4" cy="136.1" r="1.1"/><circle cx="415.4" cy="117.8" r="1.1"/><circle cx="416.8" cy="121.6" r="1.1"/><circle cx="362.1" cy="130.3" r="1.1"/><circle cx="367.2" cy="132.0" r="1.1"/><circle cx="484.1" cy="125.5" r="1.1"/><circle cx="358.8" cy="106.9" r="1.1"/><circle cx="331.0" cy="122.9" r="1.1"/><circle cx="463.6" cy="112.1" r="1.1"/><circle cx="362.5" cy="118.4" r="1.1"/><circle cx="402.0" cy="129.6" r="1.1"/><circle cx="337.4" cy="130.2" r="1.1"/><circle cx="350.1" cy="119.3" r="1.1"/><circle cx="367.1" cy="108.8" r="1.1"/><circle cx="447.6" cy="130.8" r="1.1"/><circle cx="377.5" cy="123.7" r="1.1"/><circle cx="477.4" cy="124.8" r="1.1"/><circle cx="381.0" cy="110.7" r="1.1"/><circle cx="490.4" cy="125.3" r="1.1"/><circle cx="496.5" cy="129.5" r="1.1"/><circle cx="369.8" cy="128.2" r="1.1"/><circle cx="331.0" cy="109.4" r="1.1"/><circle cx="429.6" cy="119.3" r="1.1"/><circle cx="447.8" cy="106.4" r="1.1"/><circle cx="349.4" cy="127.6" r="1.1"/><circle cx="376.6" cy="126.0" r="1.1"/><circle cx="332.0" cy="99.7" r="1.1"/><circle cx="499.2" cy="115.4" r="1.1"/><circle cx="466.0" cy="122.7" r="1.1"/><circle cx="327.8" cy="130.3" r="1.1"/><circle cx="482.4" cy="130.7" r="1.1"/><circle cx="347.5" cy="136.9" r="1.1"/><circle cx="476.7" cy="134.4" r="1.1"/><circle cx="493.8" cy="116.3" r="1.1"/><circle cx="438.6" cy="117.0" r="1.1"/><circle cx="445.5" cy="127.0" r="1.1"/><circle cx="376.1" cy="131.9" r="1.1"/><circle cx="322.6" cy="111.4" r="1.1"/><circle cx="437.9" cy="116.7" r="1.1"/><circle cx="384.7" cy="126.2" r="1.1"/><circle cx="369.2" cy="105.2" r="1.1"/><circle cx="451.7" cy="125.7" r="1.1"/><circle cx="489.2" cy="113.6" r="1.1"/><circle cx="452.4" cy="119.8" r="1.1"/><circle cx="501.3" cy="111.7" r="1.1"/><circle cx="320.5" cy="101.1" r="1.1"/><circle cx="433.6" cy="112.6" r="1.1"/><circle cx="379.5" cy="126.7" r="1.1"/><circle cx="455.1" cy="111.0" r="1.1"/><circle cx="375.3" cy="123.7" r="1.1"/><circle cx="325.5" cy="126.4" r="1.1"/><circle cx="355.0" cy="111.7" r="1.1"/><circle cx="354.3" cy="127.1" r="1.1"/><circle cx="431.7" cy="120.0" r="1.1"/><circle cx="479.4" cy="115.9" r="1.1"/><circle cx="462.9" cy="115.6" r="1.1"/><circle cx="373.7" cy="127.1" r="1.1"/><circle cx="385.9" cy="121.3" r="1.1"/><circle cx="370.3" cy="84.5" r="1.1"/><circle cx="346.7" cy="83.0" r="1.1"/><circle cx="384.1" cy="124.7" r="1.1"/><circle cx="394.0" cy="120.9" r="1.1"/><circle cx="342.2" cy="127.0" r="1.1"/><circle cx="388.2" cy="119.2" r="1.1"/><circle cx="372.9" cy="119.1" r="1.1"/><circle cx="342.8" cy="121.6" r="1.1"/><circle cx="345.0" cy="127.8" r="1.1"/><circle cx="329.1" cy="110.3" r="1.1"/><circle cx="382.4" cy="109.9" r="1.1"/><circle cx="465.1" cy="128.8" r="1.1"/><circle cx="485.3" cy="122.2" r="1.1"/><circle cx="449.5" cy="82.6" r="1.1"/><circle cx="364.9" cy="127.3" r="1.1"/><circle cx="359.1" cy="109.9" r="1.1"/><circle cx="335.1" cy="108.5" r="1.1"/><circle cx="391.5" cy="127.8" r="1.1"/><circle cx="418.4" cy="117.5" r="1.1"/><circle cx="380.4" cy="132.3" r="1.1"/><circle cx="500.6" cy="123.1" r="1.1"/><circle cx="367.9" cy="102.4" r="1.1"/><circle cx="414.2" cy="128.1" r="1.1"/><circle cx="338.4" cy="122.4" r="1.1"/><circle cx="330.9" cy="126.4" r="1.1"/><circle cx="496.4" cy="122.6" r="1.1"/><circle cx="395.9" cy="129.1" r="1.1"/><circle cx="339.3" cy="129.1" r="1.1"/><circle cx="418.1" cy="118.6" r="1.1"/><circle cx="338.7" cy="129.9" r="1.1"/><circle cx="401.1" cy="120.9" r="1.1"/><circle cx="377.0" cy="121.6" r="1.1"/><circle cx="411.5" cy="114.6" r="1.1"/><circle cx="457.7" cy="134.2" r="1.1"/><circle cx="428.2" cy="132.6" r="1.1"/><circle cx="444.6" cy="115.7" r="1.1"/><circle cx="321.7" cy="130.6" r="1.1"/><circle cx="381.4" cy="108.3" r="1.1"/><circle cx="348.0" cy="114.6" r="1.1"/><circle cx="474.2" cy="133.8" r="1.1"/><circle cx="404.4" cy="116.3" r="1.1"/><circle cx="395.4" cy="125.8" r="1.1"/><circle cx="344.1" cy="135.2" r="1.1"/><circle cx="383.8" cy="120.9" r="1.1"/><circle cx="339.5" cy="117.6" r="1.1"/><circle cx="318.6" cy="112.6" r="1.1"/><circle cx="355.5" cy="133.8" r="1.1"/><circle cx="493.1" cy="130.1" r="1.1"/><circle cx="347.5" cy="119.2" r="1.1"/><circle cx="472.4" cy="127.0" r="1.1"/><circle cx="396.7" cy="116.6" r="1.1"/><circle cx="446.6" cy="107.0" r="1.1"/><circle cx="321.4" cy="129.0" r="1.1"/><circle cx="423.3" cy="99.7" r="1.1"/><circle cx="336.4" cy="117.2" r="1.1"/><circle cx="392.4" cy="103.9" r="1.1"/><circle cx="447.1" cy="127.4" r="1.1"/><circle cx="338.8" cy="124.8" r="1.1"/><circle cx="314.4" cy="119.1" r="1.1"/><circle cx="421.4" cy="121.4" r="1.1"/><circle cx="392.4" cy="84.2" r="1.1"/><circle cx="313.8" cy="118.0" r="1.1"/><circle cx="315.8" cy="120.4" r="1.1"/><circle cx="432.4" cy="129.8" r="1.1"/><circle cx="369.7" cy="119.8" r="1.1"/><circle cx="477.3" cy="120.9" r="1.1"/><circle cx="355.8" cy="119.0" r="1.1"/><circle cx="485.2" cy="121.9" r="1.1"/><circle cx="481.2" cy="119.1" r="1.1"/><circle cx="327.1" cy="132.6" r="1.1"/><circle cx="365.2" cy="109.3" r="1.1"/><circle cx="359.2" cy="92.1" r="1.1"/><circle cx="367.4" cy="116.0" r="1.1"/><circle cx="314.8" cy="98.5" r="1.1"/><circle cx="370.5" cy="130.2" r="1.1"/><circle cx="337.5" cy="125.9" r="1.1"/><circle cx="476.4" cy="130.2" r="1.1"/><circle cx="443.5" cy="136.1" r="1.1"/><circle cx="423.9" cy="120.2" r="1.1"/><circle cx="437.8" cy="127.7" r="1.1"/><circle cx="429.0" cy="114.8" r="1.1"/><circle cx="462.7" cy="123.9" r="1.1"/><circle cx="432.2" cy="97.4" r="1.1"/><circle cx="464.2" cy="129.9" r="1.1"/><circle cx="324.1" cy="87.3" r="1.1"/><circle cx="341.0" cy="102.8" r="1.1"/><circle cx="366.8" cy="128.2" r="1.1"/><circle cx="477.9" cy="103.3" r="1.1"/><circle cx="467.8" cy="125.2" r="1.1"/><circle cx="465.4" cy="132.3" r="1.1"/><circle cx="408.3" cy="124.8" r="1.1"/><circle cx="361.3" cy="116.7" r="1.1"/><circle cx="439.9" cy="122.4" r="1.1"/><circle cx="425.4" cy="127.4" r="1.1"/><circle cx="440.5" cy="129.3" r="1.1"/><circle cx="490.2" cy="110.6" r="1.1"/><circle cx="354.9" cy="110.5" r="1.1"/><circle cx="454.6" cy="128.5" r="1.1"/><circle cx="337.8" cy="124.0" r="1.1"/><circle cx="332.6" cy="102.3" r="1.1"/><circle cx="325.7" cy="109.7" r="1.1"/><circle cx="318.2" cy="105.8" r="1.1"/><circle cx="338.6" cy="119.3" r="1.1"/><circle cx="410.8" cy="119.4" r="1.1"/><circle cx="372.2" cy="90.9" r="1.1"/><circle cx="446.1" cy="80.9" r="1.1"/><circle cx="461.9" cy="124.1" r="1.1"/><circle cx="353.8" cy="111.8" r="1.1"/><circle cx="423.8" cy="118.0" r="1.1"/><circle cx="363.7" cy="130.5" r="1.1"/><circle cx="496.0" cy="126.1" r="1.1"/><circle cx="463.2" cy="127.2" r="1.1"/><circle cx="433.3" cy="113.1" r="1.1"/><circle cx="464.6" cy="129.8" r="1.1"/><circle cx="384.6" cy="126.9" r="1.1"/><circle cx="496.9" cy="118.1" r="1.1"/><circle cx="390.0" cy="133.0" r="1.1"/><circle cx="424.4" cy="108.5" r="1.1"/><circle cx="481.3" cy="124.1" r="1.1"/><circle cx="427.6" cy="128.0" r="1.1"/><circle cx="383.0" cy="121.8" r="1.1"/><circle cx="361.7" cy="119.9" r="1.1"/><circle cx="365.3" cy="120.2" r="1.1"/><circle cx="363.4" cy="134.2" r="1.1"/><circle cx="374.0" cy="113.2" r="1.1"/><circle cx="333.7" cy="108.0" r="1.1"/><circle cx="322.5" cy="116.7" r="1.1"/><circle cx="433.5" cy="119.7" r="1.1"/><circle cx="325.5" cy="127.0" r="1.1"/><circle cx="419.9" cy="118.4" r="1.1"/><circle cx="501.3" cy="120.6" r="1.1"/><circle cx="395.8" cy="128.7" r="1.1"/><circle cx="448.8" cy="111.8" r="1.1"/><circle cx="497.3" cy="109.7" r="1.1"/><circle cx="334.4" cy="120.7" r="1.1"/><circle cx="475.9" cy="128.3" r="1.1"/><circle cx="449.9" cy="109.4" r="1.1"/><circle cx="359.0" cy="123.8" r="1.1"/><circle cx="324.9" cy="126.6" r="1.1"/><circle cx="394.4" cy="127.9" r="1.1"/><circle cx="406.1" cy="108.7" r="1.1"/><circle cx="341.7" cy="129.4" r="1.1"/><circle cx="324.5" cy="115.7" r="1.1"/><circle cx="328.5" cy="121.7" r="1.1"/><circle cx="307.7" cy="84.6" r="1.1"/><circle cx="502.2" cy="130.0" r="1.1"/><circle cx="499.9" cy="132.1" r="1.1"/><circle cx="402.5" cy="129.7" r="1.1"/><circle cx="384.1" cy="122.5" r="1.1"/><circle cx="370.3" cy="108.3" r="1.1"/><circle cx="496.1" cy="122.3" r="1.1"/><circle cx="387.3" cy="135.7" r="1.1"/><circle cx="432.6" cy="107.9" r="1.1"/><circle cx="334.3" cy="112.8" r="1.1"/><circle cx="354.8" cy="135.0" r="1.1"/><circle cx="343.8" cy="130.3" r="1.1"/><circle cx="431.7" cy="133.4" r="1.1"/><circle cx="420.9" cy="125.8" r="1.1"/><circle cx="344.3" cy="131.5" r="1.1"/><circle cx="386.7" cy="117.8" r="1.1"/><circle cx="442.1" cy="128.6" r="1.1"/><circle cx="360.8" cy="124.4" r="1.1"/><circle cx="320.8" cy="121.7" r="1.1"/><circle cx="401.0" cy="124.1" r="1.1"/><circle cx="319.6" cy="124.4" r="1.1"/><circle cx="440.9" cy="126.6" r="1.1"/><circle cx="433.4" cy="130.2" r="1.1"/><circle cx="490.6" cy="130.2" r="1.1"/><circle cx="468.9" cy="114.0" r="1.1"/><circle cx="469.8" cy="124.7" r="1.1"/><circle cx="321.1" cy="104.8" r="1.1"/><circle cx="362.7" cy="135.4" r="1.1"/><circle cx="499.8" cy="129.3" r="1.1"/><circle cx="334.3" cy="117.6" r="1.1"/><circle cx="348.5" cy="125.5" r="1.1"/><circle cx="460.7" cy="121.6" r="1.1"/><circle cx="325.4" cy="116.7" r="1.1"/><circle cx="489.7" cy="118.2" r="1.1"/><circle cx="346.7" cy="133.3" r="1.1"/><circle cx="359.3" cy="122.8" r="1.1"/><circle cx="455.9" cy="129.4" r="1.1"/><circle cx="468.3" cy="111.5" r="1.1"/><circle cx="335.2" cy="118.0" r="1.1"/><circle cx="356.5" cy="115.4" r="1.1"/><circle cx="494.0" cy="126.1" r="1.1"/><circle cx="415.1" cy="125.2" r="1.1"/><circle cx="340.0" cy="112.6" r="1.1"/><circle cx="474.7" cy="112.4" r="1.1"/><circle cx="354.9" cy="117.5" r="1.1"/><circle cx="351.8" cy="123.6" r="1.1"/><circle cx="421.6" cy="92.1" r="1.1"/><circle cx="453.6" cy="127.6" r="1.1"/><circle cx="498.0" cy="118.5" r="1.1"/><circle cx="397.5" cy="110.2" r="1.1"/><circle cx="387.4" cy="127.5" r="1.1"/><circle cx="412.5" cy="117.5" r="1.1"/><circle cx="331.6" cy="132.0" r="1.1"/><circle cx="418.0" cy="108.8" r="1.1"/><circle cx="386.0" cy="119.8" r="1.1"/><circle cx="411.0" cy="130.1" r="1.1"/><circle cx="359.7" cy="112.8" r="1.1"/><circle cx="494.6" cy="111.6" r="1.1"/><circle cx="411.1" cy="119.4" r="1.1"/><circle cx="356.5" cy="124.1" r="1.1"/><circle cx="364.9" cy="123.1" r="1.1"/><circle cx="411.0" cy="104.3" r="1.1"/><circle cx="392.4" cy="112.7" r="1.1"/><circle cx="326.9" cy="120.4" r="1.1"/><circle cx="421.9" cy="113.0" r="1.1"/><circle cx="436.8" cy="120.4" r="1.1"/><circle cx="402.0" cy="122.5" r="1.1"/><circle cx="325.3" cy="122.3" r="1.1"/><circle cx="483.2" cy="125.5" r="1.1"/><circle cx="466.6" cy="119.9" r="1.1"/><circle cx="344.4" cy="123.7" r="1.1"/><circle cx="419.5" cy="107.3" r="1.1"/><circle cx="486.2" cy="120.3" r="1.1"/><circle cx="377.8" cy="91.2" r="1.1"/><circle cx="343.1" cy="101.1" r="1.1"/><circle cx="341.5" cy="121.7" r="1.1"/><circle cx="324.8" cy="106.2" r="1.1"/><circle cx="378.0" cy="103.8" r="1.1"/><circle cx="339.7" cy="132.4" r="1.1"/><circle cx="347.3" cy="126.9" r="1.1"/><circle cx="386.2" cy="119.4" r="1.1"/><circle cx="386.6" cy="117.7" r="1.1"/><circle cx="326.2" cy="120.2" r="1.1"/><circle cx="348.9" cy="113.8" r="1.1"/><circle cx="390.2" cy="120.1" r="1.1"/><circle cx="484.7" cy="105.9" r="1.1"/><circle cx="437.0" cy="123.1" r="1.1"/><circle cx="376.9" cy="119.3" r="1.1"/><circle cx="451.2" cy="132.1" r="1.1"/><circle cx="374.2" cy="102.5" r="1.1"/><circle cx="366.4" cy="118.9" r="1.1"/><circle cx="448.5" cy="116.6" r="1.1"/><circle cx="383.4" cy="116.8" r="1.1"/><circle cx="357.4" cy="130.2" r="1.1"/><circle cx="379.2" cy="96.1" r="1.1"/><circle cx="496.6" cy="115.0" r="1.1"/><circle cx="375.8" cy="116.9" r="1.1"/><circle cx="330.8" cy="115.1" r="1.1"/><circle cx="363.8" cy="111.0" r="1.1"/><circle cx="368.0" cy="106.8" r="1.1"/><circle cx="314.1" cy="117.6" r="1.1"/><circle cx="469.2" cy="130.1" r="1.1"/><circle cx="395.2" cy="127.1" r="1.1"/><circle cx="347.1" cy="108.2" r="1.1"/><circle cx="493.5" cy="109.3" r="1.1"/><circle cx="362.9" cy="108.3" r="1.1"/><circle cx="318.2" cy="85.4" r="1.1"/><circle cx="358.1" cy="113.4" r="1.1"/><circle cx="335.2" cy="112.6" r="1.1"/><circle cx="371.3" cy="126.9" r="1.1"/><circle cx="389.6" cy="127.7" r="1.1"/><circle cx="485.5" cy="126.4" r="1.1"/><circle cx="449.3" cy="130.5" r="1.1"/><circle cx="380.5" cy="111.1" r="1.1"/><circle cx="387.4" cy="119.2" r="1.1"/><circle cx="489.8" cy="131.5" r="1.1"/><circle cx="452.2" cy="131.0" r="1.1"/><circle cx="469.1" cy="131.7" r="1.1"/><circle cx="363.0" cy="123.4" r="1.1"/><circle cx="456.6" cy="116.2" r="1.1"/><circle cx="344.5" cy="118.1" r="1.1"/><circle cx="489.8" cy="87.1" r="1.1"/><circle cx="352.9" cy="118.9" r="1.1"/><circle cx="407.1" cy="119.2" r="1.1"/><circle cx="382.4" cy="130.9" r="1.1"/><circle cx="382.5" cy="131.3" r="1.1"/><circle cx="348.3" cy="122.2" r="1.1"/><circle cx="337.4" cy="128.8" r="1.1"/><circle cx="431.9" cy="117.2" r="1.1"/><circle cx="364.7" cy="111.7" r="1.1"/><circle cx="445.7" cy="121.6" r="1.1"/><circle cx="471.6" cy="131.6" r="1.1"/><circle cx="334.1" cy="134.0" r="1.1"/><circle cx="374.4" cy="113.6" r="1.1"/><circle cx="408.3" cy="126.4" r="1.1"/><circle cx="374.9" cy="117.7" r="1.1"/><circle cx="487.0" cy="112.0" r="1.1"/><circle cx="438.9" cy="119.6" r="1.1"/><circle cx="365.5" cy="122.2" r="1.1"/><circle cx="448.3" cy="94.0" r="1.1"/><circle cx="386.3" cy="115.0" r="1.1"/><circle cx="481.5" cy="115.0" r="1.1"/><circle cx="318.6" cy="81.3" r="1.1"/><circle cx="440.7" cy="124.7" r="1.1"/><circle cx="360.0" cy="118.5" r="1.1"/><circle cx="501.3" cy="118.9" r="1.1"/><circle cx="387.0" cy="119.8" r="1.1"/><circle cx="457.1" cy="122.8" r="1.1"/><circle cx="446.3" cy="129.7" r="1.1"/><circle cx="318.7" cy="109.8" r="1.1"/><circle cx="483.2" cy="130.2" r="1.1"/><circle cx="442.3" cy="118.3" r="1.1"/><circle cx="502.3" cy="118.7" r="1.1"/><circle cx="421.6" cy="128.4" r="1.1"/><circle cx="439.5" cy="115.6" r="1.1"/><circle cx="373.8" cy="130.9" r="1.1"/><circle cx="500.2" cy="131.7" r="1.1"/><circle cx="325.7" cy="125.3" r="1.1"/><circle cx="478.8" cy="80.3" r="1.1"/><circle cx="462.7" cy="108.9" r="1.1"/><circle cx="453.7" cy="111.5" r="1.1"/><circle cx="384.2" cy="123.0" r="1.1"/><circle cx="460.4" cy="130.5" r="1.1"/><circle cx="444.7" cy="117.8" r="1.1"/><circle cx="372.2" cy="125.0" r="1.1"/><circle cx="373.6" cy="119.1" r="1.1"/><circle cx="402.2" cy="133.2" r="1.1"/><circle cx="318.4" cy="123.7" r="1.1"/><circle cx="387.2" cy="135.0" r="1.1"/><circle cx="358.9" cy="126.5" r="1.1"/><circle cx="492.3" cy="131.7" r="1.1"/><circle cx="401.4" cy="85.3" r="1.1"/><circle cx="488.3" cy="128.7" r="1.1"/><circle cx="410.9" cy="119.1" r="1.1"/><circle cx="380.7" cy="115.7" r="1.1"/><circle cx="449.6" cy="125.0" r="1.1"/><circle cx="381.0" cy="112.4" r="1.1"/><circle cx="495.3" cy="115.8" r="1.1"/><circle cx="461.8" cy="119.8" r="1.1"/><circle cx="413.4" cy="128.6" r="1.1"/><circle cx="322.6" cy="124.4" r="1.1"/><circle cx="497.5" cy="92.4" r="1.1"/><circle cx="411.0" cy="116.9" r="1.1"/><circle cx="336.0" cy="122.5" r="1.1"/><circle cx="428.5" cy="117.2" r="1.1"/><circle cx="502.6" cy="128.6" r="1.1"/><circle cx="467.1" cy="119.5" r="1.1"/><circle cx="472.1" cy="111.8" r="1.1"/><circle cx="317.9" cy="105.0" r="1.1"/><circle cx="391.1" cy="105.2" r="1.1"/><circle cx="492.7" cy="124.3" r="1.1"/><circle cx="473.5" cy="123.7" r="1.1"/><circle cx="344.5" cy="128.1" r="1.1"/><circle cx="377.2" cy="112.5" r="1.1"/><circle cx="414.1" cy="127.2" r="1.1"/><circle cx="404.9" cy="138.0" r="1.1"/><circle cx="327.4" cy="95.0" r="1.1"/><circle cx="340.4" cy="119.8" r="1.1"/><circle cx="348.9" cy="110.1" r="1.1"/><circle cx="376.5" cy="127.3" r="1.1"/><circle cx="318.8" cy="117.0" r="1.1"/><circle cx="496.1" cy="124.1" r="1.1"/><circle cx="380.0" cy="121.7" r="1.1"/><circle cx="493.3" cy="124.1" r="1.1"/><circle cx="411.3" cy="106.4" r="1.1"/><circle cx="438.8" cy="96.0" r="1.1"/><circle cx="327.7" cy="97.2" r="1.1"/><circle cx="392.3" cy="106.4" r="1.1"/><circle cx="414.2" cy="129.4" r="1.1"/><circle cx="474.0" cy="121.0" r="1.1"/><circle cx="363.9" cy="115.5" r="1.1"/><circle cx="347.6" cy="120.1" r="1.1"/><circle cx="425.0" cy="122.2" r="1.1"/><circle cx="451.6" cy="117.9" r="1.1"/><circle cx="391.0" cy="120.6" r="1.1"/><circle cx="356.2" cy="100.6" r="1.1"/><circle cx="500.5" cy="125.1" r="1.1"/><circle cx="364.0" cy="97.1" r="1.1"/><circle cx="394.0" cy="115.8" r="1.1"/><circle cx="374.8" cy="125.9" r="1.1"/><circle cx="449.3" cy="118.6" r="1.1"/><circle cx="469.8" cy="133.5" r="1.1"/><circle cx="334.5" cy="121.4" r="1.1"/><circle cx="461.4" cy="130.6" r="1.1"/><circle cx="356.0" cy="111.0" r="1.1"/><circle cx="468.4" cy="120.7" r="1.1"/><circle cx="414.6" cy="90.0" r="1.1"/><circle cx="492.1" cy="121.4" r="1.1"/><circle cx="319.4" cy="122.2" r="1.1"/><circle cx="323.3" cy="132.6" r="1.1"/><circle cx="406.1" cy="131.3" r="1.1"/><circle cx="370.7" cy="106.3" r="1.1"/><circle cx="379.1" cy="114.0" r="1.1"/><circle cx="471.7" cy="129.5" r="1.1"/><circle cx="327.8" cy="117.0" r="1.1"/><circle cx="395.3" cy="123.1" r="1.1"/><circle cx="455.4" cy="123.4" r="1.1"/><circle cx="405.2" cy="132.0" r="1.1"/><circle cx="414.3" cy="124.4" r="1.1"/><circle cx="331.5" cy="115.5" r="1.1"/><circle cx="329.6" cy="132.5" r="1.1"/><circle cx="372.9" cy="112.8" r="1.1"/><circle cx="420.5" cy="113.8" r="1.1"/><circle cx="469.0" cy="125.8" r="1.1"/><circle cx="316.8" cy="111.7" r="1.1"/><circle cx="328.2" cy="128.8" r="1.1"/><circle cx="417.5" cy="111.4" r="1.1"/><circle cx="439.1" cy="129.1" r="1.1"/><circle cx="352.7" cy="129.9" r="1.1"/><circle cx="427.1" cy="115.7" r="1.1"/><circle cx="418.3" cy="125.0" r="1.1"/><circle cx="336.1" cy="109.5" r="1.1"/><circle cx="385.5" cy="122.7" r="1.1"/><circle cx="408.3" cy="112.5" r="1.1"/><circle cx="403.5" cy="124.1" r="1.1"/><circle cx="399.1" cy="127.6" r="1.1"/><circle cx="430.4" cy="118.9" r="1.1"/><circle cx="388.7" cy="115.5" r="1.1"/><circle cx="500.8" cy="128.1" r="1.1"/><circle cx="439.1" cy="114.3" r="1.1"/><circle cx="430.4" cy="123.2" r="1.1"/><circle cx="478.3" cy="128.4" r="1.1"/><circle cx="338.6" cy="122.5" r="1.1"/><circle cx="416.5" cy="115.2" r="1.1"/><circle cx="423.3" cy="85.3" r="1.1"/><circle cx="424.2" cy="114.6" r="1.1"/><circle cx="345.3" cy="123.1" r="1.1"/><circle cx="450.8" cy="124.2" r="1.1"/><circle cx="388.0" cy="89.6" r="1.1"/><circle cx="398.9" cy="119.3" r="1.1"/><circle cx="364.6" cy="119.1" r="1.1"/><circle cx="429.6" cy="122.7" r="1.1"/><circle cx="467.6" cy="122.0" r="1.1"/><circle cx="330.9" cy="110.1" r="1.1"/><circle cx="345.6" cy="130.5" r="1.1"/><circle cx="451.7" cy="131.1" r="1.1"/><circle cx="408.6" cy="127.4" r="1.1"/><circle cx="490.7" cy="128.1" r="1.1"/><circle cx="407.7" cy="127.5" r="1.1"/><circle cx="463.8" cy="122.1" r="1.1"/><circle cx="394.5" cy="115.9" r="1.1"/><circle cx="352.9" cy="127.1" r="1.1"/><circle cx="453.2" cy="119.0" r="1.1"/><circle cx="398.2" cy="111.6" r="1.1"/><circle cx="339.8" cy="110.1" r="1.1"/><circle cx="501.2" cy="115.9" r="1.1"/><circle cx="386.2" cy="114.0" r="1.1"/><circle cx="401.6" cy="131.1" r="1.1"/><circle cx="341.6" cy="116.8" r="1.1"/><circle cx="395.8" cy="127.6" r="1.1"/><circle cx="373.5" cy="122.3" r="1.1"/><circle cx="430.7" cy="117.6" r="1.1"/><circle cx="364.9" cy="121.4" r="1.1"/><circle cx="326.3" cy="124.5" r="1.1"/><circle cx="438.1" cy="126.8" r="1.1"/><circle cx="323.1" cy="114.6" r="1.1"/><circle cx="353.9" cy="130.3" r="1.1"/><circle cx="371.8" cy="134.1" r="1.1"/><circle cx="332.8" cy="124.3" r="1.1"/><circle cx="370.1" cy="106.6" r="1.1"/><circle cx="355.5" cy="118.3" r="1.1"/><circle cx="325.6" cy="130.2" r="1.1"/><circle cx="478.7" cy="132.4" r="1.1"/><circle cx="453.9" cy="131.2" r="1.1"/><circle cx="334.5" cy="132.2" r="1.1"/><circle cx="339.2" cy="130.7" r="1.1"/><circle cx="378.3" cy="105.6" r="1.1"/><circle cx="339.2" cy="125.9" r="1.1"/><circle cx="383.5" cy="107.6" r="1.1"/><circle cx="465.2" cy="129.6" r="1.1"/><circle cx="368.2" cy="99.8" r="1.1"/><circle cx="456.1" cy="121.3" r="1.1"/><circle cx="410.7" cy="132.2" r="1.1"/><circle cx="418.1" cy="105.1" r="1.1"/><circle cx="493.2" cy="128.9" r="1.1"/><circle cx="474.5" cy="127.2" r="1.1"/><circle cx="339.9" cy="114.4" r="1.1"/><circle cx="382.5" cy="123.6" r="1.1"/><circle cx="434.7" cy="126.1" r="1.1"/><circle cx="436.9" cy="117.2" r="1.1"/><circle cx="404.9" cy="119.3" r="1.1"/><circle cx="358.5" cy="128.7" r="1.1"/><circle cx="447.0" cy="126.7" r="1.1"/><circle cx="356.6" cy="132.9" r="1.1"/><circle cx="445.8" cy="120.8" r="1.1"/><circle cx="435.8" cy="126.7" r="1.1"/><circle cx="361.6" cy="109.6" r="1.1"/><circle cx="469.5" cy="130.8" r="1.1"/><circle cx="388.6" cy="113.4" r="1.1"/><circle cx="330.1" cy="129.6" r="1.1"/><circle cx="385.9" cy="134.2" r="1.1"/><circle cx="472.1" cy="132.0" r="1.1"/><circle cx="351.6" cy="123.7" r="1.1"/><circle cx="370.2" cy="117.7" r="1.1"/><circle cx="344.5" cy="131.7" r="1.1"/><circle cx="450.9" cy="118.4" r="1.1"/><circle cx="414.9" cy="108.5" r="1.1"/><circle cx="415.7" cy="109.9" r="1.1"/><circle cx="472.2" cy="129.2" r="1.1"/><circle cx="396.7" cy="115.0" r="1.1"/><circle cx="427.2" cy="124.2" r="1.1"/><circle cx="442.4" cy="123.4" r="1.1"/><circle cx="369.9" cy="133.4" r="1.1"/><circle cx="382.5" cy="124.2" r="1.1"/><circle cx="356.1" cy="123.7" r="1.1"/><circle cx="434.5" cy="112.6" r="1.1"/><circle cx="415.1" cy="130.4" r="1.1"/><circle cx="374.2" cy="115.9" r="1.1"/><circle cx="329.8" cy="129.6" r="1.1"/><circle cx="347.5" cy="130.4" r="1.1"/><circle cx="385.4" cy="117.9" r="1.1"/><circle cx="358.9" cy="115.9" r="1.1"/><circle cx="328.0" cy="113.7" r="1.1"/><circle cx="345.3" cy="126.7" r="1.1"/><circle cx="351.1" cy="131.2" r="1.1"/><circle cx="326.0" cy="127.8" r="1.1"/><circle cx="362.9" cy="117.8" r="1.1"/><circle cx="338.9" cy="85.6" r="1.1"/><circle cx="331.7" cy="115.6" r="1.1"/><circle cx="386.8" cy="119.0" r="1.1"/><circle cx="479.2" cy="132.6" r="1.1"/><circle cx="364.3" cy="128.1" r="1.1"/><circle cx="422.6" cy="112.9" r="1.1"/><circle cx="405.3" cy="98.6" r="1.1"/><circle cx="331.8" cy="105.0" r="1.1"/><circle cx="362.6" cy="121.9" r="1.1"/><circle cx="386.7" cy="98.7" r="1.1"/><circle cx="363.0" cy="126.6" r="1.1"/><circle cx="376.3" cy="127.4" r="1.1"/><circle cx="468.2" cy="126.0" r="1.1"/><circle cx="344.6" cy="134.8" r="1.1"/><circle cx="400.3" cy="125.1" r="1.1"/><circle cx="338.6" cy="124.9" r="1.1"/><circle cx="336.4" cy="108.7" r="1.1"/><circle cx="444.5" cy="122.5" r="1.1"/><circle cx="436.3" cy="130.8" r="1.1"/><circle cx="370.3" cy="137.8" r="1.1"/><circle cx="432.9" cy="135.4" r="1.1"/><circle cx="323.8" cy="114.8" r="1.1"/><circle cx="342.1" cy="123.2" r="1.1"/><circle cx="484.4" cy="129.8" r="1.1"/><circle cx="404.5" cy="118.8" r="1.1"/><circle cx="333.3" cy="89.7" r="1.1"/><circle cx="343.7" cy="120.8" r="1.1"/><circle cx="464.5" cy="103.2" r="1.1"/><circle cx="360.3" cy="133.4" r="1.1"/><circle cx="359.0" cy="122.4" r="1.1"/><circle cx="325.0" cy="125.0" r="1.1"/><circle cx="340.8" cy="127.6" r="1.1"/><circle cx="446.3" cy="125.2" r="1.1"/><circle cx="405.1" cy="121.7" r="1.1"/><circle cx="426.4" cy="126.3" r="1.1"/><circle cx="361.9" cy="106.8" r="1.1"/><circle cx="427.8" cy="126.3" r="1.1"/><circle cx="444.2" cy="124.7" r="1.1"/><circle cx="382.6" cy="116.7" r="1.1"/><circle cx="481.1" cy="133.8" r="1.1"/><circle cx="354.0" cy="126.7" r="1.1"/><circle cx="329.0" cy="104.8" r="1.1"/><circle cx="406.0" cy="123.7" r="1.1"/><circle cx="366.9" cy="87.3" r="1.1"/><circle cx="417.9" cy="139.4" r="1.1"/><circle cx="461.9" cy="119.1" r="1.1"/><circle cx="391.4" cy="105.2" r="1.1"/><circle cx="380.1" cy="112.4" r="1.1"/><circle cx="360.5" cy="131.6" r="1.1"/><circle cx="363.6" cy="101.9" r="1.1"/><circle cx="334.2" cy="108.6" r="1.1"/><circle cx="334.4" cy="124.3" r="1.1"/><circle cx="436.4" cy="126.1" r="1.1"/><circle cx="346.7" cy="124.7" r="1.1"/><circle cx="360.1" cy="94.0" r="1.1"/><circle cx="457.4" cy="116.0" r="1.1"/><circle cx="395.9" cy="126.2" r="1.1"/><circle cx="443.7" cy="122.6" r="1.1"/><circle cx="475.0" cy="123.8" r="1.1"/><circle cx="330.5" cy="126.7" r="1.1"/><circle cx="469.7" cy="118.6" r="1.1"/><circle cx="376.6" cy="119.8" r="1.1"/><circle cx="360.9" cy="128.0" r="1.1"/><circle cx="474.1" cy="114.8" r="1.1"/><circle cx="473.2" cy="115.6" r="1.1"/><circle cx="323.8" cy="132.3" r="1.1"/><circle cx="440.1" cy="136.6" r="1.1"/><circle cx="322.2" cy="127.2" r="1.1"/><circle cx="475.4" cy="118.7" r="1.1"/><circle cx="396.5" cy="125.6" r="1.1"/><circle cx="329.3" cy="109.1" r="1.1"/><circle cx="434.4" cy="120.6" r="1.1"/><circle cx="491.0" cy="129.6" r="1.1"/><circle cx="488.0" cy="126.0" r="1.1"/><circle cx="496.2" cy="103.9" r="1.1"/><circle cx="484.4" cy="130.9" r="1.1"/><circle cx="402.3" cy="129.2" r="1.1"/><circle cx="464.9" cy="117.2" r="1.1"/><circle cx="441.8" cy="114.4" r="1.1"/><circle cx="348.6" cy="120.9" r="1.1"/><circle cx="485.8" cy="129.4" r="1.1"/><circle cx="384.1" cy="125.6" r="1.1"/><circle cx="427.5" cy="116.5" r="1.1"/><circle cx="344.4" cy="111.0" r="1.1"/><circle cx="471.4" cy="119.4" r="1.1"/><circle cx="432.3" cy="115.2" r="1.1"/><circle cx="378.6" cy="125.5" r="1.1"/><circle cx="376.7" cy="103.2" r="1.1"/><circle cx="321.5" cy="80.4" r="1.1"/><circle cx="374.1" cy="118.4" r="1.1"/><circle cx="347.2" cy="119.9" r="1.1"/><circle cx="336.7" cy="112.4" r="1.1"/><circle cx="330.6" cy="102.2" r="1.1"/><circle cx="308.0" cy="97.4" r="1.1"/><circle cx="327.6" cy="117.6" r="1.1"/><circle cx="332.5" cy="86.7" r="1.1"/><circle cx="364.9" cy="102.3" r="1.1"/><circle cx="336.6" cy="106.7" r="1.1"/><circle cx="463.9" cy="127.5" r="1.1"/><circle cx="337.1" cy="96.5" r="1.1"/><circle cx="348.0" cy="126.2" r="1.1"/><circle cx="392.5" cy="123.4" r="1.1"/><circle cx="418.8" cy="128.5" r="1.1"/><circle cx="434.2" cy="131.2" r="1.1"/><circle cx="454.1" cy="120.1" r="1.1"/><circle cx="461.1" cy="117.0" r="1.1"/><circle cx="347.5" cy="134.0" r="1.1"/><circle cx="351.3" cy="126.6" r="1.1"/><circle cx="413.5" cy="119.8" r="1.1"/><circle cx="330.5" cy="137.8" r="1.1"/><circle cx="359.3" cy="119.8" r="1.1"/><circle cx="356.3" cy="108.4" r="1.1"/><circle cx="467.9" cy="117.3" r="1.1"/><circle cx="325.7" cy="125.6" r="1.1"/><circle cx="400.5" cy="121.2" r="1.1"/><circle cx="442.6" cy="126.4" r="1.1"/><circle cx="391.8" cy="105.5" r="1.1"/><circle cx="353.5" cy="134.6" r="1.1"/><circle cx="402.5" cy="104.6" r="1.1"/><circle cx="378.5" cy="102.6" r="1.1"/><circle cx="321.0" cy="116.5" r="1.1"/><circle cx="473.8" cy="125.7" r="1.1"/><circle cx="322.9" cy="121.9" r="1.1"/><circle cx="400.5" cy="135.6" r="1.1"/><circle cx="480.2" cy="102.8" r="1.1"/><circle cx="393.9" cy="132.6" r="1.1"/><circle cx="357.1" cy="115.4" r="1.1"/><circle cx="357.2" cy="101.7" r="1.1"/><circle cx="404.2" cy="129.2" r="1.1"/><circle cx="411.2" cy="122.5" r="1.1"/><circle cx="314.9" cy="124.1" r="1.1"/><circle cx="393.8" cy="131.3" r="1.1"/><circle cx="369.5" cy="116.5" r="1.1"/><circle cx="462.3" cy="119.1" r="1.1"/><circle cx="434.1" cy="125.4" r="1.1"/><circle cx="444.0" cy="131.6" r="1.1"/><circle cx="338.4" cy="122.1" r="1.1"/><circle cx="403.5" cy="114.3" r="1.1"/><circle cx="393.8" cy="111.2" r="1.1"/><circle cx="330.9" cy="128.0" r="1.1"/><circle cx="495.1" cy="115.3" r="1.1"/><circle cx="497.2" cy="129.0" r="1.1"/><circle cx="375.2" cy="121.6" r="1.1"/><circle cx="433.4" cy="126.1" r="1.1"/><circle cx="364.7" cy="119.4" r="1.1"/><circle cx="430.7" cy="114.1" r="1.1"/><circle cx="432.9" cy="129.4" r="1.1"/><circle cx="489.8" cy="114.5" r="1.1"/><circle cx="322.0" cy="124.7" r="1.1"/><circle cx="349.5" cy="126.5" r="1.1"/><circle cx="387.6" cy="81.8" r="1.1"/><circle cx="372.8" cy="119.6" r="1.1"/><circle cx="332.9" cy="114.0" r="1.1"/><circle cx="337.2" cy="127.3" r="1.1"/><circle cx="360.8" cy="118.0" r="1.1"/><circle cx="433.1" cy="114.7" r="1.1"/><circle cx="391.9" cy="88.6" r="1.1"/><circle cx="326.7" cy="95.0" r="1.1"/><circle cx="489.6" cy="129.4" r="1.1"/><circle cx="467.6" cy="111.9" r="1.1"/><circle cx="475.4" cy="112.3" r="1.1"/><circle cx="416.6" cy="125.4" r="1.1"/><circle cx="471.5" cy="108.9" r="1.1"/><circle cx="502.7" cy="125.1" r="1.1"/><circle cx="441.8" cy="130.6" r="1.1"/><circle cx="423.2" cy="123.7" r="1.1"/><circle cx="467.8" cy="123.5" r="1.1"/><circle cx="402.6" cy="117.6" r="1.1"/><circle cx="323.1" cy="128.7" r="1.1"/><circle cx="453.9" cy="118.9" r="1.1"/><circle cx="447.0" cy="116.7" r="1.1"/><circle cx="474.1" cy="113.6" r="1.1"/><circle cx="324.7" cy="118.3" r="1.1"/><circle cx="365.9" cy="137.1" r="1.1"/><circle cx="459.0" cy="119.4" r="1.1"/><circle cx="491.0" cy="112.1" r="1.1"/><circle cx="429.0" cy="116.2" r="1.1"/><circle cx="327.4" cy="120.0" r="1.1"/><circle cx="404.1" cy="119.3" r="1.1"/><circle cx="361.1" cy="96.5" r="1.1"/><circle cx="470.0" cy="112.6" r="1.1"/><circle cx="372.4" cy="127.7" r="1.1"/><circle cx="481.4" cy="106.9" r="1.1"/><circle cx="368.8" cy="123.4" r="1.1"/><circle cx="346.3" cy="137.0" r="1.1"/><circle cx="361.6" cy="123.8" r="1.1"/><circle cx="434.5" cy="123.0" r="1.1"/><circle cx="460.7" cy="130.9" r="1.1"/><circle cx="375.4" cy="122.6" r="1.1"/><circle cx="410.0" cy="123.7" r="1.1"/><circle cx="370.7" cy="110.8" r="1.1"/><circle cx="347.3" cy="28.2" r="1.15"/><circle cx="357.7" cy="34.9" r="1.15"/><circle cx="316.9" cy="41.8" r="1.15"/><circle cx="308.8" cy="53" r="1.15"/><circle cx="308.8" cy="54.3" r="1.15"/><circle cx="311.6" cy="57.3" r="1.15"/><circle cx="308.8" cy="61.4" r="1.15"/><circle cx="318" cy="61.4" r="1.15"/><circle cx="369.7" cy="53.6" r="1.15"/><circle cx="337.7" cy="62.8" r="1.15"/><circle cx="351" cy="63.8" r="1.15"/><circle cx="385.6" cy="61.8" r="1.15"/><circle cx="318" cy="67.9" r="1.15"/><circle cx="335.3" cy="67.9" r="1.15"/><circle cx="345.9" cy="67.9" r="1.15"/><circle cx="312.9" cy="69.5" r="1.15"/><circle cx="312.9" cy="71" r="1.15"/><circle cx="312.9" cy="74.2" r="1.15"/><circle cx="342.8" cy="73" r="1.15"/><circle cx="388.3" cy="72.6" r="1.15"/><circle cx="501.8" cy="42.4" r="1.15"/><circle cx="420.9" cy="53.2" r="1.15"/><circle cx="417.2" cy="56.7" r="1.15"/><circle cx="430.5" cy="56.7" r="1.15"/><circle cx="452.5" cy="57.7" r="1.15"/><circle cx="418.7" cy="62.4" r="1.15"/><circle cx="437" cy="69.3" r="1.15"/><circle cx="418.7" cy="71.4" r="1.15"/><circle cx="435.6" cy="74.2" r="1.15"/><circle cx="494.7" cy="70.6" r="1.15"/></g>
<polyline points="47.5,79.7 48.8,78.9 50.1,78.2 51.5,77.4 52.8,76.6 54.1,75.9 55.4,75.1 56.8,74.4 58.1,73.6 59.4,72.9 60.7,72.4 62.1,71.8 63.4,71.4 64.7,70.9 66.0,70.5 67.3,70.1 68.7,69.8 70.0,69.4 71.3,69.0 72.6,68.7 74.0,68.4 75.3,68.1 76.6,67.8 77.9,67.6 79.3,67.4 80.6,67.1 81.9,66.9 83.2,66.7 84.6,66.5 85.9,66.4 87.2,66.3 88.5,66.3 89.8,66.3 91.2,66.3 92.5,66.4 93.8,66.4 95.1,66.5 96.5,66.8 97.8,67.1 99.1,67.5 100.4,67.8 101.8,68.0 103.1,68.2 104.4,68.2 105.7,68.2 107.0,68.1 108.4,68.0 109.7,67.8 111.0,67.6 112.3,67.4 113.7,67.2 115.0,67.1 116.3,67.0 117.6,66.9 119.0,66.8 120.3,66.7 121.6,66.7 122.9,66.6 124.3,66.5 125.6,66.4 126.9,66.4 128.2,66.3 129.5,66.2 130.9,66.2 132.2,66.1 133.5,66.1 134.8,66.0 136.2,65.9 137.5,65.9 138.8,65.8 140.1,65.7 141.5,65.7 142.8,65.7 144.1,65.6 145.4,65.6 146.8,65.6 148.1,65.6 149.4,65.7 150.7,65.7 152.0,65.8 153.4,65.8 154.7,65.9 156.0,66.0 157.3,66.0 158.7,66.1 160.0,66.1 161.3,66.2 162.6,66.2 164.0,66.2 165.3,66.3 166.6,66.3 167.9,66.3 169.2,66.3 170.6,66.3 171.9,66.4 173.2,66.4 174.5,66.4 175.9,66.4 177.2,66.4 178.5,66.5 179.8,66.5 181.2,66.5 182.5,66.6 183.8,66.7 185.1,66.7 186.4,66.8 187.8,66.9 189.1,67.0 190.4,67.1 191.7,67.1 193.1,67.2 194.4,67.2 195.7,67.1 197.0,66.9 198.4,66.6 199.7,66.2 201.0,65.8 202.3,65.4 203.7,65.1 205.0,64.9 206.3,64.7 207.6,64.7 208.9,64.8 210.3,64.9 211.6,65.0 212.9,65.2 214.2,65.3 215.6,65.5 216.9,65.6 218.2,65.7 219.5,65.8 220.9,66.0 222.2,66.1 223.5,66.2 224.8,66.4 226.2,66.5 227.5,66.7 228.8,66.8 230.1,67.0 231.4,67.1 232.8,67.3" fill="none" stroke="#bc1a38" stroke-width="1.45" stroke-linejoin="round"/>
<polyline points="304.8,96.2 305.5,97.3 306.1,98.4 306.8,99.5 307.5,100.6 308.1,101.6 308.8,102.7 309.4,103.8 310.1,104.9 310.8,106.0 311.4,107.1 312.1,108.2 312.8,109.2 313.4,110.3 314.1,111.4 314.7,112.5 315.4,113.6 316.1,114.7 316.7,115.7 317.4,116.8 318.1,117.9 318.5,118.6 318.7,118.7 319.4,119.0 320.0,119.3 320.7,119.6 321.4,119.9 322.0,120.1 322.7,120.3 323.4,120.5 324.0,120.6 324.7,120.7 325.3,120.8 326.0,120.9 326.7,121.0 327.3,121.0 328.0,121.1 328.7,121.2 329.3,121.3 330.0,121.4 330.6,121.5 331.3,121.6 332.0,121.7 332.6,121.9 333.3,122.1 334.0,122.3 334.6,122.4 335.3,122.6 335.9,122.8 336.6,123.0 337.3,123.1 337.9,123.3 338.6,123.4 339.3,123.6 339.9,123.8 340.6,123.9 341.2,124.1 341.9,124.2 342.6,124.3 343.2,124.4 343.9,124.5 344.6,124.5 345.2,124.5 345.9,124.4 346.5,124.3 347.2,124.2 347.9,124.1 348.5,124.0 349.2,123.9 349.9,123.7 350.5,123.6 351.2,123.5 351.8,123.3 352.5,123.2 353.2,123.2 353.8,123.1 354.5,123.1 355.2,123.0 355.8,123.0 356.5,123.0 357.2,122.9 357.8,122.9 358.5,122.9 359.1,122.8 359.8,122.8 360.5,122.8 361.1,122.8 361.8,122.7 362.5,122.7 363.1,122.7 363.8,122.7 364.4,122.7 365.1,122.6 365.8,122.6 366.4,122.6 367.1,122.6 367.8,122.6 368.4,122.6 369.1,122.6 369.7,122.6 370.4,122.6 371.1,122.6 371.7,122.6 372.4,122.6 373.1,122.6 373.7,122.6 374.4,122.6 375.0,122.6 375.7,122.6 376.4,122.6 377.0,122.6 377.7,122.6 378.4,122.6 379.0,122.6 379.7,122.6 380.3,122.6 381.0,122.6 381.7,122.6 382.3,122.6 383.0,122.7 383.7,122.7 384.3,122.7 385.0,122.7 385.6,122.7 386.3,122.7 387.0,122.7 387.6,122.7 388.3,122.7 389.0,122.7 389.6,122.7 390.3,122.7 390.9,122.7 391.6,122.7 392.3,122.7 392.9,122.7 393.6,122.7 394.3,122.7 394.9,122.7 395.6,122.7 396.2,122.7 396.9,122.7 397.6,122.7 398.2,122.7 398.9,122.7 399.6,122.7 400.2,122.7 400.9,122.7 401.5,122.7 402.2,122.7 402.9,122.7 403.5,122.7 404.2,122.7 404.9,122.7 405.5,122.8 406.2,122.8 406.9,122.8 407.5,122.8 408.2,122.8 408.8,122.8 409.5,122.8 410.2,122.8 410.8,122.8 411.5,122.8 412.2,122.8 412.8,122.8 413.5,122.8 414.1,122.8 414.8,122.8 415.5,122.8 416.1,122.8 416.8,122.8 417.5,122.8 418.1,122.8 418.8,122.8 419.4,122.8 420.1,122.8 420.8,122.8 421.4,122.8 422.1,122.8 422.8,122.8 423.4,122.8 424.1,122.8 424.7,122.8 425.4,122.8 426.1,122.8 426.7,122.8 427.4,122.8 428.1,122.8 428.7,122.8 429.4,122.8 430.0,122.8 430.7,122.8 431.4,122.8 432.0,122.8 432.7,122.8 433.4,122.8 434.0,122.8 434.7,122.8 435.3,122.8 436.0,122.8 436.7,122.8 437.3,122.8 438.0,122.8 438.7,122.8 439.3,122.8 440.0,122.8 440.6,122.8 441.3,122.8 442.0,122.8 442.6,122.8 443.3,122.8 444.0,122.8 444.6,122.8 445.3,122.8 445.9,122.8 446.6,122.8 447.3,122.8 447.9,122.8 448.6,122.8 449.3,122.8 449.9,122.8 450.6,122.8 451.2,122.8 451.9,122.8 452.6,122.8 453.2,122.8 453.9,122.8 454.6,122.8 455.2,122.8 455.9,122.8 456.6,122.8 457.2,122.8 457.9,122.8 458.5,122.9 459.2,122.9 459.9,122.9 460.5,123.0 461.2,123.1 461.9,123.1 462.5,123.2 463.2,123.3 463.8,123.4 464.5,123.4 465.2,123.5 465.8,123.6 466.5,123.8 467.2,123.9 467.8,124.1 468.5,124.3 469.1,124.5 469.8,124.6 470.5,124.8 471.1,124.9 471.8,125.0 472.5,125.1 473.1,125.1 473.8,125.1 474.4,125.1 475.1,125.1 475.8,125.1 476.4,125.1 477.1,125.1 477.8,125.1 478.4,125.1 479.1,125.1 479.7,125.0 480.4,125.0 481.1,125.0 481.7,125.0 482.4,125.0 483.1,124.9 483.7,124.9 484.4,124.8 485.0,124.8 485.7,124.7 486.4,124.7 487.0,124.6 487.7,124.6 488.4,124.6 489.0,124.5 489.7,124.5 490.3,124.5 491.0,124.5 491.7,124.5 492.3,124.5 493.0,124.5 493.3,124.5" fill="none" stroke="#bc1a38" stroke-width="1.45" stroke-linejoin="round"/>
<polygon points="51.6,270.1 52.2,269.2 52.9,268.5 53.6,267.7 54.2,266.9 54.9,266.2 55.5,265.4 56.2,264.7 56.9,264.0 57.5,263.3 58.2,262.6 58.8,261.9 59.5,261.3 60.2,260.6 60.8,260.0 61.5,259.4 62.2,258.8 62.8,258.2 63.5,257.7 64.1,257.1 64.8,256.6 65.5,256.0 66.1,255.5 66.8,255.0 67.5,254.5 68.1,254.0 68.8,253.5 69.4,253.0 70.1,252.4 70.8,251.9 71.4,251.4 72.1,250.8 72.7,250.3 73.4,249.7 74.1,249.2 74.7,248.7 75.4,248.2 76.1,247.7 76.7,247.2 77.4,246.7 78.0,246.2 78.7,245.8 79.4,245.3 80.0,244.8 80.7,244.4 81.3,243.9 82.0,243.5 82.7,243.1 83.3,242.8 84.0,242.5 84.7,242.3 85.3,242.1 86.0,241.9 86.6,241.7 87.3,241.5 88.0,241.4 88.6,241.3 89.3,241.3 89.9,241.3 90.6,241.3 91.3,241.4 91.9,241.4 92.6,241.5 93.3,241.6 93.9,241.7 94.6,241.8 95.2,241.8 95.9,241.9 96.6,242.0 97.2,242.1 97.9,242.3 98.5,242.4 99.2,242.5 99.9,242.6 100.5,242.6 101.2,242.7 101.9,242.8 102.5,242.9 103.2,242.9 103.8,243.0 104.5,243.0 105.2,243.0 105.8,243.0 106.5,242.9 107.2,242.9 107.8,242.8 108.5,242.7 109.1,242.6 109.8,242.5 110.5,242.4 111.1,242.3 111.8,242.2 112.4,242.0 113.1,241.9 113.8,241.7 114.4,241.5 115.1,241.3 115.8,241.1 116.4,240.9 117.1,240.7 117.7,240.6 118.4,240.4 119.1,240.2 119.7,240.0 120.4,239.8 121.0,239.7 121.7,239.6 122.4,239.5 123.0,239.4 123.7,239.3 124.4,239.2 125.0,239.1 125.7,239.1 126.3,239.0 127.0,239.0 127.7,238.9 128.3,238.9 129.0,238.8 129.6,238.8 130.3,238.8 131.0,238.7 131.6,238.7 132.3,238.7 133.0,238.7 133.6,238.6 134.3,238.6 134.9,238.6 135.6,238.6 136.3,238.6 136.9,238.5 137.6,238.5 138.2,238.5 138.9,238.5 139.6,238.5 140.2,238.5 140.9,238.5 141.6,238.5 142.2,238.6 142.9,238.6 143.5,238.6 144.2,238.6 144.9,238.6 145.5,238.6 146.2,238.6 146.8,238.6 147.5,238.7 148.2,238.7 148.8,238.7 149.5,238.7 150.2,238.7 150.8,238.7 151.5,238.7 152.1,238.7 152.8,238.7 153.5,238.8 154.1,238.8 154.8,238.8 155.5,238.8 156.1,238.8 156.8,238.8 157.4,238.8 158.1,238.8 158.8,238.8 159.4,238.8 160.1,238.8 160.7,238.8 161.4,238.8 162.1,238.8 162.7,238.9 163.4,238.9 164.1,238.9 164.7,238.9 165.4,238.9 166.0,238.9 166.7,238.9 167.4,238.9 168.0,238.9 168.7,238.9 169.3,238.9 170.0,239.0 170.7,239.0 171.3,239.0 172.0,239.0 172.7,239.0 173.3,239.0 174.0,239.0 174.6,239.0 175.3,239.0 176.0,239.0 176.6,239.0 177.3,239.1 177.9,239.1 178.6,239.1 179.3,239.1 179.9,239.1 180.6,239.1 181.3,239.1 181.9,239.1 182.6,239.1 183.2,239.1 183.9,239.1 184.6,239.2 185.2,239.2 185.9,239.2 186.5,239.2 187.2,239.2 187.9,239.2 188.5,239.2 189.2,239.2 189.9,239.2 190.5,239.2 191.2,239.2 191.8,239.2 192.5,239.2 193.2,239.2 193.8,239.2 194.5,239.2 195.2,239.2 195.8,239.3 196.5,239.3 197.1,239.3 197.8,239.3 198.5,239.3 199.1,239.3 199.8,239.3 200.4,239.3 201.1,239.3 201.8,239.3 202.4,239.3 203.1,239.3 203.8,239.3 204.4,239.3 205.1,239.3 205.7,239.3 206.4,239.3 207.1,239.3 207.7,239.3 208.4,239.3 209.0,239.3 209.7,239.3 210.4,239.4 211.0,239.4 211.7,239.4 212.4,239.4 213.0,239.4 213.7,239.4 214.3,239.4 215.0,239.4 215.7,239.4 216.3,239.4 217.0,239.4 217.6,239.4 218.3,239.4 219.0,239.4 219.6,239.4 220.3,239.4 221.0,239.4 221.6,239.4 222.3,239.4 222.9,239.4 223.6,239.4 224.3,239.4 224.9,239.4 225.6,239.4 226.2,239.4 226.9,239.4 227.6,239.4 228.2,239.4 228.9,239.4 229.6,239.4 230.2,239.4 230.9,239.4 231.5,239.4 232.2,239.4 232.9,239.4 233.5,239.4 234.2,239.4 234.9,239.4 235.5,239.4 236.2,239.4 236.8,239.4 237.5,239.4 238.2,239.3 238.8,239.3 239.5,239.3 240.1,239.3 240.8,239.3 241.5,239.3 242.1,239.3 242.8,239.3 243.5,239.3 243.5,244.8 242.8,244.8 242.1,244.7 241.5,244.7 240.8,244.7 240.1,244.6 239.5,244.6 238.8,244.5 238.2,244.5 237.5,244.5 236.8,244.4 236.2,244.4 235.5,244.3 234.9,244.3 234.2,244.3 233.5,244.2 232.9,244.2 232.2,244.2 231.5,244.1 230.9,244.1 230.2,244.0 229.6,244.0 228.9,244.0 228.2,243.9 227.6,243.9 226.9,243.9 226.2,243.8 225.6,243.8 224.9,243.8 224.3,243.7 223.6,243.7 222.9,243.7 222.3,243.6 221.6,243.6 221.0,243.6 220.3,243.5 219.6,243.5 219.0,243.5 218.3,243.5 217.6,243.4 217.0,243.4 216.3,243.4 215.7,243.3 215.0,243.3 214.3,243.3 213.7,243.3 213.0,243.2 212.4,243.2 211.7,243.2 211.0,243.2 210.4,243.1 209.7,243.1 209.0,243.1 208.4,243.1 207.7,243.0 207.1,243.0 206.4,243.0 205.7,243.0 205.1,243.0 204.4,242.9 203.8,242.9 203.1,242.9 202.4,242.9 201.8,242.8 201.1,242.8 200.4,242.8 199.8,242.8 199.1,242.8 198.5,242.7 197.8,242.7 197.1,242.7 196.5,242.7 195.8,242.7 195.2,242.6 194.5,242.6 193.8,242.6 193.2,242.6 192.5,242.6 191.8,242.6 191.2,242.5 190.5,242.5 189.9,242.5 189.2,242.5 188.5,242.5 187.9,242.5 187.2,242.4 186.5,242.4 185.9,242.4 185.2,242.4 184.6,242.4 183.9,242.4 183.2,242.4 182.6,242.3 181.9,242.3 181.3,242.3 180.6,242.3 179.9,242.3 179.3,242.3 178.6,242.3 177.9,242.3 177.3,242.3 176.6,242.3 176.0,242.2 175.3,242.2 174.6,242.2 174.0,242.2 173.3,242.2 172.7,242.2 172.0,242.2 171.3,242.2 170.7,242.2 170.0,242.2 169.3,242.2 168.7,242.1 168.0,242.1 167.4,242.1 166.7,242.1 166.0,242.1 165.4,242.1 164.7,242.1 164.1,242.1 163.4,242.1 162.7,242.1 162.1,242.1 161.4,242.1 160.7,242.0 160.1,242.0 159.4,242.0 158.8,242.0 158.1,242.0 157.4,242.0 156.8,242.0 156.1,242.0 155.5,242.0 154.8,242.0 154.1,242.0 153.5,242.0 152.8,242.0 152.1,241.9 151.5,241.9 150.8,241.9 150.2,241.9 149.5,241.9 148.8,241.9 148.2,241.9 147.5,241.9 146.8,241.9 146.2,241.9 145.5,241.9 144.9,241.9 144.2,241.9 143.5,241.9 142.9,241.9 142.2,241.9 141.6,241.9 140.9,242.0 140.2,242.0 139.6,242.0 138.9,242.0 138.2,242.0 137.6,242.1 136.9,242.1 136.3,242.1 135.6,242.2 134.9,242.2 134.3,242.3 133.6,242.3 133.0,242.3 132.3,242.4 131.6,242.4 131.0,242.5 130.3,242.6 129.6,242.6 129.0,242.7 128.3,242.7 127.7,242.8 127.0,242.9 126.3,243.0 125.7,243.0 125.0,243.1 124.4,243.2 123.7,243.3 123.0,243.4 122.4,243.5 121.7,243.7 121.0,243.8 120.4,244.0 119.7,244.3 119.1,244.5 118.4,244.8 117.7,245.0 117.1,245.3 116.4,245.5 115.8,245.8 115.1,246.0 114.4,246.3 113.8,246.6 113.1,246.8 112.4,247.0 111.8,247.2 111.1,247.3 110.5,247.5 109.8,247.6 109.1,247.7 108.5,247.8 107.8,247.9 107.2,247.9 106.5,248.0 105.8,248.0 105.2,248.0 104.5,248.0 103.8,248.0 103.2,247.9 102.5,247.8 101.9,247.7 101.2,247.6 100.5,247.5 99.9,247.4 99.2,247.2 98.5,247.1 97.9,246.9 97.2,246.8 96.6,246.6 95.9,246.5 95.2,246.4 94.6,246.3 93.9,246.3 93.3,246.2 92.6,246.1 91.9,246.0 91.3,246.0 90.6,245.9 89.9,245.9 89.3,245.9 88.6,245.9 88.0,246.0 87.3,246.1 86.6,246.3 86.0,246.6 85.3,246.8 84.7,247.1 84.0,247.3 83.3,247.7 82.7,248.1 82.0,248.5 81.3,249.0 80.7,249.6 80.0,250.1 79.4,250.7 78.7,251.3 78.0,251.8 77.4,252.4 76.7,253.0 76.1,253.6 75.4,254.2 74.7,254.8 74.1,255.5 73.4,256.1 72.7,256.8 72.1,257.4 71.4,258.1 70.8,258.8 70.1,259.4 69.4,260.1 68.8,260.7 68.1,261.4 67.5,262.0 66.8,262.7 66.1,263.3 65.5,264.0 64.8,264.7 64.1,265.4 63.5,266.1 62.8,266.8 62.2,267.5 61.5,268.3 60.8,269.1 60.2,269.9 59.5,270.7 58.8,271.6 58.2,272.4 57.5,273.3 56.9,274.3 56.2,275.2 55.5,276.1 54.9,277.1 54.2,278.1 53.6,279.1 52.9,280.1 52.2,281.1 51.6,282.2" fill="#e6dcef"/>
<polyline points="51.6,270.1 52.2,269.2 52.9,268.5 53.6,267.7 54.2,266.9 54.9,266.2 55.5,265.4 56.2,264.7 56.9,264.0 57.5,263.3 58.2,262.6 58.8,261.9 59.5,261.3 60.2,260.6 60.8,260.0 61.5,259.4 62.2,258.8 62.8,258.2 63.5,257.7 64.1,257.1 64.8,256.6 65.5,256.0 66.1,255.5 66.8,255.0 67.5,254.5 68.1,254.0 68.8,253.5 69.4,253.0 70.1,252.4 70.8,251.9 71.4,251.4 72.1,250.8 72.7,250.3 73.4,249.7 74.1,249.2 74.7,248.7 75.4,248.2 76.1,247.7 76.7,247.2 77.4,246.7 78.0,246.2 78.7,245.8 79.4,245.3 80.0,244.8 80.7,244.4 81.3,243.9 82.0,243.5 82.7,243.1 83.3,242.8 84.0,242.5 84.7,242.3 85.3,242.1 86.0,241.9 86.6,241.7 87.3,241.5 88.0,241.4 88.6,241.3 89.3,241.3 89.9,241.3 90.6,241.3 91.3,241.4 91.9,241.4 92.6,241.5 93.3,241.6 93.9,241.7 94.6,241.8 95.2,241.8 95.9,241.9 96.6,242.0 97.2,242.1 97.9,242.3 98.5,242.4 99.2,242.5 99.9,242.6 100.5,242.6 101.2,242.7 101.9,242.8 102.5,242.9 103.2,242.9 103.8,243.0 104.5,243.0 105.2,243.0 105.8,243.0 106.5,242.9 107.2,242.9 107.8,242.8 108.5,242.7 109.1,242.6 109.8,242.5 110.5,242.4 111.1,242.3 111.8,242.2 112.4,242.0 113.1,241.9 113.8,241.7 114.4,241.5 115.1,241.3 115.8,241.1 116.4,240.9 117.1,240.7 117.7,240.6 118.4,240.4 119.1,240.2 119.7,240.0 120.4,239.8 121.0,239.7 121.7,239.6 122.4,239.5 123.0,239.4 123.7,239.3 124.4,239.2 125.0,239.1 125.7,239.1 126.3,239.0 127.0,239.0 127.7,238.9 128.3,238.9 129.0,238.8 129.6,238.8 130.3,238.8 131.0,238.7 131.6,238.7 132.3,238.7 133.0,238.7 133.6,238.6 134.3,238.6 134.9,238.6 135.6,238.6 136.3,238.6 136.9,238.5 137.6,238.5 138.2,238.5 138.9,238.5 139.6,238.5 140.2,238.5 140.9,238.5 141.6,238.5 142.2,238.6 142.9,238.6 143.5,238.6 144.2,238.6 144.9,238.6 145.5,238.6 146.2,238.6 146.8,238.6 147.5,238.7 148.2,238.7 148.8,238.7 149.5,238.7 150.2,238.7 150.8,238.7 151.5,238.7 152.1,238.7 152.8,238.7 153.5,238.8 154.1,238.8 154.8,238.8 155.5,238.8 156.1,238.8 156.8,238.8 157.4,238.8 158.1,238.8 158.8,238.8 159.4,238.8 160.1,238.8 160.7,238.8 161.4,238.8 162.1,238.8 162.7,238.9 163.4,238.9 164.1,238.9 164.7,238.9 165.4,238.9 166.0,238.9 166.7,238.9 167.4,238.9 168.0,238.9 168.7,238.9 169.3,238.9 170.0,239.0 170.7,239.0 171.3,239.0 172.0,239.0 172.7,239.0 173.3,239.0 174.0,239.0 174.6,239.0 175.3,239.0 176.0,239.0 176.6,239.0 177.3,239.1 177.9,239.1 178.6,239.1 179.3,239.1 179.9,239.1 180.6,239.1 181.3,239.1 181.9,239.1 182.6,239.1 183.2,239.1 183.9,239.1 184.6,239.2 185.2,239.2 185.9,239.2 186.5,239.2 187.2,239.2 187.9,239.2 188.5,239.2 189.2,239.2 189.9,239.2 190.5,239.2 191.2,239.2 191.8,239.2 192.5,239.2 193.2,239.2 193.8,239.2 194.5,239.2 195.2,239.2 195.8,239.3 196.5,239.3 197.1,239.3 197.8,239.3 198.5,239.3 199.1,239.3 199.8,239.3 200.4,239.3 201.1,239.3 201.8,239.3 202.4,239.3 203.1,239.3 203.8,239.3 204.4,239.3 205.1,239.3 205.7,239.3 206.4,239.3 207.1,239.3 207.7,239.3 208.4,239.3 209.0,239.3 209.7,239.3 210.4,239.4 211.0,239.4 211.7,239.4 212.4,239.4 213.0,239.4 213.7,239.4 214.3,239.4 215.0,239.4 215.7,239.4 216.3,239.4 217.0,239.4 217.6,239.4 218.3,239.4 219.0,239.4 219.6,239.4 220.3,239.4 221.0,239.4 221.6,239.4 222.3,239.4 222.9,239.4 223.6,239.4 224.3,239.4 224.9,239.4 225.6,239.4 226.2,239.4 226.9,239.4 227.6,239.4 228.2,239.4 228.9,239.4 229.6,239.4 230.2,239.4 230.9,239.4 231.5,239.4 232.2,239.4 232.9,239.4 233.5,239.4 234.2,239.4 234.9,239.4 235.5,239.4 236.2,239.4 236.8,239.4 237.5,239.4 238.2,239.3 238.8,239.3 239.5,239.3 240.1,239.3 240.8,239.3 241.5,239.3 242.1,239.3 242.8,239.3 243.5,239.3" fill="none" stroke="#665c70" stroke-width="1.05" stroke-dasharray="2.7 2.2"/>
<polyline points="51.6,282.2 52.2,281.1 52.9,280.1 53.6,279.1 54.2,278.1 54.9,277.1 55.5,276.1 56.2,275.2 56.9,274.3 57.5,273.3 58.2,272.4 58.8,271.6 59.5,270.7 60.2,269.9 60.8,269.1 61.5,268.3 62.2,267.5 62.8,266.8 63.5,266.1 64.1,265.4 64.8,264.7 65.5,264.0 66.1,263.3 66.8,262.7 67.5,262.0 68.1,261.4 68.8,260.7 69.4,260.1 70.1,259.4 70.8,258.8 71.4,258.1 72.1,257.4 72.7,256.8 73.4,256.1 74.1,255.5 74.7,254.8 75.4,254.2 76.1,253.6 76.7,253.0 77.4,252.4 78.0,251.8 78.7,251.3 79.4,250.7 80.0,250.1 80.7,249.6 81.3,249.0 82.0,248.5 82.7,248.1 83.3,247.7 84.0,247.3 84.7,247.1 85.3,246.8 86.0,246.6 86.6,246.3 87.3,246.1 88.0,246.0 88.6,245.9 89.3,245.9 89.9,245.9 90.6,245.9 91.3,246.0 91.9,246.0 92.6,246.1 93.3,246.2 93.9,246.3 94.6,246.3 95.2,246.4 95.9,246.5 96.6,246.6 97.2,246.8 97.9,246.9 98.5,247.1 99.2,247.2 99.9,247.4 100.5,247.5 101.2,247.6 101.9,247.7 102.5,247.8 103.2,247.9 103.8,248.0 104.5,248.0 105.2,248.0 105.8,248.0 106.5,248.0 107.2,247.9 107.8,247.9 108.5,247.8 109.1,247.7 109.8,247.6 110.5,247.5 111.1,247.3 111.8,247.2 112.4,247.0 113.1,246.8 113.8,246.6 114.4,246.3 115.1,246.0 115.8,245.8 116.4,245.5 117.1,245.3 117.7,245.0 118.4,244.8 119.1,244.5 119.7,244.3 120.4,244.0 121.0,243.8 121.7,243.7 122.4,243.5 123.0,243.4 123.7,243.3 124.4,243.2 125.0,243.1 125.7,243.0 126.3,243.0 127.0,242.9 127.7,242.8 128.3,242.7 129.0,242.7 129.6,242.6 130.3,242.6 131.0,242.5 131.6,242.4 132.3,242.4 133.0,242.3 133.6,242.3 134.3,242.3 134.9,242.2 135.6,242.2 136.3,242.1 136.9,242.1 137.6,242.1 138.2,242.0 138.9,242.0 139.6,242.0 140.2,242.0 140.9,242.0 141.6,241.9 142.2,241.9 142.9,241.9 143.5,241.9 144.2,241.9 144.9,241.9 145.5,241.9 146.2,241.9 146.8,241.9 147.5,241.9 148.2,241.9 148.8,241.9 149.5,241.9 150.2,241.9 150.8,241.9 151.5,241.9 152.1,241.9 152.8,242.0 153.5,242.0 154.1,242.0 154.8,242.0 155.5,242.0 156.1,242.0 156.8,242.0 157.4,242.0 158.1,242.0 158.8,242.0 159.4,242.0 160.1,242.0 160.7,242.0 161.4,242.1 162.1,242.1 162.7,242.1 163.4,242.1 164.1,242.1 164.7,242.1 165.4,242.1 166.0,242.1 166.7,242.1 167.4,242.1 168.0,242.1 168.7,242.1 169.3,242.2 170.0,242.2 170.7,242.2 171.3,242.2 172.0,242.2 172.7,242.2 173.3,242.2 174.0,242.2 174.6,242.2 175.3,242.2 176.0,242.2 176.6,242.3 177.3,242.3 177.9,242.3 178.6,242.3 179.3,242.3 179.9,242.3 180.6,242.3 181.3,242.3 181.9,242.3 182.6,242.3 183.2,242.4 183.9,242.4 184.6,242.4 185.2,242.4 185.9,242.4 186.5,242.4 187.2,242.4 187.9,242.5 188.5,242.5 189.2,242.5 189.9,242.5 190.5,242.5 191.2,242.5 191.8,242.6 192.5,242.6 193.2,242.6 193.8,242.6 194.5,242.6 195.2,242.6 195.8,242.7 196.5,242.7 197.1,242.7 197.8,242.7 198.5,242.7 199.1,242.8 199.8,242.8 200.4,242.8 201.1,242.8 201.8,242.8 202.4,242.9 203.1,242.9 203.8,242.9 204.4,242.9 205.1,243.0 205.7,243.0 206.4,243.0 207.1,243.0 207.7,243.0 208.4,243.1 209.0,243.1 209.7,243.1 210.4,243.1 211.0,243.2 211.7,243.2 212.4,243.2 213.0,243.2 213.7,243.3 214.3,243.3 215.0,243.3 215.7,243.3 216.3,243.4 217.0,243.4 217.6,243.4 218.3,243.5 219.0,243.5 219.6,243.5 220.3,243.5 221.0,243.6 221.6,243.6 222.3,243.6 222.9,243.7 223.6,243.7 224.3,243.7 224.9,243.8 225.6,243.8 226.2,243.8 226.9,243.9 227.6,243.9 228.2,243.9 228.9,244.0 229.6,244.0 230.2,244.0 230.9,244.1 231.5,244.1 232.2,244.2 232.9,244.2 233.5,244.2 234.2,244.3 234.9,244.3 235.5,244.3 236.2,244.4 236.8,244.4 237.5,244.5 238.2,244.5 238.8,244.5 239.5,244.6 240.1,244.6 240.8,244.7 241.5,244.7 242.1,244.7 242.8,244.8 243.5,244.8" fill="none" stroke="#665c70" stroke-width="1.05" stroke-dasharray="2.7 2.2"/>
<polyline points="51.6,275.3 52.2,274.4 52.9,273.6 53.6,272.7 54.2,271.8 54.9,271.0 55.5,270.2 56.2,269.4 56.9,268.6 57.5,267.8 58.2,267.1 58.8,266.3 59.5,265.6 60.2,264.9 60.8,264.2 61.5,263.5 62.2,262.8 62.8,262.2 63.5,261.6 64.1,261.0 64.8,260.4 65.5,259.8 66.1,259.2 66.8,258.7 67.5,258.1 68.1,257.6 68.8,257.0 69.4,256.4 70.1,255.8 70.8,255.2 71.4,254.6 72.1,254.0 72.7,253.4 73.4,252.8 74.1,252.3 74.7,251.7 75.4,251.1 76.1,250.5 76.7,250.0 77.4,249.5 78.0,249.0 78.7,248.5 79.4,248.0 80.0,247.4 80.7,246.9 81.3,246.4 82.0,246.0 82.7,245.6 83.3,245.2 84.0,244.9 84.7,244.7 85.3,244.4 86.0,244.2 86.6,244.0 87.3,243.8 88.0,243.7 88.6,243.6 89.3,243.6 89.9,243.6 90.6,243.6 91.3,243.7 91.9,243.7 92.6,243.8 93.3,243.9 93.9,244.0 94.6,244.1 95.2,244.1 95.9,244.2 96.6,244.3 97.2,244.5 97.9,244.6 98.5,244.7 99.2,244.9 99.9,245.0 100.5,245.1 101.2,245.1 101.9,245.2 102.5,245.3 103.2,245.4 103.8,245.5 104.5,245.5 105.2,245.5 105.8,245.5 106.5,245.5 107.2,245.4 107.8,245.3 108.5,245.3 109.1,245.2 109.8,245.0 110.5,244.9 111.1,244.8 111.8,244.7 112.4,244.5 113.1,244.3 113.8,244.1 114.4,243.9 115.1,243.7 115.8,243.4 116.4,243.2 117.1,243.0 117.7,242.8 118.4,242.6 119.1,242.3 119.7,242.1 120.4,241.9 121.0,241.8 121.7,241.6 122.4,241.5 123.0,241.4 123.7,241.3 124.4,241.2 125.0,241.1 125.7,241.1 126.3,241.0 127.0,240.9 127.7,240.9 128.3,240.8 129.0,240.8 129.6,240.7 130.3,240.7 131.0,240.6 131.6,240.6 132.3,240.5 133.0,240.5 133.6,240.5 134.3,240.4 134.9,240.4 135.6,240.4 136.3,240.3 136.9,240.3 137.6,240.3 138.2,240.3 138.9,240.3 139.6,240.2 140.2,240.2 140.9,240.2 141.6,240.2 142.2,240.2 142.9,240.2 143.5,240.3 144.2,240.3 144.9,240.3 145.5,240.3 146.2,240.3 146.8,240.3 147.5,240.3 148.2,240.3 148.8,240.3 149.5,240.3 150.2,240.3 150.8,240.3 151.5,240.3 152.1,240.3 152.8,240.3 153.5,240.4 154.1,240.4 154.8,240.4 155.5,240.4 156.1,240.4 156.8,240.4 157.4,240.4 158.1,240.4 158.8,240.4 159.4,240.4 160.1,240.4 160.7,240.4 161.4,240.4 162.1,240.5 162.7,240.5 163.4,240.5 164.1,240.5 164.7,240.5 165.4,240.5 166.0,240.5 166.7,240.5 167.4,240.5 168.0,240.5 168.7,240.5 169.3,240.5 170.0,240.6 170.7,240.6 171.3,240.6 172.0,240.6 172.7,240.6 173.3,240.6 174.0,240.6 174.6,240.6 175.3,240.6 176.0,240.6 176.6,240.7 177.3,240.7 177.9,240.7 178.6,240.7 179.3,240.7 179.9,240.7 180.6,240.7 181.3,240.7 181.9,240.7 182.6,240.7 183.2,240.8 183.9,240.8 184.6,240.8 185.2,240.8 185.9,240.8 186.5,240.8 187.2,240.8 187.9,240.8 188.5,240.8 189.2,240.8 189.9,240.9 190.5,240.9 191.2,240.9 191.8,240.9 192.5,240.9 193.2,240.9 193.8,240.9 194.5,240.9 195.2,240.9 195.8,241.0 196.5,241.0 197.1,241.0 197.8,241.0 198.5,241.0 199.1,241.0 199.8,241.0 200.4,241.0 201.1,241.1 201.8,241.1 202.4,241.1 203.1,241.1 203.8,241.1 204.4,241.1 205.1,241.1 205.7,241.1 206.4,241.2 207.1,241.2 207.7,241.2 208.4,241.2 209.0,241.2 209.7,241.2 210.4,241.2 211.0,241.3 211.7,241.3 212.4,241.3 213.0,241.3 213.7,241.3 214.3,241.3 215.0,241.3 215.7,241.4 216.3,241.4 217.0,241.4 217.6,241.4 218.3,241.4 219.0,241.4 219.6,241.4 220.3,241.5 221.0,241.5 221.6,241.5 222.3,241.5 222.9,241.5 223.6,241.5 224.3,241.6 224.9,241.6 225.6,241.6 226.2,241.6 226.9,241.6 227.6,241.6 228.2,241.7 228.9,241.7 229.6,241.7 230.2,241.7 230.9,241.7 231.5,241.7 232.2,241.8 232.9,241.8 233.5,241.8 234.2,241.8 234.9,241.8 235.5,241.9 236.2,241.9 236.8,241.9 237.5,241.9 238.2,241.9 238.8,241.9 239.5,242.0 240.1,242.0 240.8,242.0 241.5,242.0 242.1,242.0 242.8,242.1 243.5,242.1" fill="none" stroke="#5c4870" stroke-width="1.2"/>
<polygon points="309.0,206.1 309.6,208.5 310.3,210.9 311.0,213.1 311.6,215.4 312.3,217.5 312.9,219.6 313.6,221.7 314.3,223.7 314.9,225.6 315.6,227.6 316.3,229.5 316.9,231.5 317.6,233.3 318.3,235.1 318.9,236.9 319.6,238.5 320.2,240.2 320.9,241.8 321.6,243.4 322.2,245.0 322.9,246.5 323.6,248.1 324.2,249.6 324.9,251.1 325.5,252.6 326.2,254.1 326.9,255.5 327.5,256.8 328.2,258.2 328.9,259.5 329.5,260.9 330.2,262.2 330.8,263.5 331.5,264.8 332.2,266.1 332.8,267.3 333.5,268.4 334.2,269.5 334.8,270.6 335.5,271.5 336.1,272.5 336.8,273.4 337.5,274.3 338.1,275.2 338.8,276.1 339.5,277.0 340.1,277.8 340.8,278.6 341.4,279.3 342.1,279.9 342.8,280.4 343.4,281.0 344.1,281.4 344.8,281.6 345.4,281.7 346.1,281.6 346.7,281.5 347.4,281.4 348.1,281.2 348.7,281.0 349.4,280.7 350.1,280.2 350.7,279.7 351.4,279.1 352.0,278.5 352.7,278.0 353.4,277.4 354.0,276.9 354.7,276.5 355.4,276.0 356.0,275.5 356.7,275.0 357.3,274.5 358.0,274.0 358.7,273.6 359.3,273.2 360.0,272.8 360.7,272.5 361.3,272.2 362.0,271.8 362.6,271.5 363.3,271.2 364.0,270.9 364.6,270.7 365.3,270.7 366.0,270.7 366.6,270.7 367.3,270.9 368.0,271.1 368.6,271.3 369.3,271.5 369.9,271.7 370.6,272.0 371.3,272.4 371.9,272.8 372.6,273.2 373.3,273.6 373.9,273.9 374.6,274.3 375.2,274.7 375.9,275.0 376.6,275.4 377.2,275.8 377.9,276.1 378.6,276.5 379.2,276.8 379.9,277.2 380.5,277.6 381.2,277.9 381.9,278.3 382.5,278.5 383.2,278.7 383.9,278.9 384.5,279.0 385.2,279.2 385.8,279.3 386.5,279.5 387.2,279.6 387.8,279.7 388.5,279.8 389.2,279.9 389.8,280.0 390.5,280.0 391.1,280.1 391.8,280.2 392.5,280.2 393.1,280.3 393.8,280.4 394.5,280.4 395.1,280.5 395.8,280.5 396.4,280.6 397.1,280.6 397.8,280.7 398.4,280.7 399.1,280.7 399.8,280.7 400.4,280.8 401.1,280.8 401.7,280.8 402.4,280.8 403.1,280.8 403.7,280.8 404.4,280.8 405.1,280.8 405.7,280.8 406.4,280.9 407.0,280.9 407.7,280.9 408.4,280.9 409.0,280.9 409.7,280.9 410.4,280.9 411.0,280.9 411.7,280.9 412.3,280.9 413.0,280.9 413.7,281.0 414.3,281.0 415.0,281.0 415.7,281.0 416.3,281.0 417.0,281.0 417.7,281.0 418.3,281.0 419.0,281.1 419.6,281.1 420.3,281.1 421.0,281.1 421.6,281.1 422.3,281.1 423.0,281.1 423.6,281.1 424.3,281.1 424.9,281.2 425.6,281.2 426.3,281.2 426.9,281.2 427.6,281.2 428.3,281.2 428.9,281.2 429.6,281.2 430.2,281.2 430.9,281.2 431.6,281.2 432.2,281.2 432.9,281.2 433.6,281.1 434.2,281.1 434.9,281.1 435.5,281.1 436.2,281.1 436.9,281.1 437.5,281.0 438.2,281.0 438.9,281.0 439.5,281.0 440.2,280.9 440.8,280.9 441.5,280.9 442.2,280.9 442.8,280.8 443.5,280.8 444.2,280.8 444.8,280.7 445.5,280.7 446.1,280.7 446.8,280.6 447.5,280.6 448.1,280.5 448.8,280.5 449.5,280.5 450.1,280.4 450.8,280.4 451.4,280.3 452.1,280.3 452.8,280.3 453.4,280.2 454.1,280.2 454.8,280.1 455.4,280.1 456.1,280.1 456.7,280.0 457.4,280.0 458.1,279.9 458.7,279.9 459.4,279.9 460.1,279.8 460.7,279.8 461.4,279.7 462.0,279.7 462.7,279.7 463.4,279.6 464.0,279.6 464.7,279.5 465.4,279.5 466.0,279.5 466.7,279.4 467.4,279.4 468.0,279.3 468.7,279.3 469.3,279.3 470.0,279.2 470.7,279.2 471.3,279.1 472.0,279.1 472.7,279.0 473.3,279.0 474.0,278.9 474.6,278.9 475.3,278.9 476.0,278.8 476.6,278.8 477.3,278.7 478.0,278.7 478.6,278.6 479.3,278.6 479.9,278.5 480.6,278.5 481.3,278.4 481.9,278.4 482.6,278.3 483.3,278.3 483.9,278.2 484.6,278.1 485.2,278.1 485.9,278.0 486.6,278.0 487.2,277.9 487.9,277.9 488.6,277.8 489.2,277.8 489.9,277.7 490.5,277.7 491.2,277.6 491.9,277.5 492.5,277.5 493.2,277.4 493.9,277.4 494.5,277.3 495.2,277.3 495.8,277.2 496.5,277.1 497.2,277.1 497.8,277.0 498.5,277.0 499.2,276.9 499.8,276.9 500.5,276.8 500.5,285.6 499.8,285.5 499.2,285.5 498.5,285.5 497.8,285.4 497.2,285.4 496.5,285.4 495.8,285.4 495.2,285.3 494.5,285.3 493.9,285.3 493.2,285.3 492.5,285.2 491.9,285.2 491.2,285.2 490.5,285.2 489.9,285.1 489.2,285.1 488.6,285.1 487.9,285.1 487.2,285.0 486.6,285.0 485.9,285.0 485.2,285.0 484.6,285.0 483.9,284.9 483.3,284.9 482.6,284.9 481.9,284.9 481.3,284.9 480.6,284.9 479.9,284.8 479.3,284.8 478.6,284.8 478.0,284.8 477.3,284.8 476.6,284.8 476.0,284.7 475.3,284.7 474.6,284.7 474.0,284.7 473.3,284.7 472.7,284.7 472.0,284.7 471.3,284.7 470.7,284.7 470.0,284.6 469.3,284.6 468.7,284.6 468.0,284.6 467.4,284.6 466.7,284.6 466.0,284.6 465.4,284.6 464.7,284.6 464.0,284.6 463.4,284.6 462.7,284.6 462.0,284.6 461.4,284.6 460.7,284.6 460.1,284.6 459.4,284.5 458.7,284.5 458.1,284.5 457.4,284.5 456.7,284.5 456.1,284.5 455.4,284.5 454.8,284.5 454.1,284.5 453.4,284.5 452.8,284.5 452.1,284.5 451.4,284.5 450.8,284.5 450.1,284.5 449.5,284.5 448.8,284.5 448.1,284.5 447.5,284.6 446.8,284.6 446.1,284.6 445.5,284.6 444.8,284.6 444.2,284.6 443.5,284.6 442.8,284.6 442.2,284.6 441.5,284.6 440.8,284.6 440.2,284.6 439.5,284.6 438.9,284.6 438.2,284.7 437.5,284.7 436.9,284.7 436.2,284.7 435.5,284.7 434.9,284.7 434.2,284.7 433.6,284.7 432.9,284.8 432.2,284.8 431.6,284.8 430.9,284.8 430.2,284.8 429.6,284.9 428.9,284.9 428.3,284.9 427.6,284.9 426.9,284.9 426.3,285.0 425.6,285.0 424.9,285.0 424.3,285.0 423.6,285.1 423.0,285.1 422.3,285.1 421.6,285.1 421.0,285.2 420.3,285.2 419.6,285.2 419.0,285.2 418.3,285.3 417.7,285.3 417.0,285.3 416.3,285.3 415.7,285.3 415.0,285.4 414.3,285.4 413.7,285.4 413.0,285.4 412.3,285.4 411.7,285.5 411.0,285.5 410.4,285.5 409.7,285.5 409.0,285.5 408.4,285.5 407.7,285.6 407.0,285.6 406.4,285.6 405.7,285.6 405.1,285.6 404.4,285.6 403.7,285.6 403.1,285.7 402.4,285.7 401.7,285.7 401.1,285.7 400.4,285.7 399.8,285.7 399.1,285.7 398.4,285.7 397.8,285.7 397.1,285.7 396.4,285.7 395.8,285.7 395.1,285.7 394.5,285.7 393.8,285.7 393.1,285.7 392.5,285.7 391.8,285.7 391.1,285.7 390.5,285.6 389.8,285.6 389.2,285.6 388.5,285.5 387.8,285.5 387.2,285.4 386.5,285.4 385.8,285.3 385.2,285.2 384.5,285.1 383.9,285.0 383.2,284.9 382.5,284.8 381.9,284.7 381.2,284.5 380.5,284.3 379.9,284.0 379.2,283.8 378.6,283.6 377.9,283.3 377.2,283.1 376.6,282.8 375.9,282.6 375.2,282.3 374.6,282.0 373.9,281.7 373.3,281.5 372.6,281.2 371.9,280.9 371.3,280.6 370.6,280.3 369.9,280.1 369.3,279.9 368.6,279.8 368.0,279.6 367.3,279.5 366.6,279.4 366.0,279.3 365.3,279.3 364.6,279.4 364.0,279.5 363.3,279.7 362.6,279.9 362.0,280.1 361.3,280.4 360.7,280.7 360.0,280.9 359.3,281.2 358.7,281.5 358.0,281.9 357.3,282.3 356.7,282.7 356.0,283.1 355.4,283.5 354.7,283.9 354.0,284.3 353.4,284.7 352.7,285.2 352.0,285.7 351.4,286.2 350.7,286.7 350.1,287.2 349.4,287.6 348.7,287.9 348.1,288.1 347.4,288.2 346.7,288.4 346.1,288.5 345.4,288.5 344.8,288.5 344.1,288.3 343.4,287.9 342.8,287.4 342.1,286.9 341.4,286.4 340.8,285.8 340.1,285.3 339.5,284.7 338.8,284.1 338.1,283.4 337.5,282.8 336.8,282.1 336.1,281.3 335.5,280.5 334.8,279.7 334.2,278.8 333.5,277.9 332.8,277.0 332.2,275.9 331.5,274.8 330.8,273.7 330.2,272.6 329.5,271.5 328.9,270.4 328.2,269.3 327.5,268.1 326.9,267.0 326.2,265.8 325.5,264.6 324.9,263.3 324.2,262.1 323.6,260.8 322.9,259.5 322.2,258.2 321.6,256.9 320.9,255.5 320.2,254.1 319.6,252.7 318.9,251.3 318.3,249.9 317.6,248.4 316.9,246.9 316.3,245.4 315.6,243.8 314.9,242.2 314.3,240.5 313.6,238.8 312.9,237.0 312.3,235.3 311.6,233.5 311.0,231.6 310.3,229.8 309.6,227.9 309.0,226.0" fill="#f7bad6"/>
<polyline points="309.0,206.1 309.6,208.5 310.3,210.9 311.0,213.1 311.6,215.4 312.3,217.5 312.9,219.6 313.6,221.7 314.3,223.7 314.9,225.6 315.6,227.6 316.3,229.5 316.9,231.5 317.6,233.3 318.3,235.1 318.9,236.9 319.6,238.5 320.2,240.2 320.9,241.8 321.6,243.4 322.2,245.0 322.9,246.5 323.6,248.1 324.2,249.6 324.9,251.1 325.5,252.6 326.2,254.1 326.9,255.5 327.5,256.8 328.2,258.2 328.9,259.5 329.5,260.9 330.2,262.2 330.8,263.5 331.5,264.8 332.2,266.1 332.8,267.3 333.5,268.4 334.2,269.5 334.8,270.6 335.5,271.5 336.1,272.5 336.8,273.4 337.5,274.3 338.1,275.2 338.8,276.1 339.5,277.0 340.1,277.8 340.8,278.6 341.4,279.3 342.1,279.9 342.8,280.4 343.4,281.0 344.1,281.4 344.8,281.6 345.4,281.7 346.1,281.6 346.7,281.5 347.4,281.4 348.1,281.2 348.7,281.0 349.4,280.7 350.1,280.2 350.7,279.7 351.4,279.1 352.0,278.5 352.7,278.0 353.4,277.4 354.0,276.9 354.7,276.5 355.4,276.0 356.0,275.5 356.7,275.0 357.3,274.5 358.0,274.0 358.7,273.6 359.3,273.2 360.0,272.8 360.7,272.5 361.3,272.2 362.0,271.8 362.6,271.5 363.3,271.2 364.0,270.9 364.6,270.7 365.3,270.7 366.0,270.7 366.6,270.7 367.3,270.9 368.0,271.1 368.6,271.3 369.3,271.5 369.9,271.7 370.6,272.0 371.3,272.4 371.9,272.8 372.6,273.2 373.3,273.6 373.9,273.9 374.6,274.3 375.2,274.7 375.9,275.0 376.6,275.4 377.2,275.8 377.9,276.1 378.6,276.5 379.2,276.8 379.9,277.2 380.5,277.6 381.2,277.9 381.9,278.3 382.5,278.5 383.2,278.7 383.9,278.9 384.5,279.0 385.2,279.2 385.8,279.3 386.5,279.5 387.2,279.6 387.8,279.7 388.5,279.8 389.2,279.9 389.8,280.0 390.5,280.0 391.1,280.1 391.8,280.2 392.5,280.2 393.1,280.3 393.8,280.4 394.5,280.4 395.1,280.5 395.8,280.5 396.4,280.6 397.1,280.6 397.8,280.7 398.4,280.7 399.1,280.7 399.8,280.7 400.4,280.8 401.1,280.8 401.7,280.8 402.4,280.8 403.1,280.8 403.7,280.8 404.4,280.8 405.1,280.8 405.7,280.8 406.4,280.9 407.0,280.9 407.7,280.9 408.4,280.9 409.0,280.9 409.7,280.9 410.4,280.9 411.0,280.9 411.7,280.9 412.3,280.9 413.0,280.9 413.7,281.0 414.3,281.0 415.0,281.0 415.7,281.0 416.3,281.0 417.0,281.0 417.7,281.0 418.3,281.0 419.0,281.1 419.6,281.1 420.3,281.1 421.0,281.1 421.6,281.1 422.3,281.1 423.0,281.1 423.6,281.1 424.3,281.1 424.9,281.2 425.6,281.2 426.3,281.2 426.9,281.2 427.6,281.2 428.3,281.2 428.9,281.2 429.6,281.2 430.2,281.2 430.9,281.2 431.6,281.2 432.2,281.2 432.9,281.2 433.6,281.1 434.2,281.1 434.9,281.1 435.5,281.1 436.2,281.1 436.9,281.1 437.5,281.0 438.2,281.0 438.9,281.0 439.5,281.0 440.2,280.9 440.8,280.9 441.5,280.9 442.2,280.9 442.8,280.8 443.5,280.8 444.2,280.8 444.8,280.7 445.5,280.7 446.1,280.7 446.8,280.6 447.5,280.6 448.1,280.5 448.8,280.5 449.5,280.5 450.1,280.4 450.8,280.4 451.4,280.3 452.1,280.3 452.8,280.3 453.4,280.2 454.1,280.2 454.8,280.1 455.4,280.1 456.1,280.1 456.7,280.0 457.4,280.0 458.1,279.9 458.7,279.9 459.4,279.9 460.1,279.8 460.7,279.8 461.4,279.7 462.0,279.7 462.7,279.7 463.4,279.6 464.0,279.6 464.7,279.5 465.4,279.5 466.0,279.5 466.7,279.4 467.4,279.4 468.0,279.3 468.7,279.3 469.3,279.3 470.0,279.2 470.7,279.2 471.3,279.1 472.0,279.1 472.7,279.0 473.3,279.0 474.0,278.9 474.6,278.9 475.3,278.9 476.0,278.8 476.6,278.8 477.3,278.7 478.0,278.7 478.6,278.6 479.3,278.6 479.9,278.5 480.6,278.5 481.3,278.4 481.9,278.4 482.6,278.3 483.3,278.3 483.9,278.2 484.6,278.1 485.2,278.1 485.9,278.0 486.6,278.0 487.2,277.9 487.9,277.9 488.6,277.8 489.2,277.8 489.9,277.7 490.5,277.7 491.2,277.6 491.9,277.5 492.5,277.5 493.2,277.4 493.9,277.4 494.5,277.3 495.2,277.3 495.8,277.2 496.5,277.1 497.2,277.1 497.8,277.0 498.5,277.0 499.2,276.9 499.8,276.9 500.5,276.8" fill="none" stroke="#6f656c" stroke-width="1.05" stroke-dasharray="2.7 2.2"/>
<polyline points="309.0,226.0 309.6,227.9 310.3,229.8 311.0,231.6 311.6,233.5 312.3,235.3 312.9,237.0 313.6,238.8 314.3,240.5 314.9,242.2 315.6,243.8 316.3,245.4 316.9,246.9 317.6,248.4 318.3,249.9 318.9,251.3 319.6,252.7 320.2,254.1 320.9,255.5 321.6,256.9 322.2,258.2 322.9,259.5 323.6,260.8 324.2,262.1 324.9,263.3 325.5,264.6 326.2,265.8 326.9,267.0 327.5,268.1 328.2,269.3 328.9,270.4 329.5,271.5 330.2,272.6 330.8,273.7 331.5,274.8 332.2,275.9 332.8,277.0 333.5,277.9 334.2,278.8 334.8,279.7 335.5,280.5 336.1,281.3 336.8,282.1 337.5,282.8 338.1,283.4 338.8,284.1 339.5,284.7 340.1,285.3 340.8,285.8 341.4,286.4 342.1,286.9 342.8,287.4 343.4,287.9 344.1,288.3 344.8,288.5 345.4,288.5 346.1,288.5 346.7,288.4 347.4,288.2 348.1,288.1 348.7,287.9 349.4,287.6 350.1,287.2 350.7,286.7 351.4,286.2 352.0,285.7 352.7,285.2 353.4,284.7 354.0,284.3 354.7,283.9 355.4,283.5 356.0,283.1 356.7,282.7 357.3,282.3 358.0,281.9 358.7,281.5 359.3,281.2 360.0,280.9 360.7,280.7 361.3,280.4 362.0,280.1 362.6,279.9 363.3,279.7 364.0,279.5 364.6,279.4 365.3,279.3 366.0,279.3 366.6,279.4 367.3,279.5 368.0,279.6 368.6,279.8 369.3,279.9 369.9,280.1 370.6,280.3 371.3,280.6 371.9,280.9 372.6,281.2 373.3,281.5 373.9,281.7 374.6,282.0 375.2,282.3 375.9,282.6 376.6,282.8 377.2,283.1 377.9,283.3 378.6,283.6 379.2,283.8 379.9,284.0 380.5,284.3 381.2,284.5 381.9,284.7 382.5,284.8 383.2,284.9 383.9,285.0 384.5,285.1 385.2,285.2 385.8,285.3 386.5,285.4 387.2,285.4 387.8,285.5 388.5,285.5 389.2,285.6 389.8,285.6 390.5,285.6 391.1,285.7 391.8,285.7 392.5,285.7 393.1,285.7 393.8,285.7 394.5,285.7 395.1,285.7 395.8,285.7 396.4,285.7 397.1,285.7 397.8,285.7 398.4,285.7 399.1,285.7 399.8,285.7 400.4,285.7 401.1,285.7 401.7,285.7 402.4,285.7 403.1,285.7 403.7,285.6 404.4,285.6 405.1,285.6 405.7,285.6 406.4,285.6 407.0,285.6 407.7,285.6 408.4,285.5 409.0,285.5 409.7,285.5 410.4,285.5 411.0,285.5 411.7,285.5 412.3,285.4 413.0,285.4 413.7,285.4 414.3,285.4 415.0,285.4 415.7,285.3 416.3,285.3 417.0,285.3 417.7,285.3 418.3,285.3 419.0,285.2 419.6,285.2 420.3,285.2 421.0,285.2 421.6,285.1 422.3,285.1 423.0,285.1 423.6,285.1 424.3,285.0 424.9,285.0 425.6,285.0 426.3,285.0 426.9,284.9 427.6,284.9 428.3,284.9 428.9,284.9 429.6,284.9 430.2,284.8 430.9,284.8 431.6,284.8 432.2,284.8 432.9,284.8 433.6,284.7 434.2,284.7 434.9,284.7 435.5,284.7 436.2,284.7 436.9,284.7 437.5,284.7 438.2,284.7 438.9,284.6 439.5,284.6 440.2,284.6 440.8,284.6 441.5,284.6 442.2,284.6 442.8,284.6 443.5,284.6 444.2,284.6 444.8,284.6 445.5,284.6 446.1,284.6 446.8,284.6 447.5,284.6 448.1,284.5 448.8,284.5 449.5,284.5 450.1,284.5 450.8,284.5 451.4,284.5 452.1,284.5 452.8,284.5 453.4,284.5 454.1,284.5 454.8,284.5 455.4,284.5 456.1,284.5 456.7,284.5 457.4,284.5 458.1,284.5 458.7,284.5 459.4,284.5 460.1,284.6 460.7,284.6 461.4,284.6 462.0,284.6 462.7,284.6 463.4,284.6 464.0,284.6 464.7,284.6 465.4,284.6 466.0,284.6 466.7,284.6 467.4,284.6 468.0,284.6 468.7,284.6 469.3,284.6 470.0,284.6 470.7,284.7 471.3,284.7 472.0,284.7 472.7,284.7 473.3,284.7 474.0,284.7 474.6,284.7 475.3,284.7 476.0,284.7 476.6,284.8 477.3,284.8 478.0,284.8 478.6,284.8 479.3,284.8 479.9,284.8 480.6,284.9 481.3,284.9 481.9,284.9 482.6,284.9 483.3,284.9 483.9,284.9 484.6,285.0 485.2,285.0 485.9,285.0 486.6,285.0 487.2,285.0 487.9,285.1 488.6,285.1 489.2,285.1 489.9,285.1 490.5,285.2 491.2,285.2 491.9,285.2 492.5,285.2 493.2,285.3 493.9,285.3 494.5,285.3 495.2,285.3 495.8,285.4 496.5,285.4 497.2,285.4 497.8,285.4 498.5,285.5 499.2,285.5 499.8,285.5 500.5,285.6" fill="none" stroke="#6f656c" stroke-width="1.05" stroke-dasharray="2.7 2.2"/>
<polyline points="309.0,214.5 309.6,216.8 310.3,219.0 311.0,221.1 311.6,223.2 312.3,225.2 312.9,227.2 313.6,229.2 314.3,231.1 314.9,232.9 315.6,234.8 316.3,236.7 316.9,238.5 317.6,240.3 318.3,242.0 318.9,243.6 319.6,245.3 320.2,246.8 320.9,248.4 321.6,249.9 322.2,251.4 322.9,252.9 323.6,254.3 324.2,255.7 324.9,257.0 325.5,258.4 326.2,259.7 326.9,261.1 327.5,262.3 328.2,263.6 328.9,264.9 329.5,266.1 330.2,267.3 330.8,268.5 331.5,269.7 332.2,270.9 332.8,272.0 333.5,273.1 334.2,274.1 334.8,275.0 335.5,276.0 336.1,276.8 336.8,277.7 337.5,278.5 338.1,279.3 338.8,280.1 339.5,280.8 340.1,281.6 340.8,282.2 341.4,282.8 342.1,283.4 342.8,283.9 343.4,284.4 344.1,284.9 344.8,285.1 345.4,285.1 346.1,285.0 346.7,284.9 347.4,284.8 348.1,284.6 348.7,284.4 349.4,284.1 350.1,283.7 350.7,283.2 351.4,282.6 352.0,282.0 352.7,281.5 353.4,280.9 354.0,280.5 354.7,280.0 355.4,279.5 356.0,279.0 356.7,278.6 357.3,278.1 358.0,277.7 358.7,277.2 359.3,276.9 360.0,276.5 360.7,276.2 361.3,275.9 362.0,275.5 362.6,275.2 363.3,275.0 364.0,274.7 364.6,274.6 365.3,274.5 366.0,274.5 366.6,274.6 367.3,274.7 368.0,274.9 368.6,275.1 369.3,275.3 369.9,275.5 370.6,275.8 371.3,276.2 371.9,276.5 372.6,276.9 373.3,277.2 373.9,277.6 374.6,277.9 375.2,278.2 375.9,278.6 376.6,278.9 377.2,279.2 377.9,279.6 378.6,279.9 379.2,280.2 379.9,280.5 380.5,280.8 381.2,281.1 381.9,281.4 382.5,281.6 383.2,281.8 383.9,281.9 384.5,282.0 385.2,282.1 385.8,282.3 386.5,282.4 387.2,282.5 387.8,282.5 388.5,282.6 389.2,282.7 389.8,282.7 390.5,282.8 391.1,282.8 391.8,282.9 392.5,282.9 393.1,283.0 393.8,283.0 394.5,283.0 395.1,283.1 395.8,283.1 396.4,283.1 397.1,283.1 397.8,283.2 398.4,283.2 399.1,283.2 399.8,283.2 400.4,283.2 401.1,283.2 401.7,283.2 402.4,283.2 403.1,283.2 403.7,283.2 404.4,283.2 405.1,283.2 405.7,283.2 406.4,283.2 407.0,283.2 407.7,283.1 408.4,283.1 409.0,283.1 409.7,283.1 410.4,283.1 411.0,283.1 411.7,283.1 412.3,283.1 413.0,283.1 413.7,283.1 414.3,283.1 415.0,283.1 415.7,283.1 416.3,283.0 417.0,283.0 417.7,283.0 418.3,283.0 419.0,283.0 419.6,283.0 420.3,283.0 421.0,283.0 421.6,282.9 422.3,282.9 423.0,282.9 423.6,282.9 424.3,282.9 424.9,282.9 425.6,282.9 426.3,282.8 426.9,282.8 427.6,282.8 428.3,282.8 428.9,282.8 429.6,282.8 430.2,282.8 430.9,282.7 431.6,282.7 432.2,282.7 432.9,282.7 433.6,282.7 434.2,282.7 434.9,282.7 435.5,282.6 436.2,282.6 436.9,282.6 437.5,282.6 438.2,282.6 438.9,282.6 439.5,282.5 440.2,282.5 440.8,282.5 441.5,282.5 442.2,282.5 442.8,282.4 443.5,282.4 444.2,282.4 444.8,282.4 445.5,282.4 446.1,282.4 446.8,282.3 447.5,282.3 448.1,282.3 448.8,282.3 449.5,282.3 450.1,282.2 450.8,282.2 451.4,282.2 452.1,282.2 452.8,282.2 453.4,282.1 454.1,282.1 454.8,282.1 455.4,282.1 456.1,282.1 456.7,282.1 457.4,282.0 458.1,282.0 458.7,282.0 459.4,282.0 460.1,282.0 460.7,282.0 461.4,281.9 462.0,281.9 462.7,281.9 463.4,281.9 464.0,281.9 464.7,281.9 465.4,281.9 466.0,281.8 466.7,281.8 467.4,281.8 468.0,281.8 468.7,281.8 469.3,281.8 470.0,281.8 470.7,281.8 471.3,281.7 472.0,281.7 472.7,281.7 473.3,281.7 474.0,281.7 474.6,281.7 475.3,281.7 476.0,281.7 476.6,281.6 477.3,281.6 478.0,281.6 478.6,281.6 479.3,281.6 479.9,281.6 480.6,281.6 481.3,281.6 481.9,281.6 482.6,281.5 483.3,281.5 483.9,281.5 484.6,281.5 485.2,281.5 485.9,281.5 486.6,281.5 487.2,281.5 487.9,281.5 488.6,281.4 489.2,281.4 489.9,281.4 490.5,281.4 491.2,281.4 491.9,281.4 492.5,281.4 493.2,281.4 493.9,281.4 494.5,281.4 495.2,281.4 495.8,281.3 496.5,281.3 497.2,281.3 497.8,281.3 498.5,281.3 499.2,281.3 499.8,281.3 500.5,281.3" fill="none" stroke="#de4f92" stroke-width="1.2"/>
<line x1="89.9" y1="198.55" x2="89.9" y2="324.85" stroke="#111" stroke-width="1.45" stroke-dasharray="3 2" stroke-dashoffset="0.4"/>
<line x1="345.3" y1="198.6" x2="345.3" y2="324.85" stroke="#111" stroke-width="1.45" stroke-dasharray="3 2" stroke-dashoffset="0.4"/>
<path d="M41.5,146.4V20.35H253.4V146.4" fill="none" stroke="#262626" stroke-width="1.35" stroke-linejoin="miter"/>
<line x1="40.85" y1="146.4" x2="254.05" y2="146.4" stroke="#262626" stroke-width="1.3"/>
<line x1="47.50" y1="146.40" x2="47.50" y2="149.00" stroke="#1a1a1a" stroke-width="1.1"/>
<text x="50.20" y="155.30" font-size="7.5" fill="#222" text-anchor="end" transform="rotate(-45 50.20 155.30)">0</text>
<line x1="60.73" y1="146.40" x2="60.73" y2="149.00" stroke="#1a1a1a" stroke-width="1.1"/>
<text x="63.43" y="155.30" font-size="7.5" fill="#222" text-anchor="end" transform="rotate(-45 63.43 155.30)">10</text>
<line x1="73.97" y1="146.40" x2="73.97" y2="149.00" stroke="#1a1a1a" stroke-width="1.1"/>
<text x="76.67" y="155.30" font-size="7.5" fill="#222" text-anchor="end" transform="rotate(-45 76.67 155.30)">20</text>
<line x1="87.20" y1="146.40" x2="87.20" y2="149.00" stroke="#1a1a1a" stroke-width="1.1"/>
<text x="89.90" y="155.30" font-size="7.5" fill="#222" text-anchor="end" transform="rotate(-45 89.90 155.30)">30</text>
<line x1="100.43" y1="146.40" x2="100.43" y2="149.00" stroke="#1a1a1a" stroke-width="1.1"/>
<text x="103.13" y="155.30" font-size="7.5" fill="#222" text-anchor="end" transform="rotate(-45 103.13 155.30)">40</text>
<line x1="113.67" y1="146.40" x2="113.67" y2="149.00" stroke="#1a1a1a" stroke-width="1.1"/>
<text x="116.37" y="155.30" font-size="7.5" fill="#222" text-anchor="end" transform="rotate(-45 116.37 155.30)">50</text>
<line x1="126.90" y1="146.40" x2="126.90" y2="149.00" stroke="#1a1a1a" stroke-width="1.1"/>
<text x="129.60" y="155.30" font-size="7.5" fill="#222" text-anchor="end" transform="rotate(-45 129.60 155.30)">60</text>
<line x1="140.13" y1="146.40" x2="140.13" y2="149.00" stroke="#1a1a1a" stroke-width="1.1"/>
<text x="142.83" y="155.30" font-size="7.5" fill="#222" text-anchor="end" transform="rotate(-45 142.83 155.30)">70</text>
<line x1="153.37" y1="146.40" x2="153.37" y2="149.00" stroke="#1a1a1a" stroke-width="1.1"/>
<text x="156.07" y="155.30" font-size="7.5" fill="#222" text-anchor="end" transform="rotate(-45 156.07 155.30)">80</text>
<line x1="166.60" y1="146.40" x2="166.60" y2="149.00" stroke="#1a1a1a" stroke-width="1.1"/>
<text x="169.30" y="155.30" font-size="7.5" fill="#222" text-anchor="end" transform="rotate(-45 169.30 155.30)">90</text>
<line x1="179.83" y1="146.40" x2="179.83" y2="149.00" stroke="#1a1a1a" stroke-width="1.1"/>
<text x="182.53" y="155.30" font-size="7.5" fill="#222" text-anchor="end" transform="rotate(-45 182.53 155.30)">100</text>
<line x1="193.07" y1="146.40" x2="193.07" y2="149.00" stroke="#1a1a1a" stroke-width="1.1"/>
<text x="195.77" y="155.30" font-size="7.5" fill="#222" text-anchor="end" transform="rotate(-45 195.77 155.30)">110</text>
<line x1="206.30" y1="146.40" x2="206.30" y2="149.00" stroke="#1a1a1a" stroke-width="1.1"/>
<text x="209.00" y="155.30" font-size="7.5" fill="#222" text-anchor="end" transform="rotate(-45 209.00 155.30)">120</text>
<line x1="219.53" y1="146.40" x2="219.53" y2="149.00" stroke="#1a1a1a" stroke-width="1.1"/>
<text x="222.23" y="155.30" font-size="7.5" fill="#222" text-anchor="end" transform="rotate(-45 222.23 155.30)">130</text>
<line x1="232.77" y1="146.40" x2="232.77" y2="149.00" stroke="#1a1a1a" stroke-width="1.1"/>
<text x="235.47" y="155.30" font-size="7.5" fill="#222" text-anchor="end" transform="rotate(-45 235.47 155.30)">140</text>
<line x1="246.00" y1="146.40" x2="246.00" y2="149.00" stroke="#1a1a1a" stroke-width="1.1"/>
<text x="248.70" y="155.30" font-size="7.5" fill="#222" text-anchor="end" transform="rotate(-45 248.70 155.30)">150</text>
<path d="M299.2,146.4V20.35H510.9V146.4" fill="none" stroke="#262626" stroke-width="1.35" stroke-linejoin="miter"/>
<line x1="298.55" y1="146.4" x2="511.54999999999995" y2="146.4" stroke="#262626" stroke-width="1.3"/>
<line x1="304.80" y1="146.40" x2="304.80" y2="149.00" stroke="#1a1a1a" stroke-width="1.1"/>
<text x="307.50" y="155.30" font-size="7.5" fill="#222" text-anchor="end" transform="rotate(-45 307.50 155.30)">0</text>
<line x1="318.05" y1="146.40" x2="318.05" y2="149.00" stroke="#1a1a1a" stroke-width="1.1"/>
<text x="320.75" y="155.30" font-size="7.5" fill="#222" text-anchor="end" transform="rotate(-45 320.75 155.30)">10</text>
<line x1="331.31" y1="146.40" x2="331.31" y2="149.00" stroke="#1a1a1a" stroke-width="1.1"/>
<text x="334.01" y="155.30" font-size="7.5" fill="#222" text-anchor="end" transform="rotate(-45 334.01 155.30)">20</text>
<line x1="344.56" y1="146.40" x2="344.56" y2="149.00" stroke="#1a1a1a" stroke-width="1.1"/>
<text x="347.26" y="155.30" font-size="7.5" fill="#222" text-anchor="end" transform="rotate(-45 347.26 155.30)">30</text>
<line x1="357.81" y1="146.40" x2="357.81" y2="149.00" stroke="#1a1a1a" stroke-width="1.1"/>
<text x="360.51" y="155.30" font-size="7.5" fill="#222" text-anchor="end" transform="rotate(-45 360.51 155.30)">40</text>
<line x1="371.07" y1="146.40" x2="371.07" y2="149.00" stroke="#1a1a1a" stroke-width="1.1"/>
<text x="373.77" y="155.30" font-size="7.5" fill="#222" text-anchor="end" transform="rotate(-45 373.77 155.30)">50</text>
<line x1="384.32" y1="146.40" x2="384.32" y2="149.00" stroke="#1a1a1a" stroke-width="1.1"/>
<text x="387.02" y="155.30" font-size="7.5" fill="#222" text-anchor="end" transform="rotate(-45 387.02 155.30)">60</text>
<line x1="397.57" y1="146.40" x2="397.57" y2="149.00" stroke="#1a1a1a" stroke-width="1.1"/>
<text x="400.27" y="155.30" font-size="7.5" fill="#222" text-anchor="end" transform="rotate(-45 400.27 155.30)">70</text>
<line x1="410.83" y1="146.40" x2="410.83" y2="149.00" stroke="#1a1a1a" stroke-width="1.1"/>
<text x="413.53" y="155.30" font-size="7.5" fill="#222" text-anchor="end" transform="rotate(-45 413.53 155.30)">80</text>
<line x1="424.08" y1="146.40" x2="424.08" y2="149.00" stroke="#1a1a1a" stroke-width="1.1"/>
<text x="426.78" y="155.30" font-size="7.5" fill="#222" text-anchor="end" transform="rotate(-45 426.78 155.30)">90</text>
<line x1="437.33" y1="146.40" x2="437.33" y2="149.00" stroke="#1a1a1a" stroke-width="1.1"/>
<text x="440.03" y="155.30" font-size="7.5" fill="#222" text-anchor="end" transform="rotate(-45 440.03 155.30)">100</text>
<line x1="450.59" y1="146.40" x2="450.59" y2="149.00" stroke="#1a1a1a" stroke-width="1.1"/>
<text x="453.29" y="155.30" font-size="7.5" fill="#222" text-anchor="end" transform="rotate(-45 453.29 155.30)">110</text>
<line x1="463.84" y1="146.40" x2="463.84" y2="149.00" stroke="#1a1a1a" stroke-width="1.1"/>
<text x="466.54" y="155.30" font-size="7.5" fill="#222" text-anchor="end" transform="rotate(-45 466.54 155.30)">120</text>
<line x1="477.09" y1="146.40" x2="477.09" y2="149.00" stroke="#1a1a1a" stroke-width="1.1"/>
<text x="479.79" y="155.30" font-size="7.5" fill="#222" text-anchor="end" transform="rotate(-45 479.79 155.30)">130</text>
<line x1="490.35" y1="146.40" x2="490.35" y2="149.00" stroke="#1a1a1a" stroke-width="1.1"/>
<text x="493.05" y="155.30" font-size="7.5" fill="#222" text-anchor="end" transform="rotate(-45 493.05 155.30)">140</text>
<line x1="503.60" y1="146.40" x2="503.60" y2="149.00" stroke="#1a1a1a" stroke-width="1.1"/>
<text x="506.30" y="155.30" font-size="7.5" fill="#222" text-anchor="end" transform="rotate(-45 506.30 155.30)">150</text>
<path d="M41.5,324.85V198.55H253.4V324.85" fill="none" stroke="#262626" stroke-width="1.35" stroke-linejoin="miter"/>
<line x1="40.85" y1="324.85" x2="254.05" y2="324.85" stroke="#383838" stroke-width="1.7"/>
<line x1="47.60" y1="324.85" x2="47.60" y2="327.45" stroke="#1a1a1a" stroke-width="1.1"/>
<text x="50.30" y="333.75" font-size="7.5" fill="#222" text-anchor="end" transform="rotate(-45 50.30 333.75)">0</text>
<line x1="60.83" y1="324.85" x2="60.83" y2="327.45" stroke="#1a1a1a" stroke-width="1.1"/>
<text x="63.53" y="333.75" font-size="7.5" fill="#222" text-anchor="end" transform="rotate(-45 63.53 333.75)">10</text>
<line x1="74.07" y1="324.85" x2="74.07" y2="327.45" stroke="#1a1a1a" stroke-width="1.1"/>
<text x="76.77" y="333.75" font-size="7.5" fill="#222" text-anchor="end" transform="rotate(-45 76.77 333.75)">20</text>
<line x1="87.30" y1="324.85" x2="87.30" y2="327.45" stroke="#1a1a1a" stroke-width="1.1"/>
<text x="90.00" y="333.75" font-size="7.5" fill="#222" text-anchor="end" transform="rotate(-45 90.00 333.75)">30</text>
<line x1="100.53" y1="324.85" x2="100.53" y2="327.45" stroke="#1a1a1a" stroke-width="1.1"/>
<text x="103.23" y="333.75" font-size="7.5" fill="#222" text-anchor="end" transform="rotate(-45 103.23 333.75)">40</text>
<line x1="113.77" y1="324.85" x2="113.77" y2="327.45" stroke="#1a1a1a" stroke-width="1.1"/>
<text x="116.47" y="333.75" font-size="7.5" fill="#222" text-anchor="end" transform="rotate(-45 116.47 333.75)">50</text>
<line x1="127.00" y1="324.85" x2="127.00" y2="327.45" stroke="#1a1a1a" stroke-width="1.1"/>
<text x="129.70" y="333.75" font-size="7.5" fill="#222" text-anchor="end" transform="rotate(-45 129.70 333.75)">60</text>
<line x1="140.23" y1="324.85" x2="140.23" y2="327.45" stroke="#1a1a1a" stroke-width="1.1"/>
<text x="142.93" y="333.75" font-size="7.5" fill="#222" text-anchor="end" transform="rotate(-45 142.93 333.75)">70</text>
<line x1="153.47" y1="324.85" x2="153.47" y2="327.45" stroke="#1a1a1a" stroke-width="1.1"/>
<text x="156.17" y="333.75" font-size="7.5" fill="#222" text-anchor="end" transform="rotate(-45 156.17 333.75)">80</text>
<line x1="166.70" y1="324.85" x2="166.70" y2="327.45" stroke="#1a1a1a" stroke-width="1.1"/>
<text x="169.40" y="333.75" font-size="7.5" fill="#222" text-anchor="end" transform="rotate(-45 169.40 333.75)">90</text>
<line x1="179.93" y1="324.85" x2="179.93" y2="327.45" stroke="#1a1a1a" stroke-width="1.1"/>
<text x="182.63" y="333.75" font-size="7.5" fill="#222" text-anchor="end" transform="rotate(-45 182.63 333.75)">100</text>
<line x1="193.17" y1="324.85" x2="193.17" y2="327.45" stroke="#1a1a1a" stroke-width="1.1"/>
<text x="195.87" y="333.75" font-size="7.5" fill="#222" text-anchor="end" transform="rotate(-45 195.87 333.75)">110</text>
<line x1="206.40" y1="324.85" x2="206.40" y2="327.45" stroke="#1a1a1a" stroke-width="1.1"/>
<text x="209.10" y="333.75" font-size="7.5" fill="#222" text-anchor="end" transform="rotate(-45 209.10 333.75)">120</text>
<line x1="219.63" y1="324.85" x2="219.63" y2="327.45" stroke="#1a1a1a" stroke-width="1.1"/>
<text x="222.33" y="333.75" font-size="7.5" fill="#222" text-anchor="end" transform="rotate(-45 222.33 333.75)">130</text>
<line x1="232.87" y1="324.85" x2="232.87" y2="327.45" stroke="#1a1a1a" stroke-width="1.1"/>
<text x="235.57" y="333.75" font-size="7.5" fill="#222" text-anchor="end" transform="rotate(-45 235.57 333.75)">140</text>
<line x1="246.10" y1="324.85" x2="246.10" y2="327.45" stroke="#1a1a1a" stroke-width="1.1"/>
<text x="248.80" y="333.75" font-size="7.5" fill="#222" text-anchor="end" transform="rotate(-45 248.80 333.75)">150</text>
<path d="M299.1,324.85V198.6H511.0V324.85" fill="none" stroke="#262626" stroke-width="1.35" stroke-linejoin="miter"/>
<line x1="298.45000000000005" y1="324.85" x2="511.65" y2="324.85" stroke="#383838" stroke-width="1.7"/>
<line x1="304.60" y1="324.85" x2="304.60" y2="327.45" stroke="#1a1a1a" stroke-width="1.1"/>
<text x="307.30" y="333.75" font-size="7.5" fill="#222" text-anchor="end" transform="rotate(-45 307.30 333.75)">0</text>
<line x1="317.85" y1="324.85" x2="317.85" y2="327.45" stroke="#1a1a1a" stroke-width="1.1"/>
<text x="320.55" y="333.75" font-size="7.5" fill="#222" text-anchor="end" transform="rotate(-45 320.55 333.75)">10</text>
<line x1="331.11" y1="324.85" x2="331.11" y2="327.45" stroke="#1a1a1a" stroke-width="1.1"/>
<text x="333.81" y="333.75" font-size="7.5" fill="#222" text-anchor="end" transform="rotate(-45 333.81 333.75)">20</text>
<line x1="344.36" y1="324.85" x2="344.36" y2="327.45" stroke="#1a1a1a" stroke-width="1.1"/>
<text x="347.06" y="333.75" font-size="7.5" fill="#222" text-anchor="end" transform="rotate(-45 347.06 333.75)">30</text>
<line x1="357.61" y1="324.85" x2="357.61" y2="327.45" stroke="#1a1a1a" stroke-width="1.1"/>
<text x="360.31" y="333.75" font-size="7.5" fill="#222" text-anchor="end" transform="rotate(-45 360.31 333.75)">40</text>
<line x1="370.87" y1="324.85" x2="370.87" y2="327.45" stroke="#1a1a1a" stroke-width="1.1"/>
<text x="373.57" y="333.75" font-size="7.5" fill="#222" text-anchor="end" transform="rotate(-45 373.57 333.75)">50</text>
<line x1="384.12" y1="324.85" x2="384.12" y2="327.45" stroke="#1a1a1a" stroke-width="1.1"/>
<text x="386.82" y="333.75" font-size="7.5" fill="#222" text-anchor="end" transform="rotate(-45 386.82 333.75)">60</text>
<line x1="397.37" y1="324.85" x2="397.37" y2="327.45" stroke="#1a1a1a" stroke-width="1.1"/>
<text x="400.07" y="333.75" font-size="7.5" fill="#222" text-anchor="end" transform="rotate(-45 400.07 333.75)">70</text>
<line x1="410.63" y1="324.85" x2="410.63" y2="327.45" stroke="#1a1a1a" stroke-width="1.1"/>
<text x="413.33" y="333.75" font-size="7.5" fill="#222" text-anchor="end" transform="rotate(-45 413.33 333.75)">80</text>
<line x1="423.88" y1="324.85" x2="423.88" y2="327.45" stroke="#1a1a1a" stroke-width="1.1"/>
<text x="426.58" y="333.75" font-size="7.5" fill="#222" text-anchor="end" transform="rotate(-45 426.58 333.75)">90</text>
<line x1="437.13" y1="324.85" x2="437.13" y2="327.45" stroke="#1a1a1a" stroke-width="1.1"/>
<text x="439.83" y="333.75" font-size="7.5" fill="#222" text-anchor="end" transform="rotate(-45 439.83 333.75)">100</text>
<line x1="450.39" y1="324.85" x2="450.39" y2="327.45" stroke="#1a1a1a" stroke-width="1.1"/>
<text x="453.09" y="333.75" font-size="7.5" fill="#222" text-anchor="end" transform="rotate(-45 453.09 333.75)">110</text>
<line x1="463.64" y1="324.85" x2="463.64" y2="327.45" stroke="#1a1a1a" stroke-width="1.1"/>
<text x="466.34" y="333.75" font-size="7.5" fill="#222" text-anchor="end" transform="rotate(-45 466.34 333.75)">120</text>
<line x1="476.89" y1="324.85" x2="476.89" y2="327.45" stroke="#1a1a1a" stroke-width="1.1"/>
<text x="479.59" y="333.75" font-size="7.5" fill="#222" text-anchor="end" transform="rotate(-45 479.59 333.75)">130</text>
<line x1="490.15" y1="324.85" x2="490.15" y2="327.45" stroke="#1a1a1a" stroke-width="1.1"/>
<text x="492.85" y="333.75" font-size="7.5" fill="#222" text-anchor="end" transform="rotate(-45 492.85 333.75)">140</text>
<line x1="503.40" y1="324.85" x2="503.40" y2="327.45" stroke="#1a1a1a" stroke-width="1.1"/>
<text x="506.10" y="333.75" font-size="7.5" fill="#222" text-anchor="end" transform="rotate(-45 506.10 333.75)">150</text>
<line x1="38.20" y1="139.30" x2="41.50" y2="139.30" stroke="#1a1a1a" stroke-width="1.2"/>
<text x="35.50" y="141.80" font-size="7.2" fill="#222" text-anchor="end">6</text>
<line x1="38.20" y1="119.70" x2="41.50" y2="119.70" stroke="#1a1a1a" stroke-width="1.2"/>
<text x="35.50" y="122.20" font-size="7.2" fill="#222" text-anchor="end">8</text>
<line x1="38.20" y1="100.10" x2="41.50" y2="100.10" stroke="#1a1a1a" stroke-width="1.2"/>
<text x="35.50" y="102.60" font-size="7.2" fill="#222" text-anchor="end">10</text>
<line x1="38.20" y1="80.50" x2="41.50" y2="80.50" stroke="#1a1a1a" stroke-width="1.2"/>
<text x="35.50" y="83.00" font-size="7.2" fill="#222" text-anchor="end">12</text>
<line x1="38.20" y1="60.90" x2="41.50" y2="60.90" stroke="#1a1a1a" stroke-width="1.2"/>
<text x="35.50" y="63.40" font-size="7.2" fill="#222" text-anchor="end">14</text>
<line x1="38.20" y1="41.30" x2="41.50" y2="41.30" stroke="#1a1a1a" stroke-width="1.2"/>
<text x="35.50" y="43.80" font-size="7.2" fill="#222" text-anchor="end">16</text>
<line x1="295.90" y1="135.88" x2="299.20" y2="135.88" stroke="#1a1a1a" stroke-width="1.2"/>
<text x="292.90" y="138.38" font-size="7.2" fill="#222" text-anchor="end">0.5</text>
<line x1="295.90" y1="120.14" x2="299.20" y2="120.14" stroke="#1a1a1a" stroke-width="1.2"/>
<text x="292.90" y="122.64" font-size="7.2" fill="#222" text-anchor="end">1.0</text>
<line x1="295.90" y1="104.40" x2="299.20" y2="104.40" stroke="#1a1a1a" stroke-width="1.2"/>
<text x="292.90" y="106.90" font-size="7.2" fill="#222" text-anchor="end">1.5</text>
<line x1="295.90" y1="88.66" x2="299.20" y2="88.66" stroke="#1a1a1a" stroke-width="1.2"/>
<text x="292.90" y="91.16" font-size="7.2" fill="#222" text-anchor="end">2.0</text>
<line x1="295.90" y1="72.92" x2="299.20" y2="72.92" stroke="#1a1a1a" stroke-width="1.2"/>
<text x="292.90" y="75.42" font-size="7.2" fill="#222" text-anchor="end">2.5</text>
<line x1="295.90" y1="57.18" x2="299.20" y2="57.18" stroke="#1a1a1a" stroke-width="1.2"/>
<text x="292.90" y="59.68" font-size="7.2" fill="#222" text-anchor="end">3.0</text>
<line x1="295.90" y1="41.44" x2="299.20" y2="41.44" stroke="#1a1a1a" stroke-width="1.2"/>
<text x="292.90" y="43.94" font-size="7.2" fill="#222" text-anchor="end">3.5</text>
<line x1="295.90" y1="25.70" x2="299.20" y2="25.70" stroke="#1a1a1a" stroke-width="1.2"/>
<text x="292.90" y="28.20" font-size="7.2" fill="#222" text-anchor="end">4.0</text>
<line x1="38.20" y1="319.35" x2="41.50" y2="319.35" stroke="#1a1a1a" stroke-width="1.2"/>
<text x="35.50" y="321.85" font-size="7.2" fill="#222" text-anchor="end">10.0</text>
<line x1="38.20" y1="307.88" x2="41.50" y2="307.88" stroke="#1a1a1a" stroke-width="1.2"/>
<text x="35.50" y="310.38" font-size="7.2" fill="#222" text-anchor="end">10.5</text>
<line x1="38.20" y1="296.42" x2="41.50" y2="296.42" stroke="#1a1a1a" stroke-width="1.2"/>
<text x="35.50" y="298.92" font-size="7.2" fill="#222" text-anchor="end">11.0</text>
<line x1="38.20" y1="284.95" x2="41.50" y2="284.95" stroke="#1a1a1a" stroke-width="1.2"/>
<text x="35.50" y="287.45" font-size="7.2" fill="#222" text-anchor="end">11.5</text>
<line x1="38.20" y1="273.49" x2="41.50" y2="273.49" stroke="#1a1a1a" stroke-width="1.2"/>
<text x="35.50" y="275.99" font-size="7.2" fill="#222" text-anchor="end">12.0</text>
<line x1="38.20" y1="262.02" x2="41.50" y2="262.02" stroke="#1a1a1a" stroke-width="1.2"/>
<text x="35.50" y="264.52" font-size="7.2" fill="#222" text-anchor="end">12.5</text>
<line x1="38.20" y1="250.56" x2="41.50" y2="250.56" stroke="#1a1a1a" stroke-width="1.2"/>
<text x="35.50" y="253.06" font-size="7.2" fill="#222" text-anchor="end">13.0</text>
<line x1="38.20" y1="239.09" x2="41.50" y2="239.09" stroke="#1a1a1a" stroke-width="1.2"/>
<text x="35.50" y="241.59" font-size="7.2" fill="#222" text-anchor="end">13.5</text>
<line x1="38.20" y1="227.63" x2="41.50" y2="227.63" stroke="#1a1a1a" stroke-width="1.2"/>
<text x="35.50" y="230.13" font-size="7.2" fill="#222" text-anchor="end">14.0</text>
<line x1="38.20" y1="216.16" x2="41.50" y2="216.16" stroke="#1a1a1a" stroke-width="1.2"/>
<text x="35.50" y="218.66" font-size="7.2" fill="#222" text-anchor="end">14.5</text>
<line x1="38.20" y1="204.70" x2="41.50" y2="204.70" stroke="#1a1a1a" stroke-width="1.2"/>
<text x="35.50" y="207.20" font-size="7.2" fill="#222" text-anchor="end">15.0</text>
<line x1="295.80" y1="319.39" x2="299.10" y2="319.39" stroke="#1a1a1a" stroke-width="1.2"/>
<text x="292.30" y="321.89" font-size="7.2" fill="#222" text-anchor="end">0.50</text>
<line x1="295.80" y1="300.26" x2="299.10" y2="300.26" stroke="#1a1a1a" stroke-width="1.2"/>
<text x="292.30" y="302.76" font-size="7.2" fill="#222" text-anchor="end">0.75</text>
<line x1="295.80" y1="281.13" x2="299.10" y2="281.13" stroke="#1a1a1a" stroke-width="1.2"/>
<text x="292.30" y="283.63" font-size="7.2" fill="#222" text-anchor="end">1.00</text>
<line x1="295.80" y1="262.00" x2="299.10" y2="262.00" stroke="#1a1a1a" stroke-width="1.2"/>
<text x="292.30" y="264.50" font-size="7.2" fill="#222" text-anchor="end">1.25</text>
<line x1="295.80" y1="242.87" x2="299.10" y2="242.87" stroke="#1a1a1a" stroke-width="1.2"/>
<text x="292.30" y="245.37" font-size="7.2" fill="#222" text-anchor="end">1.50</text>
<line x1="295.80" y1="223.73" x2="299.10" y2="223.73" stroke="#1a1a1a" stroke-width="1.2"/>
<text x="292.30" y="226.23" font-size="7.2" fill="#222" text-anchor="end">1.75</text>
<line x1="295.80" y1="204.60" x2="299.10" y2="204.60" stroke="#1a1a1a" stroke-width="1.2"/>
<text x="292.30" y="207.10" font-size="7.2" fill="#222" text-anchor="end">2.00</text>
<text x="21.3" y="109.85" font-size="8.6" fill="#222" textLength="33.00" lengthAdjust="spacingAndGlyphs" transform="rotate(-90 21.3 109.85)">Hemoglobin</text>
<text x="21.3" y="75.25" font-size="8.6" fill="#222" textLength="18.70" lengthAdjust="spacingAndGlyphs" transform="rotate(-90 21.3 75.25)">(g/dL)</text>
<text x="15.3" y="287.95" font-size="8.6" fill="#222" textLength="33.00" lengthAdjust="spacingAndGlyphs" transform="rotate(-90 15.3 287.95)">Hemoglobin</text>
<text x="15.3" y="253.15" font-size="8.6" fill="#222" textLength="17.70" lengthAdjust="spacingAndGlyphs" transform="rotate(-90 15.3 253.15)">(g/dL)</text>
<text x="276.6" y="138.45" font-size="8.6" fill="#222" textLength="89.50" lengthAdjust="spacingAndGlyphs" transform="rotate(-90 276.6 138.45)">Erythrocyte zinc protoporphyrin,</text>
<text x="276.6" y="47.45" font-size="8.6" fill="#222" textLength="17.40" lengthAdjust="spacingAndGlyphs" transform="rotate(-90 276.6 47.45)">µg/dL</text>
<text x="271.6" y="311.55" font-size="8.6" fill="#222" textLength="75.20" lengthAdjust="spacingAndGlyphs" transform="rotate(-90 271.6 311.55)">Erythrocyte protoporphyrin,</text>
<text x="271.6" y="235.05" font-size="8.6" fill="#222" textLength="23.10" lengthAdjust="spacingAndGlyphs" transform="rotate(-90 271.6 235.05)">µmol/L</text>
<text x="116.65" y="355.2" font-size="8.8" fill="#222" textLength="38.70" lengthAdjust="spacingAndGlyphs">Serum ferritin</text>
<text x="157.75" y="355.2" font-size="8.8" fill="#222" textLength="20.70" lengthAdjust="spacingAndGlyphs">(µg/L)</text>
<text x="374.55" y="355.4" font-size="8.8" fill="#222" textLength="38.80" lengthAdjust="spacingAndGlyphs">Serum ferritin</text>
<text x="414.95" y="355.4" font-size="8.8" fill="#222" textLength="20.80" lengthAdjust="spacingAndGlyphs">(µg/L)</text>
<text x="15.2" y="17.7" font-size="10.6" font-weight="bold" fill="#111" class="b">A</text>
<text x="270.9" y="17.4" font-size="10.6" font-weight="bold" fill="#111" class="b">B</text>
<text x="8.9" y="195.8" font-size="10.6" font-weight="bold" fill="#111" class="b">C</text>
<text x="266.7" y="195.7" font-size="10.6" font-weight="bold" fill="#111" class="b">D</text>
<rect x="0.6" y="0.6" width="518.8" height="364.8" fill="none" stroke="#555" stroke-width="1.2"/>
</svg></body></html>
